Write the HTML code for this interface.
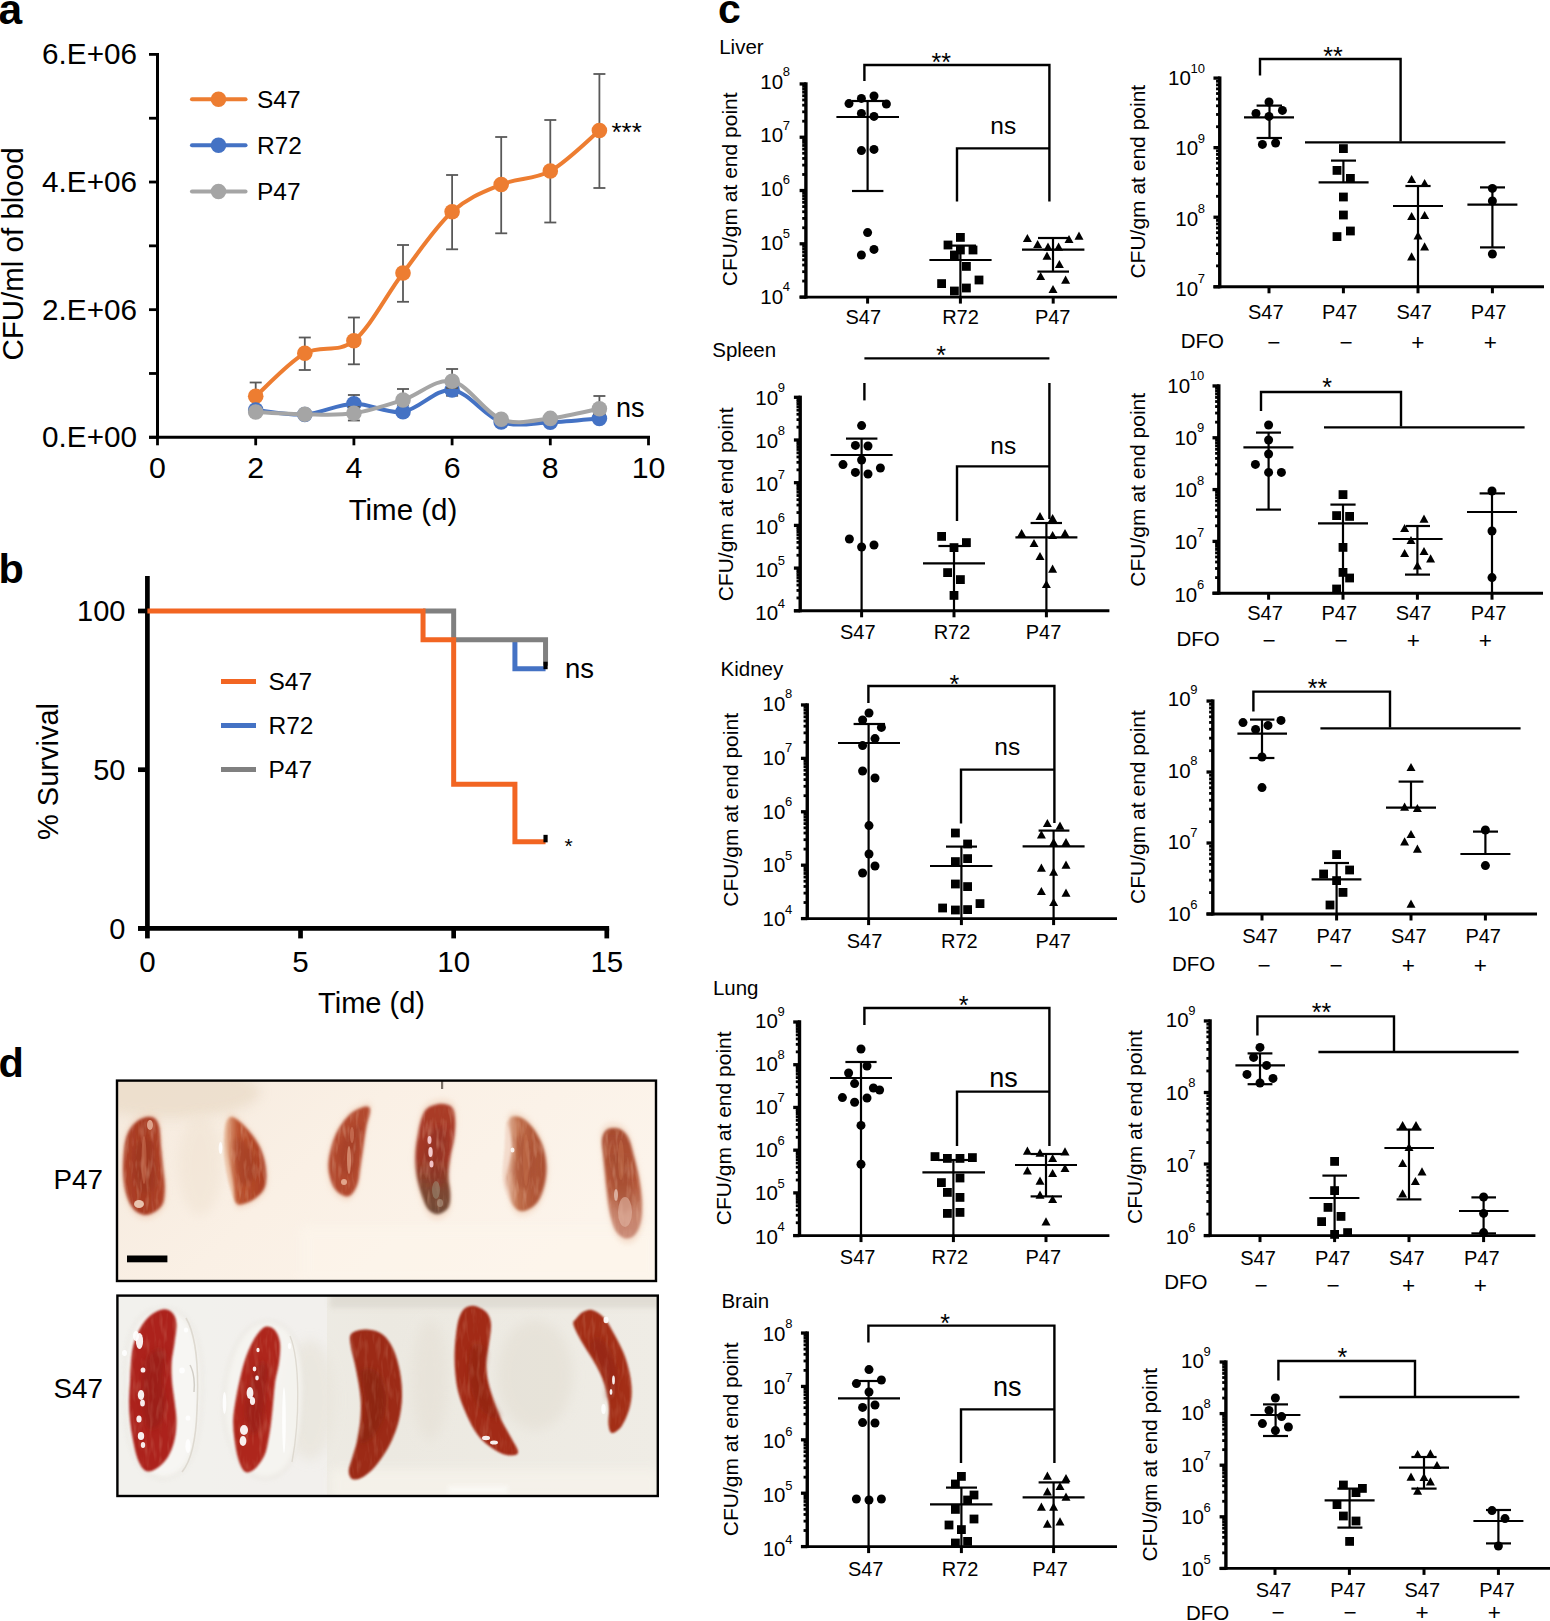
<!DOCTYPE html>
<html lang="en">
<head>
<meta charset="utf-8">
<title>Figure</title>
<style>
html,body{margin:0;padding:0;background:#fff;}
body{width:1550px;height:1621px;overflow:hidden;}
svg{display:block;}
text{font-family:'Liberation Sans', Arial, Helvetica, sans-serif;}
</style>
</head>
<body>
<svg width="1550" height="1621" viewBox="0 0 1550 1621" font-family="'Liberation Sans', Arial, Helvetica, sans-serif" fill="#000">
<rect x="0" y="0" width="1550" height="1621" fill="#fff"/>
<g id="panel-a">
<text x="-1.5" y="23.5" font-size="42.5" text-anchor="start" font-weight="bold">a</text>
<line x1="157.5" y1="52.9" x2="157.5" y2="438.8" stroke="#000" stroke-width="3" stroke-linecap="butt"/>
<line x1="149" y1="437.3" x2="650" y2="437.3" stroke="#000" stroke-width="3" stroke-linecap="butt"/>
<line x1="149" y1="437.3" x2="157.5" y2="437.3" stroke="#000" stroke-width="2.8" stroke-linecap="butt"/>
<line x1="149" y1="373.48" x2="157.5" y2="373.48" stroke="#000" stroke-width="2.8" stroke-linecap="butt"/>
<line x1="149" y1="309.67" x2="157.5" y2="309.67" stroke="#000" stroke-width="2.8" stroke-linecap="butt"/>
<line x1="149" y1="245.85" x2="157.5" y2="245.85" stroke="#000" stroke-width="2.8" stroke-linecap="butt"/>
<line x1="149" y1="182.03" x2="157.5" y2="182.03" stroke="#000" stroke-width="2.8" stroke-linecap="butt"/>
<line x1="149" y1="118.22" x2="157.5" y2="118.22" stroke="#000" stroke-width="2.8" stroke-linecap="butt"/>
<line x1="149" y1="54.4" x2="157.5" y2="54.4" stroke="#000" stroke-width="2.8" stroke-linecap="butt"/>
<text x="137" y="447.2" font-size="29.7" text-anchor="end" font-weight="normal">0.E+00</text>
<text x="137" y="319.57" font-size="29.7" text-anchor="end" font-weight="normal">2.E+06</text>
<text x="137" y="191.93" font-size="29.7" text-anchor="end" font-weight="normal">4.E+06</text>
<text x="137" y="64.3" font-size="29.7" text-anchor="end" font-weight="normal">6.E+06</text>
<line x1="157.5" y1="437.3" x2="157.5" y2="445.3" stroke="#000" stroke-width="2.8" stroke-linecap="butt"/>
<text x="157.5" y="478.2" font-size="30.3" text-anchor="middle" font-weight="normal">0</text>
<line x1="255.7" y1="437.3" x2="255.7" y2="445.3" stroke="#000" stroke-width="2.8" stroke-linecap="butt"/>
<text x="255.7" y="478.2" font-size="30.3" text-anchor="middle" font-weight="normal">2</text>
<line x1="353.9" y1="437.3" x2="353.9" y2="445.3" stroke="#000" stroke-width="2.8" stroke-linecap="butt"/>
<text x="353.9" y="478.2" font-size="30.3" text-anchor="middle" font-weight="normal">4</text>
<line x1="452.1" y1="437.3" x2="452.1" y2="445.3" stroke="#000" stroke-width="2.8" stroke-linecap="butt"/>
<text x="452.1" y="478.2" font-size="30.3" text-anchor="middle" font-weight="normal">6</text>
<line x1="550.3" y1="437.3" x2="550.3" y2="445.3" stroke="#000" stroke-width="2.8" stroke-linecap="butt"/>
<text x="550.3" y="478.2" font-size="30.3" text-anchor="middle" font-weight="normal">8</text>
<line x1="648.5" y1="437.3" x2="648.5" y2="445.3" stroke="#000" stroke-width="2.8" stroke-linecap="butt"/>
<text x="648.5" y="478.2" font-size="30.3" text-anchor="middle" font-weight="normal">10</text>
<text x="403" y="520" font-size="29.5" text-anchor="middle" font-weight="normal">Time (d)</text>
<text x="22.7" y="254" font-size="29.5" text-anchor="middle" font-weight="normal" transform="rotate(-90 22.7 254)">CFU/ml of blood</text>
<line x1="255.7" y1="382.5" x2="255.7" y2="410" stroke="#595959" stroke-width="1.8" stroke-linecap="butt"/>
<line x1="249.7" y1="382.5" x2="261.7" y2="382.5" stroke="#595959" stroke-width="1.8" stroke-linecap="butt"/>
<line x1="249.7" y1="410" x2="261.7" y2="410" stroke="#595959" stroke-width="1.8" stroke-linecap="butt"/>
<line x1="304.8" y1="337.5" x2="304.8" y2="370" stroke="#595959" stroke-width="1.8" stroke-linecap="butt"/>
<line x1="298.8" y1="337.5" x2="310.8" y2="337.5" stroke="#595959" stroke-width="1.8" stroke-linecap="butt"/>
<line x1="298.8" y1="370" x2="310.8" y2="370" stroke="#595959" stroke-width="1.8" stroke-linecap="butt"/>
<line x1="353.9" y1="317.5" x2="353.9" y2="364.3" stroke="#595959" stroke-width="1.8" stroke-linecap="butt"/>
<line x1="347.9" y1="317.5" x2="359.9" y2="317.5" stroke="#595959" stroke-width="1.8" stroke-linecap="butt"/>
<line x1="347.9" y1="364.3" x2="359.9" y2="364.3" stroke="#595959" stroke-width="1.8" stroke-linecap="butt"/>
<line x1="403" y1="245" x2="403" y2="301.8" stroke="#595959" stroke-width="1.8" stroke-linecap="butt"/>
<line x1="397" y1="245" x2="409" y2="245" stroke="#595959" stroke-width="1.8" stroke-linecap="butt"/>
<line x1="397" y1="301.8" x2="409" y2="301.8" stroke="#595959" stroke-width="1.8" stroke-linecap="butt"/>
<line x1="452.1" y1="175" x2="452.1" y2="249.3" stroke="#595959" stroke-width="1.8" stroke-linecap="butt"/>
<line x1="446.1" y1="175" x2="458.1" y2="175" stroke="#595959" stroke-width="1.8" stroke-linecap="butt"/>
<line x1="446.1" y1="249.3" x2="458.1" y2="249.3" stroke="#595959" stroke-width="1.8" stroke-linecap="butt"/>
<line x1="501.2" y1="137" x2="501.2" y2="233.3" stroke="#595959" stroke-width="1.8" stroke-linecap="butt"/>
<line x1="495.2" y1="137" x2="507.2" y2="137" stroke="#595959" stroke-width="1.8" stroke-linecap="butt"/>
<line x1="495.2" y1="233.3" x2="507.2" y2="233.3" stroke="#595959" stroke-width="1.8" stroke-linecap="butt"/>
<line x1="550.3" y1="120" x2="550.3" y2="222.5" stroke="#595959" stroke-width="1.8" stroke-linecap="butt"/>
<line x1="544.3" y1="120" x2="556.3" y2="120" stroke="#595959" stroke-width="1.8" stroke-linecap="butt"/>
<line x1="544.3" y1="222.5" x2="556.3" y2="222.5" stroke="#595959" stroke-width="1.8" stroke-linecap="butt"/>
<line x1="599.4" y1="74" x2="599.4" y2="188" stroke="#595959" stroke-width="1.8" stroke-linecap="butt"/>
<line x1="593.4" y1="74" x2="605.4" y2="74" stroke="#595959" stroke-width="1.8" stroke-linecap="butt"/>
<line x1="593.4" y1="188" x2="605.4" y2="188" stroke="#595959" stroke-width="1.8" stroke-linecap="butt"/>
<path d="M255.7,396.3 C263.88,389.13 288.43,362.55 304.8,353.3 C321.17,344.05 337.53,354.18 353.9,340.8 C370.27,327.42 386.63,294.5 403,273 C419.37,251.5 435.73,226.55 452.1,211.8 C468.47,197.05 484.83,191.3 501.2,184.5 C517.57,177.7 533.93,180 550.3,171 C566.67,162 591.22,137.25 599.4,130.5" fill="none" stroke="#ED7D31" stroke-width="4" stroke-linecap="round" stroke-linejoin="round"/>
<circle cx="255.7" cy="396.3" r="7.8" fill="#ED7D31"/>
<circle cx="304.8" cy="353.3" r="7.8" fill="#ED7D31"/>
<circle cx="353.9" cy="340.8" r="7.8" fill="#ED7D31"/>
<circle cx="403" cy="273" r="7.8" fill="#ED7D31"/>
<circle cx="452.1" cy="211.8" r="7.8" fill="#ED7D31"/>
<circle cx="501.2" cy="184.5" r="7.8" fill="#ED7D31"/>
<circle cx="550.3" cy="171" r="7.8" fill="#ED7D31"/>
<circle cx="599.4" cy="130.5" r="7.8" fill="#ED7D31"/>
<line x1="353.9" y1="395" x2="353.9" y2="408" stroke="#595959" stroke-width="1.8" stroke-linecap="butt"/>
<line x1="347.9" y1="395" x2="359.9" y2="395" stroke="#595959" stroke-width="1.8" stroke-linecap="butt"/>
<line x1="347.9" y1="408" x2="359.9" y2="408" stroke="#595959" stroke-width="1.8" stroke-linecap="butt"/>
<line x1="452.1" y1="386" x2="452.1" y2="395.8" stroke="#595959" stroke-width="1.8" stroke-linecap="butt"/>
<line x1="446.1" y1="386" x2="458.1" y2="386" stroke="#595959" stroke-width="1.8" stroke-linecap="butt"/>
<line x1="446.1" y1="395.8" x2="458.1" y2="395.8" stroke="#595959" stroke-width="1.8" stroke-linecap="butt"/>
<path d="M255.7,410 C263.88,410.75 288.43,415.53 304.8,414.5 C321.17,413.47 337.53,404.25 353.9,403.8 C370.27,403.35 386.63,414.1 403,411.8 C419.37,409.5 435.73,388.3 452.1,390 C468.47,391.7 484.83,416.62 501.2,422 C517.57,427.38 533.93,422.9 550.3,422.3 C566.67,421.7 591.22,419.05 599.4,418.4" fill="none" stroke="#4472C4" stroke-width="4" stroke-linecap="round" stroke-linejoin="round"/>
<circle cx="255.7" cy="410" r="7.8" fill="#4472C4"/>
<circle cx="304.8" cy="414.5" r="7.8" fill="#4472C4"/>
<circle cx="353.9" cy="403.8" r="7.8" fill="#4472C4"/>
<circle cx="403" cy="411.8" r="7.8" fill="#4472C4"/>
<circle cx="452.1" cy="390" r="7.8" fill="#4472C4"/>
<circle cx="501.2" cy="422" r="7.8" fill="#4472C4"/>
<circle cx="550.3" cy="422.3" r="7.8" fill="#4472C4"/>
<circle cx="599.4" cy="418.4" r="7.8" fill="#4472C4"/>
<line x1="353.9" y1="407" x2="353.9" y2="420.5" stroke="#595959" stroke-width="1.8" stroke-linecap="butt"/>
<line x1="347.9" y1="407" x2="359.9" y2="407" stroke="#595959" stroke-width="1.8" stroke-linecap="butt"/>
<line x1="347.9" y1="420.5" x2="359.9" y2="420.5" stroke="#595959" stroke-width="1.8" stroke-linecap="butt"/>
<line x1="403" y1="389" x2="403" y2="405" stroke="#595959" stroke-width="1.8" stroke-linecap="butt"/>
<line x1="397" y1="389" x2="409" y2="389" stroke="#595959" stroke-width="1.8" stroke-linecap="butt"/>
<line x1="397" y1="405" x2="409" y2="405" stroke="#595959" stroke-width="1.8" stroke-linecap="butt"/>
<line x1="452.1" y1="369" x2="452.1" y2="388" stroke="#595959" stroke-width="1.8" stroke-linecap="butt"/>
<line x1="446.1" y1="369" x2="458.1" y2="369" stroke="#595959" stroke-width="1.8" stroke-linecap="butt"/>
<line x1="446.1" y1="388" x2="458.1" y2="388" stroke="#595959" stroke-width="1.8" stroke-linecap="butt"/>
<line x1="599.4" y1="396" x2="599.4" y2="414" stroke="#595959" stroke-width="1.8" stroke-linecap="butt"/>
<line x1="593.4" y1="396" x2="605.4" y2="396" stroke="#595959" stroke-width="1.8" stroke-linecap="butt"/>
<line x1="593.4" y1="414" x2="605.4" y2="414" stroke="#595959" stroke-width="1.8" stroke-linecap="butt"/>
<path d="M255.7,412 C263.88,412.38 288.43,414.08 304.8,414.3 C321.17,414.52 337.53,415.68 353.9,413.3 C370.27,410.92 386.63,405.33 403,400 C419.37,394.67 435.73,378.08 452.1,381.3 C468.47,384.52 484.83,413.12 501.2,419.3 C517.57,425.48 533.93,420.17 550.3,418.4 C566.67,416.63 591.22,410.32 599.4,408.7" fill="none" stroke="#A5A5A5" stroke-width="4" stroke-linecap="round" stroke-linejoin="round"/>
<circle cx="255.7" cy="412" r="7.8" fill="#A5A5A5"/>
<circle cx="304.8" cy="414.3" r="7.8" fill="#A5A5A5"/>
<circle cx="353.9" cy="413.3" r="7.8" fill="#A5A5A5"/>
<circle cx="403" cy="400" r="7.8" fill="#A5A5A5"/>
<circle cx="452.1" cy="381.3" r="7.8" fill="#A5A5A5"/>
<circle cx="501.2" cy="419.3" r="7.8" fill="#A5A5A5"/>
<circle cx="550.3" cy="418.4" r="7.8" fill="#A5A5A5"/>
<circle cx="599.4" cy="408.7" r="7.8" fill="#A5A5A5"/>
<line x1="192" y1="99.2" x2="245.5" y2="99.2" stroke="#ED7D31" stroke-width="4.1" stroke-linecap="round"/>
<circle cx="218.5" cy="99.2" r="7.8" fill="#ED7D31"/>
<text x="257" y="107.9" font-size="24.5" text-anchor="start" font-weight="normal">S47</text>
<line x1="192" y1="145.2" x2="245.5" y2="145.2" stroke="#4472C4" stroke-width="4.1" stroke-linecap="round"/>
<circle cx="218.5" cy="145.2" r="7.8" fill="#4472C4"/>
<text x="257" y="153.9" font-size="24.5" text-anchor="start" font-weight="normal">R72</text>
<line x1="192" y1="191.5" x2="245.5" y2="191.5" stroke="#A5A5A5" stroke-width="4.1" stroke-linecap="round"/>
<circle cx="218.5" cy="191.5" r="7.8" fill="#A5A5A5"/>
<text x="257" y="200.2" font-size="24.5" text-anchor="start" font-weight="normal">P47</text>
<text x="611.5" y="140.5" font-size="26" text-anchor="start" font-weight="normal">***</text>
<text x="616" y="417.3" font-size="27" text-anchor="start" font-weight="normal">ns</text>
</g>
<g id="panel-b">
<text x="-1.5" y="582.9" font-size="41.5" text-anchor="start" font-weight="bold">b</text>
<line x1="147.4" y1="576" x2="147.4" y2="930.75" stroke="#000" stroke-width="4.7" stroke-linecap="butt"/>
<line x1="138" y1="928.4" x2="609.15" y2="928.4" stroke="#000" stroke-width="4.7" stroke-linecap="butt"/>
<line x1="138" y1="928.4" x2="147.4" y2="928.4" stroke="#000" stroke-width="4.7" stroke-linecap="butt"/>
<text x="125.5" y="938.6" font-size="29" text-anchor="end" font-weight="normal">0</text>
<line x1="138" y1="769.7" x2="147.4" y2="769.7" stroke="#000" stroke-width="4.7" stroke-linecap="butt"/>
<text x="125.5" y="779.9" font-size="29" text-anchor="end" font-weight="normal">50</text>
<line x1="138" y1="611" x2="147.4" y2="611" stroke="#000" stroke-width="4.7" stroke-linecap="butt"/>
<text x="125.5" y="621.2" font-size="29" text-anchor="end" font-weight="normal">100</text>
<line x1="147.4" y1="928.4" x2="147.4" y2="938.4" stroke="#000" stroke-width="4.7" stroke-linecap="butt"/>
<text x="147.4" y="971.6" font-size="29.5" text-anchor="middle" font-weight="normal">0</text>
<line x1="300.53" y1="928.4" x2="300.53" y2="938.4" stroke="#000" stroke-width="4.7" stroke-linecap="butt"/>
<text x="300.53" y="971.6" font-size="29.5" text-anchor="middle" font-weight="normal">5</text>
<line x1="453.67" y1="928.4" x2="453.67" y2="938.4" stroke="#000" stroke-width="4.7" stroke-linecap="butt"/>
<text x="453.67" y="971.6" font-size="29.5" text-anchor="middle" font-weight="normal">10</text>
<line x1="606.8" y1="928.4" x2="606.8" y2="938.4" stroke="#000" stroke-width="4.7" stroke-linecap="butt"/>
<text x="606.8" y="971.6" font-size="29.5" text-anchor="middle" font-weight="normal">15</text>
<text x="371.5" y="1013.1" font-size="29" text-anchor="middle" font-weight="normal">Time (d)</text>
<text x="58" y="771.5" font-size="29" text-anchor="middle" font-weight="normal" transform="rotate(-90 58 771.5)">% Survival</text>
<path d="M514.92,639.85 L514.92,668.71 L545.55,668.71" fill="none" stroke="#4472C4" stroke-width="5" stroke-linejoin="miter"/>
<path d="M423.04,611 L453.67,611 L453.67,639.85 L545.55,639.85 L545.55,665.71" fill="none" stroke="#808080" stroke-width="5" stroke-linejoin="miter"/>
<path d="M147.4,611 L423.04,611 L423.04,639.85 L453.67,639.85 L453.67,784.13 L514.92,784.13 L514.92,841.84 L545.55,841.84" fill="none" stroke="#F26522" stroke-width="5" stroke-linejoin="miter"/>
<line x1="545.55" y1="661.71" x2="545.55" y2="669.21" stroke="#000" stroke-width="4.2" stroke-linecap="butt"/>
<line x1="545.55" y1="834.84" x2="545.55" y2="842.34" stroke="#000" stroke-width="4.2" stroke-linecap="butt"/>
<line x1="221" y1="681.4" x2="256" y2="681.4" stroke="#F26522" stroke-width="5" stroke-linecap="butt"/>
<text x="268.5" y="690.1" font-size="24.5" text-anchor="start" font-weight="normal">S47</text>
<line x1="221" y1="725.4" x2="256" y2="725.4" stroke="#4472C4" stroke-width="5" stroke-linecap="butt"/>
<text x="268.5" y="734.1" font-size="24.5" text-anchor="start" font-weight="normal">R72</text>
<line x1="221" y1="769.6" x2="256" y2="769.6" stroke="#808080" stroke-width="5" stroke-linecap="butt"/>
<text x="268.5" y="778.3" font-size="24.5" text-anchor="start" font-weight="normal">P47</text>
<text x="565" y="678" font-size="27.5" text-anchor="start" font-weight="normal">ns</text>
<text x="564.5" y="853" font-size="21" text-anchor="start" font-weight="normal">*</text>
</g>
<g id="panel-d">
<text x="-1.5" y="1077.2" font-size="41.5" text-anchor="start" font-weight="bold">d</text>
<text x="53.5" y="1188.8" font-size="27.8" text-anchor="start" font-weight="normal">P47</text>
<text x="53.5" y="1398" font-size="27.8" text-anchor="start" font-weight="normal">S47</text>
<defs>
<filter id="bl1" x="-20%" y="-20%" width="140%" height="140%"><feGaussianBlur stdDeviation="1.0"/></filter>
<filter id="bl2" x="-30%" y="-30%" width="160%" height="160%"><feGaussianBlur stdDeviation="2.6"/></filter>
<filter id="bl3" x="-30%" y="-30%" width="160%" height="160%"><feGaussianBlur stdDeviation="6"/></filter>
<filter id="bl0" x="-20%" y="-20%" width="140%" height="140%"><feGaussianBlur stdDeviation="0.7"/></filter>
<filter id="bl15" x="-20%" y="-20%" width="140%" height="140%"><feGaussianBlur stdDeviation="1.5"/></filter>
<filter id="tex" x="-10%" y="-10%" width="120%" height="120%"><feTurbulence type="fractalNoise" baseFrequency="0.22 0.05" numOctaves="2" seed="7" result="n"/><feColorMatrix in="n" type="matrix" values="0 0 0 0 0.80  0 0 0 0 0.46  0 0 0 0 0.32  2.2 0 0 0 -1.05" result="l"/><feColorMatrix in="n" type="matrix" values="0 0 0 0 0.42  0 0 0 0 0.10  0 0 0 0 0.05  0 -2.4 0 0 1.0" result="d"/><feMerge result="m"><feMergeNode in="d"/><feMergeNode in="l"/></feMerge><feGaussianBlur in="SourceAlpha" stdDeviation="1.6" result="a"/><feComposite in="m" in2="a" operator="in"/></filter>
<linearGradient id="bgT" x1="0" y1="0" x2="1" y2="0.4"><stop offset="0" stop-color="#F5EADE"/><stop offset="0.45" stop-color="#FAF0E5"/><stop offset="1" stop-color="#FCF4EB"/></linearGradient>
<linearGradient id="bgB" x1="0" y1="0" x2="1" y2="0"><stop offset="0" stop-color="#F1EFEA"/><stop offset="0.5" stop-color="#ECE9E1"/><stop offset="1" stop-color="#EFECE5"/></linearGradient>
<linearGradient id="sp4" x1="0" y1="0" x2="0" y2="1"><stop offset="0" stop-color="#AB3A28"/><stop offset="0.5" stop-color="#A03826"/><stop offset="0.75" stop-color="#80452F"/><stop offset="1" stop-color="#6E4A38"/></linearGradient>
<linearGradient id="sp6" x1="0" y1="0" x2="0" y2="1"><stop offset="0" stop-color="#A64A2E"/><stop offset="0.5" stop-color="#B4583A"/><stop offset="0.75" stop-color="#C58068"/><stop offset="1" stop-color="#C98A76"/></linearGradient>
<linearGradient id="sp5" x1="0" y1="0" x2="1" y2="0"><stop offset="0" stop-color="#E9C4AE"/><stop offset="0.3" stop-color="#C0704C"/><stop offset="0.6" stop-color="#B25A3A"/><stop offset="1" stop-color="#A94C30"/></linearGradient>
<linearGradient id="sp2" x1="0" y1="0" x2="1" y2="0"><stop offset="0" stop-color="#E1A886"/><stop offset="0.28" stop-color="#BC5430"/><stop offset="1" stop-color="#A93C21"/></linearGradient>
<linearGradient id="sp1" x1="0" y1="0" x2="1" y2="0"><stop offset="0" stop-color="#AE4228"/><stop offset="0.5" stop-color="#A63A22"/><stop offset="1" stop-color="#AF4329"/></linearGradient>
<clipPath id="cT"><rect x="117" y="1080.6" width="539" height="200.4"/></clipPath>
<clipPath id="cB"><rect x="117.4" y="1295.6" width="540.4" height="200.4"/></clipPath>
</defs>
<rect x="117" y="1080.6" width="539" height="200.4" fill="url(#bgT)"/>
<g clip-path="url(#cT)">
<rect x="300" y="1225" width="360" height="60" fill="#FDF6EC" opacity="0.6" filter="url(#bl3)"/>
<ellipse cx="170" cy="1092" rx="90" ry="26" fill="#EBDDCA" opacity="0.85" filter="url(#bl3)"/>
<ellipse cx="200" cy="1165" rx="22" ry="50" fill="#F0E3D3" opacity="0.6" filter="url(#bl3)"/>
<path d="M141.33,1113.63 C145.23,1112.04 150.91,1111.15 154.1,1112.57 C157.29,1113.99 159.07,1116.65 160.49,1122.15 C161.91,1127.65 161.91,1138.12 162.62,1145.57 C163.33,1153.02 164.04,1159.76 164.75,1166.86 C165.46,1173.96 166.87,1181.41 166.87,1188.15 C166.87,1194.89 166.7,1202.52 164.75,1207.31 C162.79,1212.1 158.71,1214.83 155.16,1216.89 C151.62,1218.95 147.36,1220.37 143.46,1219.66 C139.55,1218.95 134.94,1216.47 131.75,1212.63 C128.55,1208.8 126.07,1202.88 124.29,1196.67 C122.52,1190.46 121.56,1182.47 121.1,1175.38 C120.64,1168.28 120.99,1160.83 121.53,1154.09 C122.06,1147.34 122.77,1140.25 124.29,1134.92 C125.82,1129.6 127.84,1125.7 130.68,1122.15 C133.52,1118.6 137.42,1115.23 141.33,1113.63Z" fill="#F1D3BE" opacity="0.55" filter="url(#bl2)"/>
<path d="M229.37,1112.87 C231.68,1111.63 234.87,1113.76 238.95,1117.13 C243.03,1120.5 249.77,1127.6 253.86,1133.1 C257.94,1138.6 261.02,1143.74 263.44,1150.13 C265.85,1156.52 267.8,1164.68 268.33,1171.42 C268.86,1178.16 268.69,1185.43 266.63,1190.58 C264.57,1195.72 260.24,1199.27 255.98,1202.29 C251.73,1205.31 244.63,1208.14 241.08,1208.68 C237.53,1209.21 236.11,1208.85 234.69,1205.48 C233.27,1202.11 233.56,1194.84 232.56,1188.45 C231.57,1182.06 229.97,1174.26 228.73,1167.16 C227.49,1160.06 225.72,1152.97 225.11,1145.87 C224.51,1138.77 224.4,1130.08 225.11,1124.58 C225.82,1119.08 227.06,1114.11 229.37,1112.87Z" fill="#F1D3BE" opacity="0.55" filter="url(#bl2)"/>
<path d="M369.76,1102.56 C371.35,1103.27 372.24,1103.98 371.89,1107.88 C371.53,1111.78 368.87,1119.41 367.63,1125.98 C366.39,1132.54 365.5,1140.17 364.43,1147.27 C363.37,1154.36 362.3,1161.82 361.24,1168.56 C360.18,1175.3 360,1182.4 358.05,1187.72 C356.1,1193.04 352.72,1198.72 349.53,1200.49 C346.34,1202.27 342.08,1200.49 338.89,1198.36 C335.69,1196.23 332.5,1192.69 330.37,1187.72 C328.24,1182.75 326.29,1175.3 326.11,1168.56 C325.93,1161.82 327.53,1154.01 329.3,1147.27 C331.08,1140.52 333.39,1134.14 336.76,1128.11 C340.13,1122.07 345.27,1115.15 349.53,1111.07 C353.79,1106.99 358.93,1105.04 362.3,1103.62 C365.68,1102.2 368.16,1101.85 369.76,1102.56Z" fill="#F1D3BE" opacity="0.55" filter="url(#bl2)"/>
<path d="M427.19,1102.85 C430.74,1100.55 437.66,1098.6 442.1,1098.6 C446.53,1098.6 451.32,1099.84 453.81,1102.85 C456.29,1105.87 456.64,1111.19 457,1116.69 C457.35,1122.19 456.82,1129.11 455.93,1135.85 C455.05,1142.6 452.74,1150.05 451.68,1157.14 C450.61,1164.24 449.55,1171.69 449.55,1178.43 C449.55,1185.18 451.68,1191.92 451.68,1197.6 C451.68,1203.27 451.85,1208.77 449.55,1212.5 C447.24,1216.22 441.56,1219.6 437.84,1219.95 C434.11,1220.31 430.21,1218.35 427.19,1214.63 C424.18,1210.9 421.87,1203.98 419.74,1197.6 C417.61,1191.21 415.48,1183.76 414.42,1176.31 C413.35,1168.85 413,1160.69 413.35,1152.89 C413.71,1145.08 415.31,1136.21 416.55,1129.47 C417.79,1122.73 419.03,1116.87 420.81,1112.44 C422.58,1108 423.64,1105.16 427.19,1102.85Z" fill="#F1D3BE" opacity="0.55" filter="url(#bl2)"/>
<path d="M511.28,1111.97 C513.94,1111.26 518.91,1111.62 522.99,1114.1 C527.07,1116.59 532.04,1121.55 535.76,1126.88 C539.49,1132.2 543.14,1139.3 545.34,1146.04 C547.54,1152.78 548.79,1160.23 548.96,1167.33 C549.14,1174.43 548.25,1181.88 546.41,1188.62 C544.56,1195.36 541.8,1203.17 537.89,1207.78 C533.99,1212.39 527.25,1215.94 522.99,1216.3 C518.73,1216.65 515.01,1213.81 512.34,1209.91 C509.68,1206.01 508.44,1197.84 507.02,1192.88 C505.6,1187.91 503.65,1185.07 503.83,1180.1 C504.01,1175.13 506.84,1168.75 508.09,1163.07 C509.33,1157.39 511.1,1151.72 511.28,1146.04 C511.46,1140.36 509.86,1133.62 509.15,1129.01 C508.44,1124.39 506.67,1121.2 507.02,1118.36 C507.38,1115.52 508.62,1112.68 511.28,1111.97Z" fill="#F1D3BE" opacity="0.55" filter="url(#bl2)"/>
<path d="M606.76,1123.72 C609.95,1122.13 615.81,1122.13 619.53,1123.72 C623.26,1125.32 626.45,1128.16 629.11,1133.3 C631.78,1138.45 633.55,1147.14 635.5,1154.59 C637.45,1162.04 639.4,1169.85 640.82,1178.01 C642.24,1186.17 643.66,1195.75 644.02,1203.56 C644.37,1211.37 644.2,1218.82 642.95,1224.85 C641.71,1230.88 639.4,1236.56 636.57,1239.75 C633.73,1242.95 629.47,1244.72 625.92,1244.01 C622.37,1243.3 618.11,1240.11 615.28,1235.5 C612.44,1230.88 610.49,1223.08 608.89,1216.33 C607.29,1209.59 606.58,1202.14 605.7,1195.04 C604.81,1187.95 604.28,1180.85 603.57,1173.75 C602.86,1166.66 601.97,1159.21 601.44,1152.46 C600.9,1145.72 599.49,1138.09 600.37,1133.3 C601.26,1128.51 603.57,1125.32 606.76,1123.72Z" fill="#F1D3BE" opacity="0.55" filter="url(#bl2)"/>
<path d="M225.81,1122.26 C227.42,1117.1 231.93,1114.52 233.55,1120.32 C235.16,1126.13 234.84,1143.87 235.48,1157.1 C236.13,1170.32 237.74,1192.9 237.42,1199.68 C237.1,1206.45 235.16,1201.29 233.55,1197.74 C231.93,1194.19 229.35,1186.13 227.74,1178.39 C226.13,1170.64 224.19,1160.64 223.87,1151.29 C223.55,1141.94 224.19,1127.42 225.81,1122.26Z" fill="#EBC2A6" opacity="0.9" filter="url(#bl1)"/>
<path d="M506.45,1122.26 C507.9,1119.03 511.93,1123.23 513.22,1128.06 C514.52,1132.9 514.52,1143.55 514.19,1151.29 C513.87,1159.03 511.45,1165.81 511.29,1174.52 C511.13,1183.23 514.03,1200.32 513.22,1203.55 C512.42,1206.77 508.22,1198.71 506.45,1193.87 C504.68,1189.03 502.9,1182.26 502.58,1174.52 C502.26,1166.77 503.87,1156.13 504.52,1147.42 C505.16,1138.71 505,1125.48 506.45,1122.26Z" fill="#F3DACB" opacity="0.95" filter="url(#bl1)"/>
<path d="M141.61,1118.39 C145.16,1116.94 150.32,1116.13 153.23,1117.42 C156.13,1118.71 157.74,1121.13 159.03,1126.13 C160.32,1131.13 160.32,1140.64 160.97,1147.42 C161.61,1154.19 162.26,1160.32 162.9,1166.77 C163.55,1173.23 164.84,1180 164.84,1186.13 C164.84,1192.26 164.68,1199.19 162.9,1203.55 C161.13,1207.9 157.42,1210.39 154.19,1212.26 C150.97,1214.13 147.1,1215.42 143.55,1214.77 C140,1214.13 135.81,1211.87 132.9,1208.39 C130,1204.9 127.74,1199.52 126.13,1193.87 C124.52,1188.23 123.65,1180.97 123.23,1174.52 C122.81,1168.06 123.13,1161.29 123.61,1155.16 C124.1,1149.03 124.74,1142.58 126.13,1137.74 C127.52,1132.9 129.35,1129.35 131.94,1126.13 C134.52,1122.9 138.06,1119.84 141.61,1118.39Z" fill="url(#sp1)" filter="url(#bl15)"/>
<path d="M142.9,1139.77 C144.85,1138.97 147.69,1138.53 149.29,1139.24 C150.89,1139.95 151.77,1141.28 152.48,1144.03 C153.19,1146.78 153.19,1152.01 153.55,1155.74 C153.9,1159.47 154.26,1162.84 154.61,1166.38 C154.97,1169.93 155.68,1173.66 155.68,1177.03 C155.68,1180.4 155.59,1184.22 154.61,1186.61 C153.64,1189.01 151.6,1190.37 149.82,1191.4 C148.05,1192.43 145.92,1193.14 143.97,1192.78 C142.01,1192.43 139.71,1191.19 138.11,1189.27 C136.51,1187.36 135.27,1184.39 134.39,1181.29 C133.5,1178.18 133.02,1174.19 132.79,1170.64 C132.56,1167.09 132.74,1163.37 133,1160 C133.27,1156.63 133.62,1153.08 134.39,1150.42 C135.15,1147.76 136.16,1145.8 137.58,1144.03 C139,1142.26 140.95,1140.57 142.9,1139.77Z" fill="#94321E" opacity="0.45" filter="url(#bl2)"/>
<path d="M141.7,1119.81 C145.14,1118.4 150.15,1117.62 152.96,1118.87 C155.78,1120.13 157.34,1122.47 158.6,1127.32 C159.85,1132.17 159.85,1141.4 160.47,1147.97 C161.1,1154.54 161.72,1160.49 162.35,1166.75 C162.98,1173.01 164.23,1179.58 164.23,1185.52 C164.23,1191.47 164.07,1198.19 162.35,1202.42 C160.63,1206.64 157.03,1209.05 153.9,1210.87 C150.77,1212.68 147.02,1213.93 143.58,1213.31 C140.13,1212.68 136.07,1210.49 133.25,1207.11 C130.43,1203.73 128.24,1198.51 126.68,1193.03 C125.11,1187.56 124.27,1180.52 123.86,1174.26 C123.46,1168 123.77,1161.43 124.24,1155.48 C124.71,1149.54 125.33,1143.28 126.68,1138.59 C128.02,1133.89 129.81,1130.45 132.31,1127.32 C134.81,1124.19 138.26,1121.22 141.7,1119.81Z" fill="#000" opacity="0.42" filter="url(#tex)"/>
<path d="M230.64,1117.42 C232.74,1116.29 235.64,1118.23 239.35,1121.29 C243.06,1124.35 249.19,1130.81 252.9,1135.81 C256.61,1140.81 259.42,1145.48 261.61,1151.29 C263.81,1157.1 265.58,1164.52 266.06,1170.64 C266.55,1176.77 266.39,1183.39 264.52,1188.06 C262.64,1192.74 258.71,1195.97 254.84,1198.71 C250.97,1201.45 244.52,1204.03 241.29,1204.52 C238.06,1205 236.77,1204.68 235.48,1201.61 C234.19,1198.55 234.45,1191.93 233.55,1186.13 C232.64,1180.32 231.19,1173.23 230.06,1166.77 C228.93,1160.32 227.32,1153.87 226.77,1147.42 C226.22,1140.97 226.13,1133.06 226.77,1128.06 C227.42,1123.06 228.55,1118.55 230.64,1117.42Z" fill="url(#sp2)" filter="url(#bl15)"/>
<path d="M236.37,1137.89 C237.53,1137.27 239.12,1138.33 241.16,1140.02 C243.2,1141.7 246.57,1145.25 248.61,1148 C250.65,1150.75 252.2,1153.32 253.4,1156.52 C254.61,1159.71 255.59,1163.79 255.85,1167.16 C256.12,1170.53 256.03,1174.17 255,1176.74 C253.97,1179.31 251.81,1181.09 249.68,1182.6 C247.55,1184.1 244,1185.52 242.23,1185.79 C240.45,1186.06 239.74,1185.88 239.03,1184.19 C238.32,1182.51 238.47,1178.87 237.97,1175.68 C237.47,1172.48 236.67,1168.58 236.05,1165.03 C235.43,1161.48 234.55,1157.93 234.24,1154.39 C233.94,1150.84 233.89,1146.49 234.24,1143.74 C234.6,1140.99 235.22,1138.51 236.37,1137.89Z" fill="#9A3820" opacity="0.45" filter="url(#bl2)"/>
<path d="M231.03,1118.78 C233.06,1117.69 235.88,1119.57 239.47,1122.54 C243.07,1125.51 249.02,1131.77 252.62,1136.62 C256.21,1141.47 258.94,1146.01 261.06,1151.64 C263.19,1157.27 264.91,1164.47 265.38,1170.41 C265.85,1176.36 265.7,1182.77 263.88,1187.31 C262.07,1191.85 258.25,1194.98 254.49,1197.63 C250.74,1200.29 244.48,1202.8 241.35,1203.27 C238.22,1203.74 236.97,1203.42 235.72,1200.45 C234.47,1197.48 234.72,1191.06 233.84,1185.43 C232.97,1179.8 231.56,1172.92 230.46,1166.66 C229.37,1160.4 227.8,1154.14 227.27,1147.88 C226.74,1141.63 226.65,1133.96 227.27,1129.11 C227.9,1124.26 228.99,1119.88 231.03,1118.78Z" fill="#000" opacity="0.42" filter="url(#tex)"/>
<path d="M368.06,1106.77 C369.51,1107.42 370.32,1108.06 370,1111.61 C369.68,1115.16 367.26,1122.1 366.13,1128.06 C365,1134.03 364.19,1140.97 363.22,1147.42 C362.26,1153.87 361.29,1160.64 360.32,1166.77 C359.35,1172.9 359.19,1179.35 357.42,1184.19 C355.64,1189.03 352.58,1194.19 349.68,1195.81 C346.77,1197.42 342.9,1195.81 340,1193.87 C337.1,1191.93 334.19,1188.71 332.26,1184.19 C330.32,1179.68 328.55,1172.9 328.39,1166.77 C328.22,1160.64 329.68,1153.55 331.29,1147.42 C332.9,1141.29 335,1135.48 338.06,1130 C341.13,1124.52 345.8,1118.23 349.68,1114.52 C353.55,1110.81 358.22,1109.03 361.29,1107.74 C364.35,1106.45 366.61,1106.13 368.06,1106.77Z" fill="#B2482D" filter="url(#bl15)"/>
<path d="M360.44,1125.75 C361.24,1126.1 361.68,1126.46 361.51,1128.41 C361.33,1130.36 360,1134.18 359.38,1137.46 C358.76,1140.74 358.31,1144.55 357.78,1148.1 C357.25,1151.65 356.72,1155.38 356.18,1158.75 C355.65,1162.12 355.56,1165.67 354.59,1168.33 C353.61,1170.99 351.93,1173.83 350.33,1174.72 C348.73,1175.6 346.6,1174.72 345.01,1173.65 C343.41,1172.59 341.81,1170.81 340.75,1168.33 C339.68,1165.85 338.71,1162.12 338.62,1158.75 C338.53,1155.38 339.33,1151.47 340.22,1148.1 C341.1,1144.73 342.26,1141.54 343.94,1138.52 C345.63,1135.51 348.2,1132.05 350.33,1130.01 C352.46,1127.97 355.03,1126.99 356.72,1126.28 C358.4,1125.57 359.64,1125.39 360.44,1125.75Z" fill="#9C3824" opacity="0.45" filter="url(#bl2)"/>
<path d="M367.55,1108.04 C368.96,1108.66 369.75,1109.29 369.43,1112.73 C369.12,1116.17 366.77,1122.9 365.68,1128.69 C364.58,1134.48 363.8,1141.21 362.86,1147.46 C361.92,1153.72 360.98,1160.29 360.05,1166.24 C359.11,1172.18 358.95,1178.44 357.23,1183.14 C355.51,1187.83 352.54,1192.84 349.72,1194.4 C346.9,1195.96 343.15,1194.4 340.33,1192.52 C337.52,1190.64 334.7,1187.52 332.82,1183.14 C330.95,1178.75 329.22,1172.18 329.07,1166.24 C328.91,1160.29 330.32,1153.41 331.88,1147.46 C333.45,1141.52 335.48,1135.89 338.45,1130.57 C341.43,1125.25 345.96,1119.15 349.72,1115.55 C353.47,1111.95 358.01,1110.23 360.98,1108.98 C363.96,1107.73 366.15,1107.41 367.55,1108.04Z" fill="#000" opacity="0.42" filter="url(#tex)"/>
<path d="M428.06,1107.74 C431.29,1105.64 437.58,1103.87 441.61,1103.87 C445.64,1103.87 450,1105 452.26,1107.74 C454.52,1110.48 454.84,1115.32 455.16,1120.32 C455.48,1125.32 455,1131.61 454.19,1137.74 C453.39,1143.87 451.29,1150.64 450.32,1157.1 C449.35,1163.55 448.39,1170.32 448.39,1176.45 C448.39,1182.58 450.32,1188.71 450.32,1193.87 C450.32,1199.03 450.48,1204.03 448.39,1207.42 C446.29,1210.81 441.13,1213.87 437.74,1214.19 C434.35,1214.52 430.81,1212.74 428.06,1209.35 C425.32,1205.97 423.23,1199.68 421.29,1193.87 C419.35,1188.06 417.42,1181.29 416.45,1174.52 C415.48,1167.74 415.16,1160.32 415.48,1153.23 C415.81,1146.13 417.26,1138.06 418.39,1131.94 C419.52,1125.81 420.64,1120.48 422.26,1116.45 C423.87,1112.42 424.84,1109.84 428.06,1107.74Z" fill="url(#sp4)" filter="url(#bl15)"/>
<path d="M431.98,1129.73 C433.76,1128.58 437.22,1127.6 439.44,1127.6 C441.65,1127.6 444.05,1128.23 445.29,1129.73 C446.53,1131.24 446.71,1133.9 446.89,1136.65 C447.06,1139.4 446.8,1142.86 446.35,1146.23 C445.91,1149.6 444.76,1153.33 444.23,1156.88 C443.69,1160.43 443.16,1164.15 443.16,1167.52 C443.16,1170.89 444.23,1174.27 444.23,1177.1 C444.23,1179.94 444.31,1182.69 443.16,1184.56 C442.01,1186.42 439.17,1188.1 437.31,1188.28 C435.44,1188.46 433.49,1187.48 431.98,1185.62 C430.48,1183.76 429.32,1180.3 428.26,1177.1 C427.19,1173.91 426.13,1170.18 425.6,1166.46 C425.06,1162.73 424.89,1158.65 425.06,1154.75 C425.24,1150.85 426.04,1146.41 426.66,1143.04 C427.28,1139.67 427.9,1136.74 428.79,1134.52 C429.68,1132.31 430.21,1130.89 431.98,1129.73Z" fill="#8A2E20" opacity="0.45" filter="url(#bl2)"/>
<path d="M428.33,1109.21 C431.45,1107.17 437.56,1105.45 441.47,1105.45 C445.38,1105.45 449.6,1106.55 451.79,1109.21 C453.98,1111.87 454.3,1116.56 454.61,1121.41 C454.92,1126.26 454.45,1132.36 453.67,1138.31 C452.89,1144.25 450.85,1150.82 449.92,1157.08 C448.98,1163.34 448.04,1169.91 448.04,1175.86 C448.04,1181.8 449.92,1187.75 449.92,1192.75 C449.92,1197.76 450.07,1202.61 448.04,1205.89 C446,1209.18 441,1212.15 437.71,1212.47 C434.43,1212.78 430.99,1211.06 428.33,1207.77 C425.67,1204.49 423.63,1198.38 421.75,1192.75 C419.88,1187.12 418,1180.55 417.06,1173.98 C416.12,1167.41 415.81,1160.21 416.12,1153.33 C416.44,1146.44 417.84,1138.62 418.94,1132.68 C420.03,1126.73 421.13,1121.57 422.69,1117.66 C424.26,1113.74 425.2,1111.24 428.33,1109.21Z" fill="#000" opacity="0.42" filter="url(#tex)"/>
<path d="M512.26,1116.45 C514.68,1115.81 519.19,1116.13 522.9,1118.39 C526.61,1120.64 531.13,1125.16 534.52,1130 C537.9,1134.84 541.22,1141.29 543.22,1147.42 C545.22,1153.55 546.35,1160.32 546.51,1166.77 C546.68,1173.23 545.87,1180 544.19,1186.13 C542.52,1192.26 540,1199.35 536.45,1203.55 C532.9,1207.74 526.77,1210.97 522.9,1211.29 C519.03,1211.61 515.64,1209.03 513.22,1205.48 C510.81,1201.93 509.68,1194.52 508.39,1190 C507.1,1185.48 505.32,1182.9 505.48,1178.39 C505.64,1173.87 508.22,1168.06 509.35,1162.9 C510.48,1157.74 512.1,1152.58 512.26,1147.42 C512.42,1142.26 510.97,1136.13 510.32,1131.94 C509.68,1127.74 508.06,1124.84 508.39,1122.26 C508.71,1119.68 509.84,1117.1 512.26,1116.45Z" fill="url(#sp5)" filter="url(#bl15)"/>
<path d="M516.65,1136.6 C517.98,1136.24 520.47,1136.42 522.51,1137.66 C524.55,1138.91 527.03,1141.39 528.89,1144.05 C530.76,1146.71 532.58,1150.26 533.68,1153.63 C534.78,1157 535.41,1160.73 535.49,1164.28 C535.58,1167.83 535.14,1171.55 534.22,1174.92 C533.29,1178.29 531.91,1182.2 529.96,1184.5 C528.01,1186.81 524.64,1188.58 522.51,1188.76 C520.38,1188.94 518.52,1187.52 517.18,1185.57 C515.85,1183.62 515.23,1179.53 514.52,1177.05 C513.81,1174.57 512.84,1173.15 512.93,1170.66 C513.02,1168.18 514.43,1164.99 515.06,1162.15 C515.68,1159.31 516.56,1156.47 516.65,1153.63 C516.74,1150.79 515.94,1147.42 515.59,1145.12 C515.23,1142.81 514.35,1141.21 514.52,1139.79 C514.7,1138.37 515.32,1136.95 516.65,1136.6Z" fill="#A4482E" opacity="0.45" filter="url(#bl2)"/>
<path d="M512.55,1117.79 C514.9,1117.17 519.28,1117.48 522.88,1119.67 C526.47,1121.86 530.85,1126.24 534.14,1130.94 C537.43,1135.63 540.65,1141.89 542.59,1147.83 C544.53,1153.78 545.62,1160.35 545.78,1166.61 C545.94,1172.87 545.15,1179.44 543.53,1185.38 C541.9,1191.33 539.46,1198.21 536.02,1202.28 C532.58,1206.35 526.63,1209.47 522.88,1209.79 C519.12,1210.1 515.84,1207.6 513.49,1204.16 C511.14,1200.71 510.05,1193.52 508.8,1189.14 C507.54,1184.76 505.82,1182.25 505.98,1177.87 C506.14,1173.49 508.64,1167.86 509.73,1162.85 C510.83,1157.85 512.39,1152.84 512.55,1147.83 C512.71,1142.83 511.3,1136.88 510.67,1132.81 C510.05,1128.75 508.48,1125.93 508.8,1123.43 C509.11,1120.92 510.2,1118.42 512.55,1117.79Z" fill="#000" opacity="0.42" filter="url(#tex)"/>
<path d="M608.06,1129.03 C610.97,1127.58 616.29,1127.58 619.68,1129.03 C623.06,1130.48 625.97,1133.06 628.39,1137.74 C630.8,1142.42 632.42,1150.32 634.19,1157.1 C635.97,1163.87 637.74,1170.97 639.03,1178.39 C640.32,1185.81 641.61,1194.52 641.93,1201.61 C642.26,1208.71 642.1,1215.48 640.97,1220.97 C639.84,1226.45 637.74,1231.61 635.16,1234.52 C632.58,1237.42 628.71,1239.03 625.48,1238.39 C622.26,1237.74 618.39,1234.84 615.8,1230.64 C613.22,1226.45 611.45,1219.35 610,1213.22 C608.55,1207.1 607.9,1200.32 607.1,1193.87 C606.29,1187.42 605.8,1180.97 605.16,1174.52 C604.51,1168.06 603.71,1161.29 603.22,1155.16 C602.74,1149.03 601.45,1142.1 602.26,1137.74 C603.06,1133.39 605.16,1130.48 608.06,1129.03Z" fill="url(#sp6)" filter="url(#bl15)"/>
<path d="M613.93,1152.93 C615.52,1152.13 618.45,1152.13 620.31,1152.93 C622.18,1153.72 623.77,1155.14 625.1,1157.72 C626.44,1160.29 627.32,1164.63 628.3,1168.36 C629.27,1172.09 630.25,1175.99 630.96,1180.07 C631.67,1184.15 632.38,1188.94 632.56,1192.84 C632.73,1196.75 632.65,1200.47 632.02,1203.49 C631.4,1206.51 630.25,1209.34 628.83,1210.94 C627.41,1212.54 625.28,1213.42 623.51,1213.07 C621.73,1212.72 619.6,1211.12 618.19,1208.81 C616.77,1206.51 615.79,1202.6 614.99,1199.23 C614.19,1195.86 613.84,1192.13 613.4,1188.59 C612.95,1185.04 612.69,1181.49 612.33,1177.94 C611.98,1174.39 611.53,1170.67 611.27,1167.3 C611,1163.93 610.29,1160.11 610.73,1157.72 C611.18,1155.32 612.33,1153.72 613.93,1152.93Z" fill="#9C452C" opacity="0.45" filter="url(#bl2)"/>
<path d="M608.45,1130.62 C611.27,1129.22 616.43,1129.22 619.72,1130.62 C623,1132.03 625.82,1134.54 628.17,1139.07 C630.51,1143.61 632.08,1151.28 633.8,1157.85 C635.52,1164.42 637.24,1171.3 638.49,1178.5 C639.74,1185.7 641,1194.14 641.31,1201.03 C641.62,1207.91 641.47,1214.48 640.37,1219.8 C639.27,1225.12 637.24,1230.13 634.74,1232.94 C632.23,1235.76 628.48,1237.32 625.35,1236.7 C622.22,1236.07 618.47,1233.26 615.96,1229.19 C613.46,1225.12 611.74,1218.24 610.33,1212.29 C608.92,1206.35 608.3,1199.78 607.52,1193.52 C606.73,1187.26 606.26,1181 605.64,1174.74 C605.01,1168.49 604.23,1161.91 603.76,1155.97 C603.29,1150.02 602.04,1143.3 602.82,1139.07 C603.6,1134.85 605.64,1132.03 608.45,1130.62Z" fill="#000" opacity="0.42" filter="url(#tex)"/>
<ellipse cx="139" cy="1204" rx="5" ry="4" fill="#F0D2BE" opacity="0.9" filter="url(#bl0)"/>
<ellipse cx="150" cy="1125" rx="3" ry="5" fill="#E6B39C" opacity="0.85" filter="url(#bl0)"/>
<ellipse cx="220.5" cy="1148" rx="1.8" ry="6" fill="#FFFFFF" opacity="0.9" filter="url(#bl0)"/>
<ellipse cx="144" cy="1160" rx="2.5" ry="24" fill="#CC7456" opacity="0.5" filter="url(#bl0)"/>
<ellipse cx="349" cy="1160" rx="2" ry="14" fill="#E3A184" opacity="0.7" filter="url(#bl0)"/>
<ellipse cx="344" cy="1182" rx="3" ry="3" fill="#EDBBA2" opacity="0.8" filter="url(#bl0)"/>
<ellipse cx="352" cy="1135" rx="2" ry="8" fill="#D98C70" opacity="0.5" filter="url(#bl0)"/>
<ellipse cx="429.5" cy="1140" rx="2" ry="4" fill="#F7C9CF" opacity="0.95" filter="url(#bl0)"/>
<ellipse cx="430.5" cy="1152" rx="2.2" ry="5" fill="#F9D3D6" opacity="0.95" filter="url(#bl0)"/>
<ellipse cx="431.5" cy="1164" rx="2" ry="3.5" fill="#F7C9CF" opacity="0.95" filter="url(#bl0)"/>
<ellipse cx="436" cy="1190" rx="4" ry="9" fill="#9C8E78" opacity="0.55" filter="url(#bl0)"/>
<ellipse cx="440" cy="1203" rx="3" ry="4" fill="#B9A692" opacity="0.5" filter="url(#bl0)"/>
<ellipse cx="512.5" cy="1150" rx="2" ry="2.5" fill="#FFFFFF" opacity="0.85" filter="url(#bl0)"/>
<ellipse cx="526" cy="1160" rx="3" ry="26" fill="#C9744F" opacity="0.4" filter="url(#bl0)"/>
<ellipse cx="625" cy="1212" rx="7" ry="15" fill="#E2B6A4" opacity="0.6" filter="url(#bl0)"/>
<ellipse cx="621" cy="1160" rx="3" ry="20" fill="#C4714E" opacity="0.45" filter="url(#bl0)"/>
<ellipse cx="616" cy="1195" rx="2" ry="6" fill="#EDD0C4" opacity="0.7" filter="url(#bl0)"/>
<rect x="441" y="1081" width="2.2" height="8" fill="#5A5146" opacity="0.8" filter="url(#bl0)"/>
</g>
<rect x="127" y="1255.5" width="40.4" height="6.8" fill="#000"/>
<rect x="117" y="1080.6" width="539" height="200.4" fill="none" stroke="#000" stroke-width="2.4"/>
<rect x="117.4" y="1295.6" width="540.4" height="200.4" fill="url(#bgB)"/>
<g clip-path="url(#cB)">
<rect x="117" y="1296" width="210" height="200" fill="#F2F1ED" opacity="0.9"/>
<rect x="330" y="1290" width="330" height="18" fill="#DDD9D0" opacity="0.8" filter="url(#bl2)"/>
<ellipse cx="535" cy="1375" rx="38" ry="55" fill="#E3DED3" opacity="0.6" filter="url(#bl3)"/>
<ellipse cx="430" cy="1380" rx="18" ry="60" fill="#E6E1D7" opacity="0.7" filter="url(#bl3)"/>
<ellipse cx="310" cy="1400" rx="25" ry="60" fill="#E9E5DC" opacity="0.8" filter="url(#bl3)"/>
<rect x="330" y="1468" width="330" height="34" fill="#F5F2EA" opacity="0.9" filter="url(#bl3)"/>
<rect x="448" y="1486" width="60" height="8" fill="#FBFAF6" opacity="0.9" filter="url(#bl2)"/>
<path d="M150,1312 C185,1300 203,1330 201,1390 C200,1440 192,1478 162,1478 C140,1476 126,1450 126,1400 C124,1350 130,1320 150,1312Z" fill="#F8F7F4" stroke="#E3DFD7" stroke-width="2" opacity="0.85" filter="url(#bl2)"/>
<path d="M262,1322 C290,1318 306,1345 303,1400 C301,1450 290,1480 262,1478 C240,1474 222,1440 224,1400 C226,1360 240,1326 262,1322Z" fill="#F6F5F1" stroke="#E4E0D8" stroke-width="2" opacity="0.85" filter="url(#bl2)"/>
<path d="M186,1318 C196,1335 199,1370 197,1410 C196,1440 192,1460 182,1472" fill="none" stroke="#D9D4CA" stroke-width="1.6" opacity="0.8" filter="url(#bl0)"/>
<path d="M290,1336 C300,1360 300,1420 292,1462" fill="none" stroke="#DAD5CB" stroke-width="1.4" opacity="0.8" filter="url(#bl0)"/>
<path d="M190,1365 C194,1372 195,1384 194,1392" fill="none" stroke="#B9B4AA" stroke-width="1.5" opacity="0.6" filter="url(#bl0)"/>
<path d="M163.87,1309.19 C167.26,1309.03 170.48,1310.64 172.58,1313.06 C174.68,1315.48 176.13,1318.71 176.45,1323.71 C176.77,1328.71 175.32,1336.61 174.52,1343.06 C173.71,1349.52 172.03,1355.97 171.61,1362.42 C171.19,1368.87 171.52,1375.32 172,1381.77 C172.48,1388.23 173.77,1394.68 174.52,1401.13 C175.26,1407.58 176.45,1414.03 176.45,1420.48 C176.45,1426.93 175.97,1433.71 174.52,1439.84 C173.06,1445.97 170.81,1452.42 167.74,1457.26 C164.68,1462.1 159.84,1466.61 156.13,1468.87 C152.42,1471.13 148.55,1472.42 145.48,1470.81 C142.42,1469.19 139.84,1464.35 137.74,1459.19 C135.64,1454.03 134.19,1446.29 132.9,1439.84 C131.61,1433.39 130.64,1426.93 130,1420.48 C129.35,1414.03 129.03,1407.58 129.03,1401.13 C129.03,1394.68 129.68,1388.23 130,1381.77 C130.32,1375.32 130.32,1368.87 130.97,1362.42 C131.61,1355.97 132.1,1349.19 133.87,1343.06 C135.64,1336.94 138.55,1330.48 141.61,1325.64 C144.68,1320.81 148.55,1316.77 152.26,1314.03 C155.97,1311.29 160.48,1309.35 163.87,1309.19Z" fill="#AC231A" filter="url(#bl1)"/>
<path d="M159.18,1348.39 C160.87,1348.31 162.49,1349.11 163.53,1350.32 C164.58,1351.53 165.31,1353.14 165.47,1355.64 C165.63,1358.14 164.91,1362.1 164.5,1365.32 C164.1,1368.55 163.26,1371.77 163.05,1375 C162.84,1378.23 163,1381.45 163.24,1384.68 C163.49,1387.9 164.13,1391.13 164.5,1394.35 C164.87,1397.58 165.47,1400.81 165.47,1404.03 C165.47,1407.26 165.23,1410.64 164.5,1413.71 C163.78,1416.77 162.65,1420 161.11,1422.42 C159.58,1424.84 157.16,1427.1 155.31,1428.22 C153.45,1429.35 151.52,1430 149.99,1429.19 C148.45,1428.39 147.16,1425.97 146.11,1423.39 C145.07,1420.81 144.34,1416.93 143.7,1413.71 C143.05,1410.48 142.57,1407.26 142.24,1404.03 C141.92,1400.81 141.76,1397.58 141.76,1394.35 C141.76,1391.13 142.08,1387.9 142.24,1384.68 C142.41,1381.45 142.41,1378.23 142.73,1375 C143.05,1371.77 143.29,1368.39 144.18,1365.32 C145.07,1362.26 146.52,1359.03 148.05,1356.61 C149.58,1354.19 151.52,1352.18 153.37,1350.81 C155.23,1349.44 157.49,1348.47 159.18,1348.39Z" fill="#8E1A14" opacity="0.5" filter="url(#bl2)"/>
<path d="M163.59,1311.54 C166.87,1311.39 170,1312.95 172.04,1315.3 C174.07,1317.65 175.48,1320.78 175.79,1325.63 C176.11,1330.48 174.7,1338.14 173.91,1344.4 C173.13,1350.66 171.51,1356.92 171.1,1363.17 C170.69,1369.43 171,1375.69 171.47,1381.95 C171.94,1388.21 173.2,1394.46 173.91,1400.72 C174.63,1406.98 175.79,1413.24 175.79,1419.5 C175.79,1425.75 175.32,1432.32 173.91,1438.27 C172.51,1444.22 170.32,1450.47 167.34,1455.17 C164.37,1459.86 159.68,1464.24 156.08,1466.43 C152.48,1468.62 148.73,1469.87 145.75,1468.31 C142.78,1466.74 140.28,1462.05 138.24,1457.04 C136.21,1452.04 134.8,1444.53 133.55,1438.27 C132.3,1432.01 131.36,1425.75 130.73,1419.5 C130.11,1413.24 129.8,1406.98 129.8,1400.72 C129.8,1394.46 130.42,1388.21 130.73,1381.95 C131.05,1375.69 131.05,1369.43 131.67,1363.17 C132.3,1356.92 132.77,1350.34 134.49,1344.4 C136.21,1338.45 139.03,1332.2 142,1327.5 C144.97,1322.81 148.73,1318.9 152.32,1316.24 C155.92,1313.58 160.3,1311.7 163.59,1311.54Z" fill="#000" opacity="0.22" filter="url(#tex)"/>
<path d="M266.45,1326.61 C269.19,1326.29 272.9,1327.74 275.16,1330.48 C277.42,1333.23 279.35,1337.74 280,1343.06 C280.64,1348.39 279.84,1355.97 279.03,1362.42 C278.22,1368.87 276.13,1375.32 275.16,1381.77 C274.19,1388.23 273.87,1394.68 273.22,1401.13 C272.58,1407.58 272.1,1414.03 271.29,1420.48 C270.48,1426.93 269.52,1434.03 268.39,1439.84 C267.26,1445.64 266.77,1450.48 264.52,1455.32 C262.26,1460.16 258.06,1466.13 254.84,1468.87 C251.61,1471.61 247.9,1473.39 245.16,1471.77 C242.42,1470.16 240.16,1464.51 238.39,1459.19 C236.61,1453.87 235.39,1446.29 234.52,1439.84 C233.64,1433.39 233,1426.93 233.16,1420.48 C233.32,1414.03 234.45,1407.58 235.48,1401.13 C236.52,1394.68 237.9,1388.23 239.35,1381.77 C240.81,1375.32 242.26,1368.55 244.19,1362.42 C246.13,1356.29 248.55,1350 250.97,1345 C253.39,1340 256.13,1335.48 258.71,1332.42 C261.29,1329.35 263.71,1326.94 266.45,1326.61Z" fill="#AE251B" filter="url(#bl1)"/>
<path d="M261.86,1361.83 C263.23,1361.67 265.08,1362.4 266.21,1363.77 C267.34,1365.14 268.31,1367.4 268.63,1370.06 C268.95,1372.72 268.55,1376.51 268.15,1379.74 C267.74,1382.96 266.7,1386.19 266.21,1389.41 C265.73,1392.64 265.57,1395.87 265.24,1399.09 C264.92,1402.32 264.68,1405.54 264.28,1408.77 C263.87,1411.99 263.39,1415.54 262.82,1418.45 C262.26,1421.35 262.02,1423.77 260.89,1426.19 C259.76,1428.61 257.66,1431.59 256.05,1432.96 C254.44,1434.33 252.58,1435.22 251.21,1434.41 C249.84,1433.61 248.71,1430.78 247.82,1428.12 C246.94,1425.46 246.32,1421.67 245.89,1418.45 C245.45,1415.22 245.13,1411.99 245.21,1408.77 C245.29,1405.54 245.86,1402.32 246.37,1399.09 C246.89,1395.87 247.58,1392.64 248.31,1389.41 C249.03,1386.19 249.76,1382.8 250.73,1379.74 C251.7,1376.67 252.9,1373.53 254.11,1371.03 C255.32,1368.53 256.7,1366.27 257.99,1364.74 C259.28,1363.2 260.49,1361.99 261.86,1361.83Z" fill="#8E1C14" opacity="0.5" filter="url(#bl2)"/>
<path d="M266.17,1328.73 C268.83,1328.41 272.43,1329.82 274.62,1332.48 C276.81,1335.14 278.69,1339.52 279.32,1344.68 C279.94,1349.85 279.16,1357.2 278.38,1363.46 C277.6,1369.72 275.56,1375.97 274.62,1382.23 C273.68,1388.49 273.37,1394.75 272.75,1401.01 C272.12,1407.26 271.65,1413.52 270.87,1419.78 C270.09,1426.04 269.15,1432.92 268.05,1438.55 C266.96,1444.19 266.49,1448.88 264.3,1453.57 C262.11,1458.27 258.04,1464.06 254.91,1466.72 C251.78,1469.37 248.18,1471.1 245.52,1469.53 C242.86,1467.97 240.67,1462.49 238.95,1457.33 C237.23,1452.17 236.04,1444.81 235.2,1438.55 C234.35,1432.3 233.73,1426.04 233.88,1419.78 C234.04,1413.52 235.14,1407.26 236.14,1401.01 C237.14,1394.75 238.48,1388.49 239.89,1382.23 C241.3,1375.97 242.71,1369.4 244.58,1363.46 C246.46,1357.51 248.81,1351.41 251.16,1346.56 C253.5,1341.71 256.16,1337.33 258.67,1334.36 C261.17,1331.39 263.52,1329.04 266.17,1328.73Z" fill="#000" opacity="0.22" filter="url(#tex)"/>
<path d="M351.6,1333.4 C354.33,1330.82 361.83,1329.32 367,1329.5 C372.17,1329.68 378.23,1331.25 382.6,1334.5 C386.97,1337.75 390.3,1342.75 393.2,1349 C396.1,1355.25 398.53,1364 400,1372 C401.47,1380 402.17,1389 402,1397 C401.83,1405 400.67,1412.83 399,1420 C397.33,1427.17 394.67,1434 392,1440 C389.33,1446 386.33,1451 383,1456 C379.67,1461 375.67,1466.33 372,1470 C368.33,1473.67 364.33,1476.5 361,1478 C357.67,1479.5 354.05,1480.2 352,1479 C349.95,1477.8 348.62,1474.47 348.7,1470.8 C348.78,1467.13 351.05,1462.17 352.5,1457 C353.95,1451.83 356.1,1445.88 357.4,1439.8 C358.7,1433.72 359.73,1426.97 360.3,1420.5 C360.87,1414.03 361.12,1407.45 360.8,1401 C360.48,1394.55 359.45,1388.23 358.4,1381.8 C357.35,1375.37 355.8,1368.53 354.5,1362.4 C353.2,1356.27 351.08,1349.83 350.6,1345 C350.12,1340.17 348.87,1335.98 351.6,1333.4Z" fill="#9C2914" filter="url(#bl1)"/>
<path d="M360.76,1370.12 C362.13,1368.83 365.88,1368.08 368.46,1368.17 C371.05,1368.26 374.08,1369.04 376.26,1370.67 C378.45,1372.29 380.11,1374.79 381.56,1377.92 C383.01,1381.04 384.23,1385.42 384.96,1389.42 C385.7,1393.42 386.05,1397.92 385.96,1401.92 C385.88,1405.92 385.3,1409.83 384.46,1413.42 C383.63,1417 382.3,1420.42 380.96,1423.42 C379.63,1426.42 378.13,1428.92 376.46,1431.42 C374.8,1433.92 372.8,1436.58 370.96,1438.42 C369.13,1440.25 367.13,1441.67 365.46,1442.42 C363.8,1443.17 361.99,1443.52 360.96,1442.92 C359.94,1442.32 359.27,1440.65 359.31,1438.82 C359.36,1436.98 360.49,1434.5 361.21,1431.92 C361.94,1429.33 363.01,1426.36 363.66,1423.32 C364.31,1420.28 364.83,1416.9 365.12,1413.67 C365.4,1410.43 365.52,1407.14 365.37,1403.92 C365.21,1400.69 364.69,1397.53 364.16,1394.32 C363.64,1391.1 362.86,1387.68 362.21,1384.62 C361.56,1381.55 360.51,1378.33 360.26,1375.92 C360.02,1373.5 359.4,1371.41 360.76,1370.12Z" fill="#80200F" opacity="0.5" filter="url(#bl2)"/>
<path d="M352.15,1335.6 C354.8,1333.1 362.08,1331.64 367.09,1331.82 C372.1,1332 377.98,1333.52 382.22,1336.67 C386.46,1339.82 389.69,1344.67 392.5,1350.74 C395.31,1356.8 397.68,1365.29 399.1,1373.05 C400.52,1380.81 401.2,1389.54 401.04,1397.3 C400.88,1405.06 399.74,1412.65 398.13,1419.61 C396.51,1426.56 393.92,1433.19 391.34,1439.01 C388.75,1444.83 385.84,1449.68 382.61,1454.53 C379.37,1459.38 375.49,1464.55 371.94,1468.11 C368.38,1471.66 364.5,1474.41 361.27,1475.87 C358.03,1477.32 354.53,1478 352.54,1476.84 C350.55,1475.67 349.26,1472.44 349.34,1468.88 C349.42,1465.32 351.62,1460.51 353.02,1455.5 C354.43,1450.48 356.51,1444.71 357.78,1438.81 C359.04,1432.91 360.04,1426.36 360.59,1420.09 C361.14,1413.82 361.38,1407.43 361.07,1401.18 C360.77,1394.92 359.76,1388.79 358.75,1382.55 C357.73,1376.31 356.22,1369.68 354.96,1363.73 C353.7,1357.78 351.65,1351.54 351.18,1346.86 C350.71,1342.17 349.5,1338.11 352.15,1335.6Z" fill="#000" opacity="0.22" filter="url(#tex)"/>
<path d="M464.84,1308.23 C467.42,1306.23 470.97,1305.26 474.52,1305.9 C478.06,1306.55 483.39,1309.13 486.13,1312.1 C488.87,1315.06 490.48,1318.55 490.97,1323.71 C491.45,1328.87 489.84,1336.61 489.03,1343.06 C488.23,1349.52 486.29,1355.97 486.13,1362.42 C485.97,1368.87 486.77,1375.32 488.06,1381.77 C489.35,1388.23 491.61,1394.68 493.87,1401.13 C496.13,1407.58 498.71,1414.35 501.61,1420.48 C504.52,1426.61 508.55,1432.74 511.29,1437.9 C514.03,1443.06 517.74,1448.55 518.06,1451.45 C518.39,1454.35 515.97,1455 513.22,1455.32 C510.48,1455.64 506.13,1455.32 501.61,1453.39 C497.1,1451.45 490.64,1447.58 486.13,1443.71 C481.61,1439.84 478.06,1435.64 474.52,1430.16 C470.97,1424.68 467.58,1417.26 464.84,1410.81 C462.1,1404.35 459.68,1397.9 458.06,1391.45 C456.45,1385 455.74,1378.55 455.16,1372.1 C454.58,1365.64 454.42,1359.19 454.58,1352.74 C454.74,1346.29 455.39,1339.19 456.13,1333.39 C456.87,1327.58 457.58,1322.1 459.03,1317.9 C460.48,1313.71 462.26,1310.23 464.84,1308.23Z" fill="#A22A17" filter="url(#bl1)"/>
<path d="M473.56,1344.81 C474.85,1343.81 476.62,1343.32 478.4,1343.64 C480.17,1343.97 482.83,1345.26 484.2,1346.74 C485.57,1348.23 486.38,1349.97 486.62,1352.55 C486.86,1355.13 486.06,1359 485.65,1362.23 C485.25,1365.45 484.28,1368.68 484.2,1371.9 C484.12,1375.13 484.52,1378.35 485.17,1381.58 C485.81,1384.81 486.94,1388.03 488.07,1391.26 C489.2,1394.48 490.49,1397.87 491.94,1400.93 C493.4,1404 495.41,1407.06 496.78,1409.64 C498.15,1412.22 500.01,1414.97 500.17,1416.42 C500.33,1417.87 499.12,1418.19 497.75,1418.35 C496.38,1418.52 494.2,1418.35 491.94,1417.39 C489.69,1416.42 486.46,1414.48 484.2,1412.55 C481.94,1410.61 480.17,1408.52 478.4,1405.77 C476.62,1403.03 474.93,1399.32 473.56,1396.1 C472.19,1392.87 470.98,1389.64 470.17,1386.42 C469.36,1383.19 469.01,1379.97 468.72,1376.74 C468.43,1373.52 468.35,1370.29 468.43,1367.06 C468.51,1363.84 468.83,1360.29 469.2,1357.39 C469.57,1354.48 469.93,1351.74 470.65,1349.64 C471.38,1347.55 472.27,1345.81 473.56,1344.81Z" fill="#8A2110" opacity="0.5" filter="url(#bl2)"/>
<path d="M465.36,1310.42 C467.86,1308.48 471.31,1307.54 474.75,1308.17 C478.19,1308.79 483.35,1311.3 486.01,1314.18 C488.67,1317.05 490.24,1320.43 490.71,1325.44 C491.18,1330.45 489.61,1337.96 488.83,1344.21 C488.05,1350.47 486.17,1356.73 486.01,1362.99 C485.86,1369.25 486.64,1375.5 487.89,1381.76 C489.14,1388.02 491.33,1394.28 493.52,1400.54 C495.71,1406.79 498.22,1413.36 501.03,1419.31 C503.85,1425.26 507.76,1431.2 510.42,1436.21 C513.08,1441.21 516.68,1446.53 516.99,1449.35 C517.3,1452.16 514.96,1452.79 512.3,1453.1 C509.64,1453.42 505.41,1453.1 501.03,1451.23 C496.65,1449.35 490.39,1445.59 486.01,1441.84 C481.63,1438.08 478.19,1434.02 474.75,1428.7 C471.31,1423.38 468.02,1416.18 465.36,1409.92 C462.7,1403.67 460.35,1397.41 458.79,1391.15 C457.23,1384.89 456.54,1378.63 455.97,1372.37 C455.41,1366.12 455.25,1359.86 455.41,1353.6 C455.57,1347.34 456.19,1340.46 456.91,1334.83 C457.63,1329.19 458.32,1323.88 459.73,1319.81 C461.14,1315.74 462.86,1312.36 465.36,1310.42Z" fill="#000" opacity="0.22" filter="url(#tex)"/>
<path d="M575.16,1319.84 C576.77,1317.9 580,1313.71 582.9,1312.1 C585.81,1310.48 589.03,1309.19 592.58,1310.16 C596.13,1311.13 600.64,1314.03 604.19,1317.9 C607.74,1321.77 610.64,1327.58 613.87,1333.39 C617.1,1339.19 620.97,1346.29 623.55,1352.74 C626.13,1359.19 628,1365.64 629.35,1372.1 C630.71,1378.55 631.68,1385.32 631.68,1391.45 C631.68,1397.58 631.03,1403.06 629.35,1408.87 C627.68,1414.68 624.51,1422.26 621.61,1426.29 C618.71,1430.32 614.13,1433.39 611.93,1433.06 C609.74,1432.74 608.93,1428.39 608.45,1424.35 C607.97,1420.32 609.26,1414.03 609.03,1408.87 C608.8,1403.71 608.22,1398.55 607.1,1393.39 C605.97,1388.23 604.35,1383.06 602.26,1377.9 C600.16,1372.74 597.42,1367.58 594.51,1362.42 C591.61,1357.26 587.74,1351.77 584.84,1346.94 C581.93,1342.1 579.03,1337.26 577.1,1333.39 C575.16,1329.52 573.55,1325.97 573.22,1323.71 C572.9,1321.45 573.55,1321.77 575.16,1319.84Z" fill="#A32E18" filter="url(#bl1)"/>
<path d="M589.49,1342.78 C590.3,1341.82 591.91,1339.72 593.36,1338.91 C594.82,1338.11 596.43,1337.46 598.2,1337.95 C599.98,1338.43 602.23,1339.88 604.01,1341.82 C605.78,1343.75 607.23,1346.65 608.85,1349.56 C610.46,1352.46 612.4,1356.01 613.69,1359.24 C614.98,1362.46 615.91,1365.69 616.59,1368.91 C617.27,1372.14 617.75,1375.53 617.75,1378.59 C617.75,1381.65 617.43,1384.4 616.59,1387.3 C615.75,1390.2 614.17,1393.99 612.72,1396.01 C611.27,1398.03 608.98,1399.56 607.88,1399.4 C606.78,1399.24 606.38,1397.06 606.14,1395.04 C605.9,1393.03 606.54,1389.88 606.43,1387.3 C606.32,1384.72 606.02,1382.14 605.46,1379.56 C604.9,1376.98 604.09,1374.4 603.04,1371.82 C601.99,1369.24 600.62,1366.65 599.17,1364.07 C597.72,1361.49 595.78,1358.75 594.33,1356.33 C592.88,1353.91 591.43,1351.49 590.46,1349.56 C589.49,1347.62 588.69,1345.85 588.52,1344.72 C588.36,1343.59 588.69,1343.75 589.49,1342.78Z" fill="#8E2412" opacity="0.5" filter="url(#bl2)"/>
<path d="M576.02,1321.22 C577.58,1319.34 580.71,1315.27 583.53,1313.71 C586.35,1312.14 589.47,1310.89 592.92,1311.83 C596.36,1312.77 600.74,1315.58 604.18,1319.34 C607.62,1323.09 610.44,1328.72 613.57,1334.36 C616.7,1339.99 620.45,1346.87 622.96,1353.13 C625.46,1359.39 627.27,1365.65 628.59,1371.91 C629.9,1378.16 630.84,1384.73 630.84,1390.68 C630.84,1396.62 630.21,1401.94 628.59,1407.58 C626.96,1413.21 623.89,1420.56 621.08,1424.47 C618.26,1428.38 613.82,1431.36 611.69,1431.04 C609.56,1430.73 608.78,1426.51 608.31,1422.6 C607.84,1418.68 609.09,1412.58 608.87,1407.58 C608.66,1402.57 608.09,1397.56 607,1392.56 C605.9,1387.55 604.34,1382.54 602.3,1377.54 C600.27,1372.53 597.61,1367.52 594.79,1362.52 C591.98,1357.51 588.22,1352.19 585.41,1347.5 C582.59,1342.81 579.77,1338.11 577.9,1334.36 C576.02,1330.6 574.46,1327.16 574.14,1324.97 C573.83,1322.78 574.46,1323.09 576.02,1321.22Z" fill="#000" opacity="0.22" filter="url(#tex)"/>
<ellipse cx="139.5" cy="1341" rx="3.6" ry="8" fill="#FFFFFF" opacity="0.92" filter="url(#bl0)"/>
<ellipse cx="136" cy="1336" rx="3" ry="5" fill="#FFFFFF" opacity="0.92" filter="url(#bl0)"/>
<ellipse cx="143" cy="1370" rx="2.4" ry="2.6" fill="#FFFFFF" opacity="0.92" filter="url(#bl0)"/>
<ellipse cx="141" cy="1395" rx="3.2" ry="5" fill="#FFFFFF" opacity="0.92" filter="url(#bl0)"/>
<ellipse cx="142.5" cy="1403" rx="2.4" ry="3.5" fill="#FFFFFF" opacity="0.92" filter="url(#bl0)"/>
<ellipse cx="139" cy="1419" rx="2.6" ry="3.5" fill="#FFFFFF" opacity="0.92" filter="url(#bl0)"/>
<ellipse cx="141" cy="1436" rx="3.2" ry="4" fill="#FFFFFF" opacity="0.92" filter="url(#bl0)"/>
<ellipse cx="143" cy="1445" rx="2.2" ry="3" fill="#FFFFFF" opacity="0.92" filter="url(#bl0)"/>
<ellipse cx="186" cy="1330" rx="2.2" ry="2.6" fill="#FFFFFF" opacity="0.92" filter="url(#bl0)"/>
<ellipse cx="182" cy="1370.5" rx="2.8" ry="3" fill="#FFFFFF" opacity="0.92" filter="url(#bl0)"/>
<ellipse cx="188" cy="1418" rx="2.4" ry="2.6" fill="#FFFFFF" opacity="0.92" filter="url(#bl0)"/>
<ellipse cx="188" cy="1446" rx="2.6" ry="7" fill="#FFFFFF" opacity="0.92" filter="url(#bl0)"/>
<ellipse cx="124.5" cy="1353" rx="2.5" ry="3" fill="#FFFFFF" opacity="0.92" filter="url(#bl0)"/>
<ellipse cx="250" cy="1393" rx="3.4" ry="6" fill="#FFFFFF" opacity="0.92" filter="url(#bl0)"/>
<ellipse cx="252.5" cy="1401" rx="2.6" ry="4" fill="#FFFFFF" opacity="0.92" filter="url(#bl0)"/>
<ellipse cx="244" cy="1430" rx="4" ry="5" fill="#FFFFFF" opacity="0.92" filter="url(#bl0)"/>
<ellipse cx="243" cy="1441" rx="3.4" ry="5" fill="#FFFFFF" opacity="0.92" filter="url(#bl0)"/>
<ellipse cx="254.5" cy="1369" rx="1.8" ry="2.4" fill="#FFFFFF" opacity="0.92" filter="url(#bl0)"/>
<ellipse cx="257" cy="1378" rx="1.8" ry="2.4" fill="#FFFFFF" opacity="0.92" filter="url(#bl0)"/>
<ellipse cx="258" cy="1350" rx="1.6" ry="2.2" fill="#FFFFFF" opacity="0.92" filter="url(#bl0)"/>
<ellipse cx="284" cy="1420" rx="1.8" ry="33" fill="#FFFFFF" opacity="0.92" filter="url(#bl0)"/>
<ellipse cx="224.5" cy="1403" rx="1.8" ry="11" fill="#FFFFFF" opacity="0.92" filter="url(#bl0)"/>
<ellipse cx="289.5" cy="1346" rx="1.6" ry="3" fill="#FFFFFF" opacity="0.92" filter="url(#bl0)"/>
<ellipse cx="486" cy="1438" rx="4" ry="2.2" fill="#FFFFFF" opacity="0.92" filter="url(#bl0)"/>
<ellipse cx="494" cy="1442.5" rx="4" ry="2" fill="#FFFFFF" opacity="0.92" filter="url(#bl0)"/>
<ellipse cx="606" cy="1320" rx="2.5" ry="3.2" fill="#FFFFFF" opacity="0.92" filter="url(#bl0)"/>
<ellipse cx="613.5" cy="1380" rx="1.4" ry="4.5" fill="#FFFFFF" opacity="0.92" filter="url(#bl0)"/>
<ellipse cx="611" cy="1392" rx="1.4" ry="3" fill="#FFFFFF" opacity="0.92" filter="url(#bl0)"/>
<ellipse cx="603.5" cy="1409" rx="2.2" ry="5" fill="#FFFFFF" opacity="0.92" filter="url(#bl0)"/>
</g>
<rect x="117.4" y="1295.6" width="540.4" height="200.4" fill="none" stroke="#000" stroke-width="2.4"/>
</g>
<g id="panel-c">
<text x="718" y="22.5" font-size="41" text-anchor="start" font-weight="bold">c</text>
<g>
<line x1="805.9" y1="82.3" x2="805.9" y2="298.55" stroke="#000" stroke-width="3.4" stroke-linecap="butt"/>
<line x1="799.6" y1="297.1" x2="1117" y2="297.1" stroke="#000" stroke-width="2.9" stroke-linecap="butt"/>
<line x1="799.6" y1="83.95" x2="805.9" y2="83.95" stroke="#000" stroke-width="3.3" stroke-linecap="butt"/>
<text x="790.05" y="76.25" font-size="13" text-anchor="end" font-weight="normal">8</text>
<text x="783.15" y="88.65" font-size="20.5" text-anchor="end" font-weight="normal">10</text>
<line x1="802.2" y1="121.2" x2="805.9" y2="121.2" stroke="#000" stroke-width="2.8" stroke-linecap="butt"/>
<line x1="802.2" y1="111.81" x2="805.9" y2="111.81" stroke="#000" stroke-width="2.8" stroke-linecap="butt"/>
<line x1="802.2" y1="105.16" x2="805.9" y2="105.16" stroke="#000" stroke-width="2.8" stroke-linecap="butt"/>
<line x1="802.2" y1="99.99" x2="805.9" y2="99.99" stroke="#000" stroke-width="2.8" stroke-linecap="butt"/>
<line x1="802.2" y1="95.77" x2="805.9" y2="95.77" stroke="#000" stroke-width="2.8" stroke-linecap="butt"/>
<line x1="802.2" y1="92.2" x2="805.9" y2="92.2" stroke="#000" stroke-width="2.8" stroke-linecap="butt"/>
<line x1="802.2" y1="89.11" x2="805.9" y2="89.11" stroke="#000" stroke-width="2.8" stroke-linecap="butt"/>
<line x1="802.2" y1="86.39" x2="805.9" y2="86.39" stroke="#000" stroke-width="2.8" stroke-linecap="butt"/>
<line x1="799.6" y1="137.24" x2="805.9" y2="137.24" stroke="#000" stroke-width="3.3" stroke-linecap="butt"/>
<text x="790.05" y="130.02" font-size="13" text-anchor="end" font-weight="normal">7</text>
<text x="783.15" y="142.42" font-size="20.5" text-anchor="end" font-weight="normal">10</text>
<line x1="802.2" y1="174.48" x2="805.9" y2="174.48" stroke="#000" stroke-width="2.8" stroke-linecap="butt"/>
<line x1="802.2" y1="165.1" x2="805.9" y2="165.1" stroke="#000" stroke-width="2.8" stroke-linecap="butt"/>
<line x1="802.2" y1="158.44" x2="805.9" y2="158.44" stroke="#000" stroke-width="2.8" stroke-linecap="butt"/>
<line x1="802.2" y1="153.28" x2="805.9" y2="153.28" stroke="#000" stroke-width="2.8" stroke-linecap="butt"/>
<line x1="802.2" y1="149.06" x2="805.9" y2="149.06" stroke="#000" stroke-width="2.8" stroke-linecap="butt"/>
<line x1="802.2" y1="145.49" x2="805.9" y2="145.49" stroke="#000" stroke-width="2.8" stroke-linecap="butt"/>
<line x1="802.2" y1="142.4" x2="805.9" y2="142.4" stroke="#000" stroke-width="2.8" stroke-linecap="butt"/>
<line x1="802.2" y1="139.68" x2="805.9" y2="139.68" stroke="#000" stroke-width="2.8" stroke-linecap="butt"/>
<line x1="799.6" y1="190.53" x2="805.9" y2="190.53" stroke="#000" stroke-width="3.3" stroke-linecap="butt"/>
<text x="790.05" y="183.78" font-size="13" text-anchor="end" font-weight="normal">6</text>
<text x="783.15" y="196.18" font-size="20.5" text-anchor="end" font-weight="normal">10</text>
<line x1="802.2" y1="227.77" x2="805.9" y2="227.77" stroke="#000" stroke-width="2.8" stroke-linecap="butt"/>
<line x1="802.2" y1="218.39" x2="805.9" y2="218.39" stroke="#000" stroke-width="2.8" stroke-linecap="butt"/>
<line x1="802.2" y1="211.73" x2="805.9" y2="211.73" stroke="#000" stroke-width="2.8" stroke-linecap="butt"/>
<line x1="802.2" y1="206.57" x2="805.9" y2="206.57" stroke="#000" stroke-width="2.8" stroke-linecap="butt"/>
<line x1="802.2" y1="202.35" x2="805.9" y2="202.35" stroke="#000" stroke-width="2.8" stroke-linecap="butt"/>
<line x1="802.2" y1="198.78" x2="805.9" y2="198.78" stroke="#000" stroke-width="2.8" stroke-linecap="butt"/>
<line x1="802.2" y1="195.69" x2="805.9" y2="195.69" stroke="#000" stroke-width="2.8" stroke-linecap="butt"/>
<line x1="802.2" y1="192.96" x2="805.9" y2="192.96" stroke="#000" stroke-width="2.8" stroke-linecap="butt"/>
<line x1="799.6" y1="243.81" x2="805.9" y2="243.81" stroke="#000" stroke-width="3.3" stroke-linecap="butt"/>
<text x="790.05" y="237.55" font-size="13" text-anchor="end" font-weight="normal">5</text>
<text x="783.15" y="249.95" font-size="20.5" text-anchor="end" font-weight="normal">10</text>
<line x1="802.2" y1="281.06" x2="805.9" y2="281.06" stroke="#000" stroke-width="2.8" stroke-linecap="butt"/>
<line x1="802.2" y1="271.68" x2="805.9" y2="271.68" stroke="#000" stroke-width="2.8" stroke-linecap="butt"/>
<line x1="802.2" y1="265.02" x2="805.9" y2="265.02" stroke="#000" stroke-width="2.8" stroke-linecap="butt"/>
<line x1="802.2" y1="259.85" x2="805.9" y2="259.85" stroke="#000" stroke-width="2.8" stroke-linecap="butt"/>
<line x1="802.2" y1="255.63" x2="805.9" y2="255.63" stroke="#000" stroke-width="2.8" stroke-linecap="butt"/>
<line x1="802.2" y1="252.07" x2="805.9" y2="252.07" stroke="#000" stroke-width="2.8" stroke-linecap="butt"/>
<line x1="802.2" y1="248.98" x2="805.9" y2="248.98" stroke="#000" stroke-width="2.8" stroke-linecap="butt"/>
<line x1="802.2" y1="246.25" x2="805.9" y2="246.25" stroke="#000" stroke-width="2.8" stroke-linecap="butt"/>
<line x1="799.6" y1="297.1" x2="805.9" y2="297.1" stroke="#000" stroke-width="3.3" stroke-linecap="butt"/>
<text x="790.05" y="291.32" font-size="13" text-anchor="end" font-weight="normal">4</text>
<text x="783.15" y="303.72" font-size="20.5" text-anchor="end" font-weight="normal">10</text>
<line x1="867.6" y1="297.1" x2="867.6" y2="303.6" stroke="#000" stroke-width="3" stroke-linecap="butt"/>
<line x1="960.4" y1="297.1" x2="960.4" y2="303.6" stroke="#000" stroke-width="3" stroke-linecap="butt"/>
<line x1="1053.2" y1="297.1" x2="1053.2" y2="303.6" stroke="#000" stroke-width="3" stroke-linecap="butt"/>
<text x="863.3" y="324.4" font-size="20" text-anchor="middle" font-weight="normal">S47</text>
<text x="960.5" y="324.4" font-size="20" text-anchor="middle" font-weight="normal">R72</text>
<text x="1052.7" y="324.4" font-size="20" text-anchor="middle" font-weight="normal">P47</text>
<text x="736.9" y="189.3" font-size="21" text-anchor="middle" font-weight="normal" transform="rotate(-90 736.9 189.3)">CFU/gm at end point</text>
<text x="719.2" y="53.5" font-size="20.5" text-anchor="start" font-weight="normal">Liver</text>
<g>
<line x1="867.6" y1="101" x2="867.6" y2="191" stroke="#000" stroke-width="2.2" stroke-linecap="butt"/>
<line x1="836.4" y1="117" x2="899" y2="117" stroke="#000" stroke-width="2.2" stroke-linecap="butt"/>
<line x1="852" y1="101" x2="884" y2="101" stroke="#000" stroke-width="2.2" stroke-linecap="butt"/>
<line x1="852" y1="191" x2="883.4" y2="191" stroke="#000" stroke-width="2.2" stroke-linecap="butt"/>
<circle cx="849" cy="103.6" r="4.5" fill="#000"/>
<circle cx="861.4" cy="98.4" r="4.5" fill="#000"/>
<circle cx="874" cy="96" r="4.5" fill="#000"/>
<circle cx="886.4" cy="104" r="4.5" fill="#000"/>
<circle cx="861.4" cy="113.4" r="4.5" fill="#000"/>
<circle cx="874" cy="116.4" r="4.5" fill="#000"/>
<circle cx="861.4" cy="150.6" r="4.5" fill="#000"/>
<circle cx="874" cy="149.4" r="4.5" fill="#000"/>
<circle cx="867.6" cy="232.6" r="4.5" fill="#000"/>
<circle cx="874" cy="249.4" r="4.5" fill="#000"/>
<circle cx="861.4" cy="255" r="4.5" fill="#000"/>
</g>
<g>
<line x1="960.4" y1="245.6" x2="960.4" y2="296.8" stroke="#000" stroke-width="2.2" stroke-linecap="butt"/>
<line x1="929.4" y1="260" x2="991.6" y2="260" stroke="#000" stroke-width="2.2" stroke-linecap="butt"/>
<line x1="945" y1="245.6" x2="976" y2="245.6" stroke="#000" stroke-width="2.2" stroke-linecap="butt"/>
<rect x="956" y="233" width="8.8" height="8.8" fill="#000"/>
<rect x="943.6" y="240.6" width="8.8" height="8.8" fill="#000"/>
<rect x="968.6" y="245.6" width="8.8" height="8.8" fill="#000"/>
<rect x="956" y="245.6" width="8.8" height="8.8" fill="#000"/>
<rect x="950" y="250.6" width="8.8" height="8.8" fill="#000"/>
<rect x="962" y="262" width="8.8" height="8.8" fill="#000"/>
<rect x="937.2" y="279.2" width="8.8" height="8.8" fill="#000"/>
<rect x="974.6" y="275.6" width="8.8" height="8.8" fill="#000"/>
<rect x="962" y="283.6" width="8.8" height="8.8" fill="#000"/>
<rect x="950" y="286.6" width="8.8" height="8.8" fill="#000"/>
</g>
<g>
<line x1="1053" y1="238" x2="1053" y2="271.6" stroke="#000" stroke-width="2.2" stroke-linecap="butt"/>
<line x1="1022" y1="249.6" x2="1084.4" y2="249.6" stroke="#000" stroke-width="2.2" stroke-linecap="butt"/>
<line x1="1038" y1="238" x2="1070" y2="238" stroke="#000" stroke-width="2.2" stroke-linecap="butt"/>
<line x1="1037.4" y1="271.6" x2="1069" y2="271.6" stroke="#000" stroke-width="2.2" stroke-linecap="butt"/>
<polygon points="1027.4,233.9 1022.9,242.1 1031.9,242.1" fill="#000"/>
<polygon points="1079,231.5 1074.5,239.7 1083.5,239.7" fill="#000"/>
<polygon points="1069,234.9 1064.5,243.1 1073.5,243.1" fill="#000"/>
<polygon points="1037.6,239.9 1033.1,248.1 1042.1,248.1" fill="#000"/>
<polygon points="1048,242.5 1043.5,250.7 1052.5,250.7" fill="#000"/>
<polygon points="1058.6,242.5 1054.1,250.7 1063.1,250.7" fill="#000"/>
<polygon points="1047,251.5 1042.5,259.7 1051.5,259.7" fill="#000"/>
<polygon points="1059.4,259.9 1054.9,268.1 1063.9,268.1" fill="#000"/>
<polygon points="1040.6,271.9 1036.1,280.1 1045.1,280.1" fill="#000"/>
<polygon points="1065.6,275.5 1061.1,283.7 1070.1,283.7" fill="#000"/>
<polygon points="1053,284.9 1048.5,293.1 1057.5,293.1" fill="#000"/>
</g>
<path d="M864.4,81 L864.4,65 L1049.4,65 L1049.4,201.6" fill="none" stroke="#000" stroke-width="2.4" stroke-linejoin="miter"/>
<path d="M957,201.6 L957,148.4 L1049.4,148.4" fill="none" stroke="#000" stroke-width="2.4" stroke-linejoin="miter"/>
<text x="941.3" y="70.5" font-size="25" text-anchor="middle" font-weight="normal">**</text>
<text x="1003.3" y="134" font-size="24.5" text-anchor="middle" font-weight="normal">ns</text>
</g>
<g>
<line x1="1219.75" y1="76.45" x2="1219.75" y2="288.25" stroke="#000" stroke-width="3.4" stroke-linecap="butt"/>
<line x1="1213.45" y1="286.8" x2="1544" y2="286.8" stroke="#000" stroke-width="2.9" stroke-linecap="butt"/>
<line x1="1213.45" y1="78.1" x2="1219.75" y2="78.1" stroke="#000" stroke-width="3.3" stroke-linecap="butt"/>
<text x="1204.95" y="72.9" font-size="13" text-anchor="end" font-weight="normal">10</text>
<text x="1190.85" y="85.3" font-size="20.5" text-anchor="end" font-weight="normal">10</text>
<line x1="1216.05" y1="126.73" x2="1219.75" y2="126.73" stroke="#000" stroke-width="2.8" stroke-linecap="butt"/>
<line x1="1216.05" y1="114.47" x2="1219.75" y2="114.47" stroke="#000" stroke-width="2.8" stroke-linecap="butt"/>
<line x1="1216.05" y1="105.78" x2="1219.75" y2="105.78" stroke="#000" stroke-width="2.8" stroke-linecap="butt"/>
<line x1="1216.05" y1="99.04" x2="1219.75" y2="99.04" stroke="#000" stroke-width="2.8" stroke-linecap="butt"/>
<line x1="1216.05" y1="93.53" x2="1219.75" y2="93.53" stroke="#000" stroke-width="2.8" stroke-linecap="butt"/>
<line x1="1216.05" y1="88.88" x2="1219.75" y2="88.88" stroke="#000" stroke-width="2.8" stroke-linecap="butt"/>
<line x1="1216.05" y1="84.84" x2="1219.75" y2="84.84" stroke="#000" stroke-width="2.8" stroke-linecap="butt"/>
<line x1="1216.05" y1="81.28" x2="1219.75" y2="81.28" stroke="#000" stroke-width="2.8" stroke-linecap="butt"/>
<line x1="1213.45" y1="147.67" x2="1219.75" y2="147.67" stroke="#000" stroke-width="3.3" stroke-linecap="butt"/>
<text x="1204.95" y="143.09" font-size="13" text-anchor="end" font-weight="normal">9</text>
<text x="1198.05" y="155.49" font-size="20.5" text-anchor="end" font-weight="normal">10</text>
<line x1="1216.05" y1="196.29" x2="1219.75" y2="196.29" stroke="#000" stroke-width="2.8" stroke-linecap="butt"/>
<line x1="1216.05" y1="184.04" x2="1219.75" y2="184.04" stroke="#000" stroke-width="2.8" stroke-linecap="butt"/>
<line x1="1216.05" y1="175.35" x2="1219.75" y2="175.35" stroke="#000" stroke-width="2.8" stroke-linecap="butt"/>
<line x1="1216.05" y1="168.61" x2="1219.75" y2="168.61" stroke="#000" stroke-width="2.8" stroke-linecap="butt"/>
<line x1="1216.05" y1="163.1" x2="1219.75" y2="163.1" stroke="#000" stroke-width="2.8" stroke-linecap="butt"/>
<line x1="1216.05" y1="158.44" x2="1219.75" y2="158.44" stroke="#000" stroke-width="2.8" stroke-linecap="butt"/>
<line x1="1216.05" y1="154.41" x2="1219.75" y2="154.41" stroke="#000" stroke-width="2.8" stroke-linecap="butt"/>
<line x1="1216.05" y1="150.85" x2="1219.75" y2="150.85" stroke="#000" stroke-width="2.8" stroke-linecap="butt"/>
<line x1="1213.45" y1="217.23" x2="1219.75" y2="217.23" stroke="#000" stroke-width="3.3" stroke-linecap="butt"/>
<text x="1204.95" y="213.29" font-size="13" text-anchor="end" font-weight="normal">8</text>
<text x="1198.05" y="225.69" font-size="20.5" text-anchor="end" font-weight="normal">10</text>
<line x1="1216.05" y1="265.86" x2="1219.75" y2="265.86" stroke="#000" stroke-width="2.8" stroke-linecap="butt"/>
<line x1="1216.05" y1="253.61" x2="1219.75" y2="253.61" stroke="#000" stroke-width="2.8" stroke-linecap="butt"/>
<line x1="1216.05" y1="244.92" x2="1219.75" y2="244.92" stroke="#000" stroke-width="2.8" stroke-linecap="butt"/>
<line x1="1216.05" y1="238.17" x2="1219.75" y2="238.17" stroke="#000" stroke-width="2.8" stroke-linecap="butt"/>
<line x1="1216.05" y1="232.67" x2="1219.75" y2="232.67" stroke="#000" stroke-width="2.8" stroke-linecap="butt"/>
<line x1="1216.05" y1="228.01" x2="1219.75" y2="228.01" stroke="#000" stroke-width="2.8" stroke-linecap="butt"/>
<line x1="1216.05" y1="223.98" x2="1219.75" y2="223.98" stroke="#000" stroke-width="2.8" stroke-linecap="butt"/>
<line x1="1216.05" y1="220.42" x2="1219.75" y2="220.42" stroke="#000" stroke-width="2.8" stroke-linecap="butt"/>
<line x1="1213.45" y1="286.8" x2="1219.75" y2="286.8" stroke="#000" stroke-width="3.3" stroke-linecap="butt"/>
<text x="1204.95" y="283.48" font-size="13" text-anchor="end" font-weight="normal">7</text>
<text x="1198.05" y="295.88" font-size="20.5" text-anchor="end" font-weight="normal">10</text>
<line x1="1269" y1="286.8" x2="1269" y2="293.3" stroke="#000" stroke-width="3" stroke-linecap="butt"/>
<line x1="1343.4" y1="286.8" x2="1343.4" y2="293.3" stroke="#000" stroke-width="3" stroke-linecap="butt"/>
<line x1="1418" y1="286.8" x2="1418" y2="293.3" stroke="#000" stroke-width="3" stroke-linecap="butt"/>
<line x1="1492.4" y1="286.8" x2="1492.4" y2="293.3" stroke="#000" stroke-width="3" stroke-linecap="butt"/>
<text x="1265.8" y="318.6" font-size="20" text-anchor="middle" font-weight="normal">S47</text>
<text x="1339.7" y="318.6" font-size="20" text-anchor="middle" font-weight="normal">P47</text>
<text x="1414.2" y="318.6" font-size="20" text-anchor="middle" font-weight="normal">S47</text>
<text x="1488.6" y="318.6" font-size="20" text-anchor="middle" font-weight="normal">P47</text>
<text x="1145.5" y="181.7" font-size="21" text-anchor="middle" font-weight="normal" transform="rotate(-90 1145.5 181.7)">CFU/gm at end point</text>
<text x="1180.7" y="348.2" font-size="20.5" text-anchor="start" font-weight="normal">DFO</text>
<text x="1273.7" y="349.5" font-size="22.5" text-anchor="middle" font-weight="normal">−</text>
<text x="1346" y="349.5" font-size="22.5" text-anchor="middle" font-weight="normal">−</text>
<text x="1417.7" y="349.5" font-size="22.5" text-anchor="middle" font-weight="normal">+</text>
<text x="1490.3" y="349.5" font-size="22.5" text-anchor="middle" font-weight="normal">+</text>
<g>
<line x1="1269.5" y1="105.6" x2="1269.5" y2="138" stroke="#000" stroke-width="2.2" stroke-linecap="butt"/>
<line x1="1244" y1="117.4" x2="1294" y2="117.4" stroke="#000" stroke-width="2.2" stroke-linecap="butt"/>
<line x1="1256.6" y1="105.6" x2="1282" y2="105.6" stroke="#000" stroke-width="2.2" stroke-linecap="butt"/>
<line x1="1256.6" y1="138" x2="1282" y2="138" stroke="#000" stroke-width="2.2" stroke-linecap="butt"/>
<circle cx="1269" cy="102" r="4.5" fill="#000"/>
<circle cx="1282.4" cy="110.4" r="4.5" fill="#000"/>
<circle cx="1256" cy="113.4" r="4.5" fill="#000"/>
<circle cx="1269" cy="116.4" r="4.5" fill="#000"/>
<circle cx="1262.4" cy="144.4" r="4.5" fill="#000"/>
<circle cx="1275.6" cy="143" r="4.5" fill="#000"/>
</g>
<g>
<line x1="1343.4" y1="160.6" x2="1343.4" y2="182.4" stroke="#000" stroke-width="2.2" stroke-linecap="butt"/>
<line x1="1318.6" y1="182.4" x2="1368.6" y2="182.4" stroke="#000" stroke-width="2.2" stroke-linecap="butt"/>
<line x1="1331" y1="160.6" x2="1356" y2="160.6" stroke="#000" stroke-width="2.2" stroke-linecap="butt"/>
<rect x="1339" y="144.2" width="8.8" height="8.8" fill="#000"/>
<rect x="1332.6" y="166" width="8.8" height="8.8" fill="#000"/>
<rect x="1346" y="174" width="8.8" height="8.8" fill="#000"/>
<rect x="1339" y="192.6" width="8.8" height="8.8" fill="#000"/>
<rect x="1339" y="210.6" width="8.8" height="8.8" fill="#000"/>
<rect x="1346" y="226.6" width="8.8" height="8.8" fill="#000"/>
<rect x="1332.6" y="232.2" width="8.8" height="8.8" fill="#000"/>
</g>
<g>
<line x1="1418" y1="186" x2="1418" y2="286.8" stroke="#000" stroke-width="2.2" stroke-linecap="butt"/>
<line x1="1393" y1="206" x2="1443" y2="206" stroke="#000" stroke-width="2.2" stroke-linecap="butt"/>
<line x1="1405.4" y1="186" x2="1430.6" y2="186" stroke="#000" stroke-width="2.2" stroke-linecap="butt"/>
<polygon points="1411.6,174.9 1407.1,183.1 1416.1,183.1" fill="#000"/>
<polygon points="1424.6,178.9 1420.1,187.1 1429.1,187.1" fill="#000"/>
<polygon points="1411.6,211.9 1407.1,220.1 1416.1,220.1" fill="#000"/>
<polygon points="1424.6,210.9 1420.1,219.1 1429.1,219.1" fill="#000"/>
<polygon points="1418,231.3 1413.5,239.5 1422.5,239.5" fill="#000"/>
<polygon points="1424.6,242.3 1420.1,250.5 1429.1,250.5" fill="#000"/>
<polygon points="1411.6,252.3 1407.1,260.5 1416.1,260.5" fill="#000"/>
</g>
<g>
<line x1="1492.4" y1="187.4" x2="1492.4" y2="247.4" stroke="#000" stroke-width="2.2" stroke-linecap="butt"/>
<line x1="1467.4" y1="204.6" x2="1517.4" y2="204.6" stroke="#000" stroke-width="2.2" stroke-linecap="butt"/>
<line x1="1480" y1="187.4" x2="1505" y2="187.4" stroke="#000" stroke-width="2.2" stroke-linecap="butt"/>
<line x1="1480" y1="247.4" x2="1505" y2="247.4" stroke="#000" stroke-width="2.2" stroke-linecap="butt"/>
<circle cx="1492.4" cy="188.4" r="4.5" fill="#000"/>
<circle cx="1492.4" cy="201" r="4.5" fill="#000"/>
<circle cx="1492.4" cy="254" r="4.5" fill="#000"/>
</g>
<path d="M1260,75.6 L1260,59 L1400.6,59 L1400.6,141.4" fill="none" stroke="#000" stroke-width="2.4" stroke-linejoin="miter"/>
<path d="M1305,142.4 L1505.4,142.4" fill="none" stroke="#000" stroke-width="2.4" stroke-linejoin="miter"/>
<text x="1333" y="64.5" font-size="25" text-anchor="middle" font-weight="normal">**</text>
</g>
<g>
<line x1="800.2" y1="395.65" x2="800.2" y2="612.25" stroke="#000" stroke-width="3.4" stroke-linecap="butt"/>
<line x1="793.9" y1="610.8" x2="1109.4" y2="610.8" stroke="#000" stroke-width="2.9" stroke-linecap="butt"/>
<line x1="793.9" y1="397.3" x2="800.2" y2="397.3" stroke="#000" stroke-width="3.3" stroke-linecap="butt"/>
<text x="785.05" y="392.4" font-size="13" text-anchor="end" font-weight="normal">9</text>
<text x="778.15" y="404.8" font-size="20.5" text-anchor="end" font-weight="normal">10</text>
<line x1="796.5" y1="427.15" x2="800.2" y2="427.15" stroke="#000" stroke-width="2.8" stroke-linecap="butt"/>
<line x1="796.5" y1="419.63" x2="800.2" y2="419.63" stroke="#000" stroke-width="2.8" stroke-linecap="butt"/>
<line x1="796.5" y1="414.29" x2="800.2" y2="414.29" stroke="#000" stroke-width="2.8" stroke-linecap="butt"/>
<line x1="796.5" y1="410.15" x2="800.2" y2="410.15" stroke="#000" stroke-width="2.8" stroke-linecap="butt"/>
<line x1="796.5" y1="406.77" x2="800.2" y2="406.77" stroke="#000" stroke-width="2.8" stroke-linecap="butt"/>
<line x1="796.5" y1="403.91" x2="800.2" y2="403.91" stroke="#000" stroke-width="2.8" stroke-linecap="butt"/>
<line x1="796.5" y1="401.44" x2="800.2" y2="401.44" stroke="#000" stroke-width="2.8" stroke-linecap="butt"/>
<line x1="796.5" y1="399.25" x2="800.2" y2="399.25" stroke="#000" stroke-width="2.8" stroke-linecap="butt"/>
<line x1="793.9" y1="440" x2="800.2" y2="440" stroke="#000" stroke-width="3.3" stroke-linecap="butt"/>
<text x="785.05" y="435.48" font-size="13" text-anchor="end" font-weight="normal">8</text>
<text x="778.15" y="447.88" font-size="20.5" text-anchor="end" font-weight="normal">10</text>
<line x1="796.5" y1="469.85" x2="800.2" y2="469.85" stroke="#000" stroke-width="2.8" stroke-linecap="butt"/>
<line x1="796.5" y1="462.33" x2="800.2" y2="462.33" stroke="#000" stroke-width="2.8" stroke-linecap="butt"/>
<line x1="796.5" y1="456.99" x2="800.2" y2="456.99" stroke="#000" stroke-width="2.8" stroke-linecap="butt"/>
<line x1="796.5" y1="452.85" x2="800.2" y2="452.85" stroke="#000" stroke-width="2.8" stroke-linecap="butt"/>
<line x1="796.5" y1="449.47" x2="800.2" y2="449.47" stroke="#000" stroke-width="2.8" stroke-linecap="butt"/>
<line x1="796.5" y1="446.61" x2="800.2" y2="446.61" stroke="#000" stroke-width="2.8" stroke-linecap="butt"/>
<line x1="796.5" y1="444.14" x2="800.2" y2="444.14" stroke="#000" stroke-width="2.8" stroke-linecap="butt"/>
<line x1="796.5" y1="441.95" x2="800.2" y2="441.95" stroke="#000" stroke-width="2.8" stroke-linecap="butt"/>
<line x1="793.9" y1="482.7" x2="800.2" y2="482.7" stroke="#000" stroke-width="3.3" stroke-linecap="butt"/>
<text x="785.05" y="478.57" font-size="13" text-anchor="end" font-weight="normal">7</text>
<text x="778.15" y="490.97" font-size="20.5" text-anchor="end" font-weight="normal">10</text>
<line x1="796.5" y1="512.55" x2="800.2" y2="512.55" stroke="#000" stroke-width="2.8" stroke-linecap="butt"/>
<line x1="796.5" y1="505.03" x2="800.2" y2="505.03" stroke="#000" stroke-width="2.8" stroke-linecap="butt"/>
<line x1="796.5" y1="499.69" x2="800.2" y2="499.69" stroke="#000" stroke-width="2.8" stroke-linecap="butt"/>
<line x1="796.5" y1="495.55" x2="800.2" y2="495.55" stroke="#000" stroke-width="2.8" stroke-linecap="butt"/>
<line x1="796.5" y1="492.17" x2="800.2" y2="492.17" stroke="#000" stroke-width="2.8" stroke-linecap="butt"/>
<line x1="796.5" y1="489.31" x2="800.2" y2="489.31" stroke="#000" stroke-width="2.8" stroke-linecap="butt"/>
<line x1="796.5" y1="486.84" x2="800.2" y2="486.84" stroke="#000" stroke-width="2.8" stroke-linecap="butt"/>
<line x1="796.5" y1="484.65" x2="800.2" y2="484.65" stroke="#000" stroke-width="2.8" stroke-linecap="butt"/>
<line x1="793.9" y1="525.4" x2="800.2" y2="525.4" stroke="#000" stroke-width="3.3" stroke-linecap="butt"/>
<text x="785.05" y="521.65" font-size="13" text-anchor="end" font-weight="normal">6</text>
<text x="778.15" y="534.05" font-size="20.5" text-anchor="end" font-weight="normal">10</text>
<line x1="796.5" y1="555.25" x2="800.2" y2="555.25" stroke="#000" stroke-width="2.8" stroke-linecap="butt"/>
<line x1="796.5" y1="547.73" x2="800.2" y2="547.73" stroke="#000" stroke-width="2.8" stroke-linecap="butt"/>
<line x1="796.5" y1="542.39" x2="800.2" y2="542.39" stroke="#000" stroke-width="2.8" stroke-linecap="butt"/>
<line x1="796.5" y1="538.25" x2="800.2" y2="538.25" stroke="#000" stroke-width="2.8" stroke-linecap="butt"/>
<line x1="796.5" y1="534.87" x2="800.2" y2="534.87" stroke="#000" stroke-width="2.8" stroke-linecap="butt"/>
<line x1="796.5" y1="532.01" x2="800.2" y2="532.01" stroke="#000" stroke-width="2.8" stroke-linecap="butt"/>
<line x1="796.5" y1="529.54" x2="800.2" y2="529.54" stroke="#000" stroke-width="2.8" stroke-linecap="butt"/>
<line x1="796.5" y1="527.35" x2="800.2" y2="527.35" stroke="#000" stroke-width="2.8" stroke-linecap="butt"/>
<line x1="793.9" y1="568.1" x2="800.2" y2="568.1" stroke="#000" stroke-width="3.3" stroke-linecap="butt"/>
<text x="785.05" y="564.74" font-size="13" text-anchor="end" font-weight="normal">5</text>
<text x="778.15" y="577.14" font-size="20.5" text-anchor="end" font-weight="normal">10</text>
<line x1="796.5" y1="597.95" x2="800.2" y2="597.95" stroke="#000" stroke-width="2.8" stroke-linecap="butt"/>
<line x1="796.5" y1="590.43" x2="800.2" y2="590.43" stroke="#000" stroke-width="2.8" stroke-linecap="butt"/>
<line x1="796.5" y1="585.09" x2="800.2" y2="585.09" stroke="#000" stroke-width="2.8" stroke-linecap="butt"/>
<line x1="796.5" y1="580.95" x2="800.2" y2="580.95" stroke="#000" stroke-width="2.8" stroke-linecap="butt"/>
<line x1="796.5" y1="577.57" x2="800.2" y2="577.57" stroke="#000" stroke-width="2.8" stroke-linecap="butt"/>
<line x1="796.5" y1="574.71" x2="800.2" y2="574.71" stroke="#000" stroke-width="2.8" stroke-linecap="butt"/>
<line x1="796.5" y1="572.24" x2="800.2" y2="572.24" stroke="#000" stroke-width="2.8" stroke-linecap="butt"/>
<line x1="796.5" y1="570.05" x2="800.2" y2="570.05" stroke="#000" stroke-width="2.8" stroke-linecap="butt"/>
<line x1="793.9" y1="610.8" x2="800.2" y2="610.8" stroke="#000" stroke-width="3.3" stroke-linecap="butt"/>
<text x="785.05" y="607.82" font-size="13" text-anchor="end" font-weight="normal">4</text>
<text x="778.15" y="620.22" font-size="20.5" text-anchor="end" font-weight="normal">10</text>
<line x1="861.6" y1="610.8" x2="861.6" y2="617.3" stroke="#000" stroke-width="3" stroke-linecap="butt"/>
<line x1="954" y1="610.8" x2="954" y2="617.3" stroke="#000" stroke-width="3" stroke-linecap="butt"/>
<line x1="1046.4" y1="610.8" x2="1046.4" y2="617.3" stroke="#000" stroke-width="3" stroke-linecap="butt"/>
<text x="857.8" y="639.4" font-size="20" text-anchor="middle" font-weight="normal">S47</text>
<text x="952" y="639.4" font-size="20" text-anchor="middle" font-weight="normal">R72</text>
<text x="1043.5" y="639.4" font-size="20" text-anchor="middle" font-weight="normal">P47</text>
<text x="732.8" y="504.4" font-size="21" text-anchor="middle" font-weight="normal" transform="rotate(-90 732.8 504.4)">CFU/gm at end point</text>
<text x="712.3" y="357.4" font-size="20.5" text-anchor="start" font-weight="normal">Spleen</text>
<g>
<line x1="861.6" y1="438.6" x2="861.6" y2="611" stroke="#000" stroke-width="2.2" stroke-linecap="butt"/>
<line x1="830.6" y1="455" x2="892.6" y2="455" stroke="#000" stroke-width="2.2" stroke-linecap="butt"/>
<line x1="846" y1="438.6" x2="877.4" y2="438.6" stroke="#000" stroke-width="2.2" stroke-linecap="butt"/>
<circle cx="861.6" cy="425.6" r="4.5" fill="#000"/>
<circle cx="855.4" cy="445.4" r="4.5" fill="#000"/>
<circle cx="868" cy="446" r="4.5" fill="#000"/>
<circle cx="861.6" cy="460" r="4.5" fill="#000"/>
<circle cx="843" cy="464.6" r="4.5" fill="#000"/>
<circle cx="880.4" cy="468" r="4.5" fill="#000"/>
<circle cx="855.4" cy="472.4" r="4.5" fill="#000"/>
<circle cx="868" cy="474" r="4.5" fill="#000"/>
<circle cx="849.4" cy="539" r="4.5" fill="#000"/>
<circle cx="861.6" cy="547" r="4.5" fill="#000"/>
<circle cx="874" cy="545" r="4.5" fill="#000"/>
</g>
<g>
<line x1="954" y1="546" x2="954" y2="611" stroke="#000" stroke-width="2.2" stroke-linecap="butt"/>
<line x1="923" y1="563.4" x2="985" y2="563.4" stroke="#000" stroke-width="2.2" stroke-linecap="butt"/>
<line x1="938.4" y1="546" x2="970" y2="546" stroke="#000" stroke-width="2.2" stroke-linecap="butt"/>
<rect x="937.2" y="532" width="8.8" height="8.8" fill="#000"/>
<rect x="962" y="538.2" width="8.8" height="8.8" fill="#000"/>
<rect x="949.6" y="543.2" width="8.8" height="8.8" fill="#000"/>
<rect x="943.2" y="568.2" width="8.8" height="8.8" fill="#000"/>
<rect x="956" y="575.2" width="8.8" height="8.8" fill="#000"/>
<rect x="949.6" y="591" width="8.8" height="8.8" fill="#000"/>
</g>
<g>
<line x1="1046.4" y1="523" x2="1046.4" y2="611" stroke="#000" stroke-width="2.2" stroke-linecap="butt"/>
<line x1="1015.4" y1="537.4" x2="1077.4" y2="537.4" stroke="#000" stroke-width="2.2" stroke-linecap="butt"/>
<line x1="1030.6" y1="523" x2="1062" y2="523" stroke="#000" stroke-width="2.2" stroke-linecap="butt"/>
<polygon points="1040,511.9 1035.5,520.1 1044.5,520.1" fill="#000"/>
<polygon points="1052.6,513.9 1048.1,522.1 1057.1,522.1" fill="#000"/>
<polygon points="1021.6,528.9 1017.1,537.1 1026.1,537.1" fill="#000"/>
<polygon points="1065,528.9 1060.5,537.1 1069.5,537.1" fill="#000"/>
<polygon points="1052.6,530.9 1048.1,539.1 1057.1,539.1" fill="#000"/>
<polygon points="1034,538.9 1029.5,547.1 1038.5,547.1" fill="#000"/>
<polygon points="1040,551.9 1035.5,560.1 1044.5,560.1" fill="#000"/>
<polygon points="1052.6,564.5 1048.1,572.7 1057.1,572.7" fill="#000"/>
<polygon points="1046.4,579.9 1041.9,588.1 1050.9,588.1" fill="#000"/>
</g>
<path d="M864.4,358.4 L1049.4,358.4" fill="none" stroke="#000" stroke-width="2.4" stroke-linejoin="miter"/>
<path d="M864.4,383 L864.4,400.4" fill="none" stroke="#000" stroke-width="2.4" stroke-linejoin="miter"/>
<path d="M1049.4,383 L1049.4,519" fill="none" stroke="#000" stroke-width="2.4" stroke-linejoin="miter"/>
<path d="M957,521 L957,466.4 L1049.4,466.4" fill="none" stroke="#000" stroke-width="2.4" stroke-linejoin="miter"/>
<text x="941" y="364" font-size="25" text-anchor="middle" font-weight="normal">*</text>
<text x="1003.3" y="453.6" font-size="24.5" text-anchor="middle" font-weight="normal">ns</text>
</g>
<g>
<line x1="1218.8" y1="384.3" x2="1218.8" y2="594.65" stroke="#000" stroke-width="3.4" stroke-linecap="butt"/>
<line x1="1212.5" y1="593.2" x2="1543" y2="593.2" stroke="#000" stroke-width="2.9" stroke-linecap="butt"/>
<line x1="1212.5" y1="385.95" x2="1218.8" y2="385.95" stroke="#000" stroke-width="3.3" stroke-linecap="butt"/>
<text x="1204.15" y="380.15" font-size="13" text-anchor="end" font-weight="normal">10</text>
<text x="1190.05" y="392.55" font-size="20.5" text-anchor="end" font-weight="normal">10</text>
<line x1="1215.1" y1="422.17" x2="1218.8" y2="422.17" stroke="#000" stroke-width="2.8" stroke-linecap="butt"/>
<line x1="1215.1" y1="413.04" x2="1218.8" y2="413.04" stroke="#000" stroke-width="2.8" stroke-linecap="butt"/>
<line x1="1215.1" y1="406.57" x2="1218.8" y2="406.57" stroke="#000" stroke-width="2.8" stroke-linecap="butt"/>
<line x1="1215.1" y1="401.55" x2="1218.8" y2="401.55" stroke="#000" stroke-width="2.8" stroke-linecap="butt"/>
<line x1="1215.1" y1="397.44" x2="1218.8" y2="397.44" stroke="#000" stroke-width="2.8" stroke-linecap="butt"/>
<line x1="1215.1" y1="393.98" x2="1218.8" y2="393.98" stroke="#000" stroke-width="2.8" stroke-linecap="butt"/>
<line x1="1215.1" y1="390.97" x2="1218.8" y2="390.97" stroke="#000" stroke-width="2.8" stroke-linecap="butt"/>
<line x1="1215.1" y1="388.32" x2="1218.8" y2="388.32" stroke="#000" stroke-width="2.8" stroke-linecap="butt"/>
<line x1="1212.5" y1="437.76" x2="1218.8" y2="437.76" stroke="#000" stroke-width="3.3" stroke-linecap="butt"/>
<text x="1204.15" y="432.43" font-size="13" text-anchor="end" font-weight="normal">9</text>
<text x="1197.25" y="444.83" font-size="20.5" text-anchor="end" font-weight="normal">10</text>
<line x1="1215.1" y1="473.98" x2="1218.8" y2="473.98" stroke="#000" stroke-width="2.8" stroke-linecap="butt"/>
<line x1="1215.1" y1="464.85" x2="1218.8" y2="464.85" stroke="#000" stroke-width="2.8" stroke-linecap="butt"/>
<line x1="1215.1" y1="458.38" x2="1218.8" y2="458.38" stroke="#000" stroke-width="2.8" stroke-linecap="butt"/>
<line x1="1215.1" y1="453.36" x2="1218.8" y2="453.36" stroke="#000" stroke-width="2.8" stroke-linecap="butt"/>
<line x1="1215.1" y1="449.26" x2="1218.8" y2="449.26" stroke="#000" stroke-width="2.8" stroke-linecap="butt"/>
<line x1="1215.1" y1="445.79" x2="1218.8" y2="445.79" stroke="#000" stroke-width="2.8" stroke-linecap="butt"/>
<line x1="1215.1" y1="442.78" x2="1218.8" y2="442.78" stroke="#000" stroke-width="2.8" stroke-linecap="butt"/>
<line x1="1215.1" y1="440.13" x2="1218.8" y2="440.13" stroke="#000" stroke-width="2.8" stroke-linecap="butt"/>
<line x1="1212.5" y1="489.58" x2="1218.8" y2="489.58" stroke="#000" stroke-width="3.3" stroke-linecap="butt"/>
<text x="1204.15" y="484.71" font-size="13" text-anchor="end" font-weight="normal">8</text>
<text x="1197.25" y="497.11" font-size="20.5" text-anchor="end" font-weight="normal">10</text>
<line x1="1215.1" y1="525.79" x2="1218.8" y2="525.79" stroke="#000" stroke-width="2.8" stroke-linecap="butt"/>
<line x1="1215.1" y1="516.67" x2="1218.8" y2="516.67" stroke="#000" stroke-width="2.8" stroke-linecap="butt"/>
<line x1="1215.1" y1="510.19" x2="1218.8" y2="510.19" stroke="#000" stroke-width="2.8" stroke-linecap="butt"/>
<line x1="1215.1" y1="505.17" x2="1218.8" y2="505.17" stroke="#000" stroke-width="2.8" stroke-linecap="butt"/>
<line x1="1215.1" y1="501.07" x2="1218.8" y2="501.07" stroke="#000" stroke-width="2.8" stroke-linecap="butt"/>
<line x1="1215.1" y1="497.6" x2="1218.8" y2="497.6" stroke="#000" stroke-width="2.8" stroke-linecap="butt"/>
<line x1="1215.1" y1="494.6" x2="1218.8" y2="494.6" stroke="#000" stroke-width="2.8" stroke-linecap="butt"/>
<line x1="1215.1" y1="491.95" x2="1218.8" y2="491.95" stroke="#000" stroke-width="2.8" stroke-linecap="butt"/>
<line x1="1212.5" y1="541.39" x2="1218.8" y2="541.39" stroke="#000" stroke-width="3.3" stroke-linecap="butt"/>
<text x="1204.15" y="536.99" font-size="13" text-anchor="end" font-weight="normal">7</text>
<text x="1197.25" y="549.39" font-size="20.5" text-anchor="end" font-weight="normal">10</text>
<line x1="1215.1" y1="577.6" x2="1218.8" y2="577.6" stroke="#000" stroke-width="2.8" stroke-linecap="butt"/>
<line x1="1215.1" y1="568.48" x2="1218.8" y2="568.48" stroke="#000" stroke-width="2.8" stroke-linecap="butt"/>
<line x1="1215.1" y1="562.01" x2="1218.8" y2="562.01" stroke="#000" stroke-width="2.8" stroke-linecap="butt"/>
<line x1="1215.1" y1="556.98" x2="1218.8" y2="556.98" stroke="#000" stroke-width="2.8" stroke-linecap="butt"/>
<line x1="1215.1" y1="552.88" x2="1218.8" y2="552.88" stroke="#000" stroke-width="2.8" stroke-linecap="butt"/>
<line x1="1215.1" y1="549.41" x2="1218.8" y2="549.41" stroke="#000" stroke-width="2.8" stroke-linecap="butt"/>
<line x1="1215.1" y1="546.41" x2="1218.8" y2="546.41" stroke="#000" stroke-width="2.8" stroke-linecap="butt"/>
<line x1="1215.1" y1="543.76" x2="1218.8" y2="543.76" stroke="#000" stroke-width="2.8" stroke-linecap="butt"/>
<line x1="1212.5" y1="593.2" x2="1218.8" y2="593.2" stroke="#000" stroke-width="3.3" stroke-linecap="butt"/>
<text x="1204.15" y="589.27" font-size="13" text-anchor="end" font-weight="normal">6</text>
<text x="1197.25" y="601.67" font-size="20.5" text-anchor="end" font-weight="normal">10</text>
<line x1="1268.6" y1="593.2" x2="1268.6" y2="599.7" stroke="#000" stroke-width="3" stroke-linecap="butt"/>
<line x1="1343" y1="593.2" x2="1343" y2="599.7" stroke="#000" stroke-width="3" stroke-linecap="butt"/>
<line x1="1417.4" y1="593.2" x2="1417.4" y2="599.7" stroke="#000" stroke-width="3" stroke-linecap="butt"/>
<line x1="1492" y1="593.2" x2="1492" y2="599.7" stroke="#000" stroke-width="3" stroke-linecap="butt"/>
<text x="1265" y="620" font-size="20" text-anchor="middle" font-weight="normal">S47</text>
<text x="1339.3" y="620" font-size="20" text-anchor="middle" font-weight="normal">P47</text>
<text x="1413.5" y="620" font-size="20" text-anchor="middle" font-weight="normal">S47</text>
<text x="1488.5" y="620" font-size="20" text-anchor="middle" font-weight="normal">P47</text>
<text x="1145.3" y="489.8" font-size="21" text-anchor="middle" font-weight="normal" transform="rotate(-90 1145.3 489.8)">CFU/gm at end point</text>
<text x="1176.5" y="645.7" font-size="20.5" text-anchor="start" font-weight="normal">DFO</text>
<text x="1269" y="648" font-size="22.5" text-anchor="middle" font-weight="normal">−</text>
<text x="1341" y="648" font-size="22.5" text-anchor="middle" font-weight="normal">−</text>
<text x="1413.4" y="648" font-size="22.5" text-anchor="middle" font-weight="normal">+</text>
<text x="1485.4" y="648" font-size="22.5" text-anchor="middle" font-weight="normal">+</text>
<g>
<line x1="1268.6" y1="432.6" x2="1268.6" y2="509.6" stroke="#000" stroke-width="2.2" stroke-linecap="butt"/>
<line x1="1243.4" y1="447.4" x2="1293.4" y2="447.4" stroke="#000" stroke-width="2.2" stroke-linecap="butt"/>
<line x1="1256" y1="432.6" x2="1281" y2="432.6" stroke="#000" stroke-width="2.2" stroke-linecap="butt"/>
<line x1="1256" y1="509.6" x2="1281" y2="509.6" stroke="#000" stroke-width="2.2" stroke-linecap="butt"/>
<circle cx="1268.6" cy="425" r="4.5" fill="#000"/>
<circle cx="1268.6" cy="440" r="4.5" fill="#000"/>
<circle cx="1268.6" cy="454" r="4.5" fill="#000"/>
<circle cx="1255.4" cy="464.4" r="4.5" fill="#000"/>
<circle cx="1268.6" cy="472.4" r="4.5" fill="#000"/>
<circle cx="1281.4" cy="472.4" r="4.5" fill="#000"/>
</g>
<g>
<line x1="1343" y1="504.6" x2="1343" y2="593" stroke="#000" stroke-width="2.2" stroke-linecap="butt"/>
<line x1="1318" y1="523.4" x2="1368" y2="523.4" stroke="#000" stroke-width="2.2" stroke-linecap="butt"/>
<line x1="1330.4" y1="504.6" x2="1355.6" y2="504.6" stroke="#000" stroke-width="2.2" stroke-linecap="butt"/>
<rect x="1338.6" y="490.2" width="8.8" height="8.8" fill="#000"/>
<rect x="1332.2" y="511.2" width="8.8" height="8.8" fill="#000"/>
<rect x="1345.2" y="512" width="8.8" height="8.8" fill="#000"/>
<rect x="1338.6" y="543" width="8.8" height="8.8" fill="#000"/>
<rect x="1338.6" y="568" width="8.8" height="8.8" fill="#000"/>
<rect x="1345.2" y="573.6" width="8.8" height="8.8" fill="#000"/>
<rect x="1332.2" y="584.6" width="8.8" height="8.8" fill="#000"/>
</g>
<g>
<line x1="1417.4" y1="526" x2="1417.4" y2="574.6" stroke="#000" stroke-width="2.2" stroke-linecap="butt"/>
<line x1="1392.6" y1="539" x2="1442.6" y2="539" stroke="#000" stroke-width="2.2" stroke-linecap="butt"/>
<line x1="1406" y1="526" x2="1430" y2="526" stroke="#000" stroke-width="2.2" stroke-linecap="butt"/>
<line x1="1405" y1="574.6" x2="1430" y2="574.6" stroke="#000" stroke-width="2.2" stroke-linecap="butt"/>
<polygon points="1424,514.5 1419.5,522.7 1428.5,522.7" fill="#000"/>
<polygon points="1404.6,523.9 1400.1,532.1 1409.1,532.1" fill="#000"/>
<polygon points="1411,535.9 1406.5,544.1 1415.5,544.1" fill="#000"/>
<polygon points="1424,546.9 1419.5,555.1 1428.5,555.1" fill="#000"/>
<polygon points="1404.6,548.9 1400.1,557.1 1409.1,557.1" fill="#000"/>
<polygon points="1430.6,554.3 1426.1,562.5 1435.1,562.5" fill="#000"/>
<polygon points="1417.4,561.3 1412.9,569.5 1421.9,569.5" fill="#000"/>
</g>
<g>
<line x1="1492" y1="493.4" x2="1492" y2="593" stroke="#000" stroke-width="2.2" stroke-linecap="butt"/>
<line x1="1467" y1="512" x2="1517" y2="512" stroke="#000" stroke-width="2.2" stroke-linecap="butt"/>
<line x1="1479.6" y1="493.4" x2="1505" y2="493.4" stroke="#000" stroke-width="2.2" stroke-linecap="butt"/>
<circle cx="1492" cy="491" r="4.5" fill="#000"/>
<circle cx="1492" cy="531" r="4.5" fill="#000"/>
<circle cx="1492" cy="577.6" r="4.5" fill="#000"/>
</g>
<path d="M1261,411 L1261,392 L1401,392 L1401,426.4" fill="none" stroke="#000" stroke-width="2.4" stroke-linejoin="miter"/>
<path d="M1324,427.4 L1524.6,427.4" fill="none" stroke="#000" stroke-width="2.4" stroke-linejoin="miter"/>
<text x="1327" y="396" font-size="25" text-anchor="middle" font-weight="normal">*</text>
</g>
<g>
<line x1="807.25" y1="703.3" x2="807.25" y2="920.05" stroke="#000" stroke-width="3.4" stroke-linecap="butt"/>
<line x1="800.95" y1="918.6" x2="1117" y2="918.6" stroke="#000" stroke-width="2.9" stroke-linecap="butt"/>
<line x1="800.95" y1="704.95" x2="807.25" y2="704.95" stroke="#000" stroke-width="3.3" stroke-linecap="butt"/>
<text x="792.25" y="698.35" font-size="13" text-anchor="end" font-weight="normal">8</text>
<text x="785.35" y="710.75" font-size="20.5" text-anchor="end" font-weight="normal">10</text>
<line x1="803.55" y1="742.28" x2="807.25" y2="742.28" stroke="#000" stroke-width="2.8" stroke-linecap="butt"/>
<line x1="803.55" y1="732.88" x2="807.25" y2="732.88" stroke="#000" stroke-width="2.8" stroke-linecap="butt"/>
<line x1="803.55" y1="726.2" x2="807.25" y2="726.2" stroke="#000" stroke-width="2.8" stroke-linecap="butt"/>
<line x1="803.55" y1="721.03" x2="807.25" y2="721.03" stroke="#000" stroke-width="2.8" stroke-linecap="butt"/>
<line x1="803.55" y1="716.8" x2="807.25" y2="716.8" stroke="#000" stroke-width="2.8" stroke-linecap="butt"/>
<line x1="803.55" y1="713.22" x2="807.25" y2="713.22" stroke="#000" stroke-width="2.8" stroke-linecap="butt"/>
<line x1="803.55" y1="710.13" x2="807.25" y2="710.13" stroke="#000" stroke-width="2.8" stroke-linecap="butt"/>
<line x1="803.55" y1="707.39" x2="807.25" y2="707.39" stroke="#000" stroke-width="2.8" stroke-linecap="butt"/>
<line x1="800.95" y1="758.36" x2="807.25" y2="758.36" stroke="#000" stroke-width="3.3" stroke-linecap="butt"/>
<text x="792.25" y="752.24" font-size="13" text-anchor="end" font-weight="normal">7</text>
<text x="785.35" y="764.64" font-size="20.5" text-anchor="end" font-weight="normal">10</text>
<line x1="803.55" y1="795.7" x2="807.25" y2="795.7" stroke="#000" stroke-width="2.8" stroke-linecap="butt"/>
<line x1="803.55" y1="786.29" x2="807.25" y2="786.29" stroke="#000" stroke-width="2.8" stroke-linecap="butt"/>
<line x1="803.55" y1="779.62" x2="807.25" y2="779.62" stroke="#000" stroke-width="2.8" stroke-linecap="butt"/>
<line x1="803.55" y1="774.44" x2="807.25" y2="774.44" stroke="#000" stroke-width="2.8" stroke-linecap="butt"/>
<line x1="803.55" y1="770.21" x2="807.25" y2="770.21" stroke="#000" stroke-width="2.8" stroke-linecap="butt"/>
<line x1="803.55" y1="766.64" x2="807.25" y2="766.64" stroke="#000" stroke-width="2.8" stroke-linecap="butt"/>
<line x1="803.55" y1="763.54" x2="807.25" y2="763.54" stroke="#000" stroke-width="2.8" stroke-linecap="butt"/>
<line x1="803.55" y1="760.81" x2="807.25" y2="760.81" stroke="#000" stroke-width="2.8" stroke-linecap="butt"/>
<line x1="800.95" y1="811.78" x2="807.25" y2="811.78" stroke="#000" stroke-width="3.3" stroke-linecap="butt"/>
<text x="792.25" y="806.14" font-size="13" text-anchor="end" font-weight="normal">6</text>
<text x="785.35" y="818.54" font-size="20.5" text-anchor="end" font-weight="normal">10</text>
<line x1="803.55" y1="849.11" x2="807.25" y2="849.11" stroke="#000" stroke-width="2.8" stroke-linecap="butt"/>
<line x1="803.55" y1="839.7" x2="807.25" y2="839.7" stroke="#000" stroke-width="2.8" stroke-linecap="butt"/>
<line x1="803.55" y1="833.03" x2="807.25" y2="833.03" stroke="#000" stroke-width="2.8" stroke-linecap="butt"/>
<line x1="803.55" y1="827.85" x2="807.25" y2="827.85" stroke="#000" stroke-width="2.8" stroke-linecap="butt"/>
<line x1="803.55" y1="823.62" x2="807.25" y2="823.62" stroke="#000" stroke-width="2.8" stroke-linecap="butt"/>
<line x1="803.55" y1="820.05" x2="807.25" y2="820.05" stroke="#000" stroke-width="2.8" stroke-linecap="butt"/>
<line x1="803.55" y1="816.95" x2="807.25" y2="816.95" stroke="#000" stroke-width="2.8" stroke-linecap="butt"/>
<line x1="803.55" y1="814.22" x2="807.25" y2="814.22" stroke="#000" stroke-width="2.8" stroke-linecap="butt"/>
<line x1="800.95" y1="865.19" x2="807.25" y2="865.19" stroke="#000" stroke-width="3.3" stroke-linecap="butt"/>
<text x="792.25" y="860.03" font-size="13" text-anchor="end" font-weight="normal">5</text>
<text x="785.35" y="872.43" font-size="20.5" text-anchor="end" font-weight="normal">10</text>
<line x1="803.55" y1="902.52" x2="807.25" y2="902.52" stroke="#000" stroke-width="2.8" stroke-linecap="butt"/>
<line x1="803.55" y1="893.12" x2="807.25" y2="893.12" stroke="#000" stroke-width="2.8" stroke-linecap="butt"/>
<line x1="803.55" y1="886.44" x2="807.25" y2="886.44" stroke="#000" stroke-width="2.8" stroke-linecap="butt"/>
<line x1="803.55" y1="881.27" x2="807.25" y2="881.27" stroke="#000" stroke-width="2.8" stroke-linecap="butt"/>
<line x1="803.55" y1="877.04" x2="807.25" y2="877.04" stroke="#000" stroke-width="2.8" stroke-linecap="butt"/>
<line x1="803.55" y1="873.46" x2="807.25" y2="873.46" stroke="#000" stroke-width="2.8" stroke-linecap="butt"/>
<line x1="803.55" y1="870.36" x2="807.25" y2="870.36" stroke="#000" stroke-width="2.8" stroke-linecap="butt"/>
<line x1="803.55" y1="867.63" x2="807.25" y2="867.63" stroke="#000" stroke-width="2.8" stroke-linecap="butt"/>
<line x1="800.95" y1="918.6" x2="807.25" y2="918.6" stroke="#000" stroke-width="3.3" stroke-linecap="butt"/>
<text x="792.25" y="913.92" font-size="13" text-anchor="end" font-weight="normal">4</text>
<text x="785.35" y="926.32" font-size="20.5" text-anchor="end" font-weight="normal">10</text>
<line x1="868.6" y1="918.6" x2="868.6" y2="925.1" stroke="#000" stroke-width="3" stroke-linecap="butt"/>
<line x1="961.4" y1="918.6" x2="961.4" y2="925.1" stroke="#000" stroke-width="3" stroke-linecap="butt"/>
<line x1="1053.6" y1="918.6" x2="1053.6" y2="925.1" stroke="#000" stroke-width="3" stroke-linecap="butt"/>
<text x="864.5" y="948" font-size="20" text-anchor="middle" font-weight="normal">S47</text>
<text x="959.3" y="948" font-size="20" text-anchor="middle" font-weight="normal">R72</text>
<text x="1053.2" y="948" font-size="20" text-anchor="middle" font-weight="normal">P47</text>
<text x="738.4" y="809.9" font-size="21" text-anchor="middle" font-weight="normal" transform="rotate(-90 738.4 809.9)">CFU/gm at end point</text>
<text x="720.6" y="675.5" font-size="20.5" text-anchor="start" font-weight="normal">Kidney</text>
<g>
<line x1="868.6" y1="724" x2="868.6" y2="918.6" stroke="#000" stroke-width="2.2" stroke-linecap="butt"/>
<line x1="838" y1="743" x2="900" y2="743" stroke="#000" stroke-width="2.2" stroke-linecap="butt"/>
<line x1="853.6" y1="724" x2="885" y2="724" stroke="#000" stroke-width="2.2" stroke-linecap="butt"/>
<circle cx="869" cy="713" r="4.5" fill="#000"/>
<circle cx="862.6" cy="720" r="4.5" fill="#000"/>
<circle cx="881.4" cy="727.4" r="4.5" fill="#000"/>
<circle cx="875" cy="738.6" r="4.5" fill="#000"/>
<circle cx="862.6" cy="745.6" r="4.5" fill="#000"/>
<circle cx="862.6" cy="771" r="4.5" fill="#000"/>
<circle cx="875" cy="778" r="4.5" fill="#000"/>
<circle cx="869" cy="825.6" r="4.5" fill="#000"/>
<circle cx="869" cy="854" r="4.5" fill="#000"/>
<circle cx="875" cy="866" r="4.5" fill="#000"/>
<circle cx="862.6" cy="873" r="4.5" fill="#000"/>
</g>
<g>
<line x1="961.4" y1="846.6" x2="961.4" y2="918.6" stroke="#000" stroke-width="2.2" stroke-linecap="butt"/>
<line x1="930" y1="866" x2="992.4" y2="866" stroke="#000" stroke-width="2.2" stroke-linecap="butt"/>
<line x1="946" y1="846.6" x2="977" y2="846.6" stroke="#000" stroke-width="2.2" stroke-linecap="butt"/>
<rect x="951" y="828.6" width="8.8" height="8.8" fill="#000"/>
<rect x="963.2" y="839.6" width="8.8" height="8.8" fill="#000"/>
<rect x="963.2" y="854.2" width="8.8" height="8.8" fill="#000"/>
<rect x="951" y="857.2" width="8.8" height="8.8" fill="#000"/>
<rect x="951" y="879.6" width="8.8" height="8.8" fill="#000"/>
<rect x="963.2" y="882.2" width="8.8" height="8.8" fill="#000"/>
<rect x="975.6" y="899.2" width="8.8" height="8.8" fill="#000"/>
<rect x="938.2" y="903.6" width="8.8" height="8.8" fill="#000"/>
<rect x="951" y="905.6" width="8.8" height="8.8" fill="#000"/>
<rect x="963.2" y="905.2" width="8.8" height="8.8" fill="#000"/>
</g>
<g>
<line x1="1053.6" y1="830.6" x2="1053.6" y2="918.6" stroke="#000" stroke-width="2.2" stroke-linecap="butt"/>
<line x1="1022.6" y1="846.4" x2="1084.6" y2="846.4" stroke="#000" stroke-width="2.2" stroke-linecap="butt"/>
<line x1="1038.6" y1="830.6" x2="1069.4" y2="830.6" stroke="#000" stroke-width="2.2" stroke-linecap="butt"/>
<polygon points="1047.4,818.9 1042.9,827.1 1051.9,827.1" fill="#000"/>
<polygon points="1060,821.5 1055.5,829.7 1064.5,829.7" fill="#000"/>
<polygon points="1041.4,830.3 1036.9,838.5 1045.9,838.5" fill="#000"/>
<polygon points="1053.6,837.9 1049.1,846.1 1058.1,846.1" fill="#000"/>
<polygon points="1066,837.9 1061.5,846.1 1070.5,846.1" fill="#000"/>
<polygon points="1041.4,863.5 1036.9,871.7 1045.9,871.7" fill="#000"/>
<polygon points="1066,860.5 1061.5,868.7 1070.5,868.7" fill="#000"/>
<polygon points="1053.6,867.5 1049.1,875.7 1058.1,875.7" fill="#000"/>
<polygon points="1041.4,886.9 1036.9,895.1 1045.9,895.1" fill="#000"/>
<polygon points="1066,888.5 1061.5,896.7 1070.5,896.7" fill="#000"/>
<polygon points="1053.6,897.9 1049.1,906.1 1058.1,906.1" fill="#000"/>
</g>
<path d="M868.4,703 L868.4,686 L1054.4,686 L1054.4,823" fill="none" stroke="#000" stroke-width="2.4" stroke-linejoin="miter"/>
<path d="M961,823.6 L961,769.6 L1054.4,769.6" fill="none" stroke="#000" stroke-width="2.4" stroke-linejoin="miter"/>
<text x="954.4" y="692.5" font-size="25" text-anchor="middle" font-weight="normal">*</text>
<text x="1007.3" y="755.4" font-size="24.5" text-anchor="middle" font-weight="normal">ns</text>
</g>
<g>
<line x1="1212.8" y1="699.4" x2="1212.8" y2="915.45" stroke="#000" stroke-width="3.4" stroke-linecap="butt"/>
<line x1="1206.5" y1="914" x2="1537" y2="914" stroke="#000" stroke-width="2.9" stroke-linecap="butt"/>
<line x1="1206.5" y1="701.05" x2="1212.8" y2="701.05" stroke="#000" stroke-width="3.3" stroke-linecap="butt"/>
<text x="1197.45" y="693.85" font-size="13" text-anchor="end" font-weight="normal">9</text>
<text x="1190.55" y="706.25" font-size="20.5" text-anchor="end" font-weight="normal">10</text>
<line x1="1209.1" y1="750.67" x2="1212.8" y2="750.67" stroke="#000" stroke-width="2.8" stroke-linecap="butt"/>
<line x1="1209.1" y1="738.17" x2="1212.8" y2="738.17" stroke="#000" stroke-width="2.8" stroke-linecap="butt"/>
<line x1="1209.1" y1="729.3" x2="1212.8" y2="729.3" stroke="#000" stroke-width="2.8" stroke-linecap="butt"/>
<line x1="1209.1" y1="722.42" x2="1212.8" y2="722.42" stroke="#000" stroke-width="2.8" stroke-linecap="butt"/>
<line x1="1209.1" y1="716.8" x2="1212.8" y2="716.8" stroke="#000" stroke-width="2.8" stroke-linecap="butt"/>
<line x1="1209.1" y1="712.05" x2="1212.8" y2="712.05" stroke="#000" stroke-width="2.8" stroke-linecap="butt"/>
<line x1="1209.1" y1="707.93" x2="1212.8" y2="707.93" stroke="#000" stroke-width="2.8" stroke-linecap="butt"/>
<line x1="1209.1" y1="704.3" x2="1212.8" y2="704.3" stroke="#000" stroke-width="2.8" stroke-linecap="butt"/>
<line x1="1206.5" y1="772.03" x2="1212.8" y2="772.03" stroke="#000" stroke-width="3.3" stroke-linecap="butt"/>
<text x="1197.45" y="765.47" font-size="13" text-anchor="end" font-weight="normal">8</text>
<text x="1190.55" y="777.87" font-size="20.5" text-anchor="end" font-weight="normal">10</text>
<line x1="1209.1" y1="821.65" x2="1212.8" y2="821.65" stroke="#000" stroke-width="2.8" stroke-linecap="butt"/>
<line x1="1209.1" y1="809.15" x2="1212.8" y2="809.15" stroke="#000" stroke-width="2.8" stroke-linecap="butt"/>
<line x1="1209.1" y1="800.28" x2="1212.8" y2="800.28" stroke="#000" stroke-width="2.8" stroke-linecap="butt"/>
<line x1="1209.1" y1="793.4" x2="1212.8" y2="793.4" stroke="#000" stroke-width="2.8" stroke-linecap="butt"/>
<line x1="1209.1" y1="787.78" x2="1212.8" y2="787.78" stroke="#000" stroke-width="2.8" stroke-linecap="butt"/>
<line x1="1209.1" y1="783.03" x2="1212.8" y2="783.03" stroke="#000" stroke-width="2.8" stroke-linecap="butt"/>
<line x1="1209.1" y1="778.91" x2="1212.8" y2="778.91" stroke="#000" stroke-width="2.8" stroke-linecap="butt"/>
<line x1="1209.1" y1="775.28" x2="1212.8" y2="775.28" stroke="#000" stroke-width="2.8" stroke-linecap="butt"/>
<line x1="1206.5" y1="843.02" x2="1212.8" y2="843.02" stroke="#000" stroke-width="3.3" stroke-linecap="butt"/>
<text x="1197.45" y="837.09" font-size="13" text-anchor="end" font-weight="normal">7</text>
<text x="1190.55" y="849.49" font-size="20.5" text-anchor="end" font-weight="normal">10</text>
<line x1="1209.1" y1="892.63" x2="1212.8" y2="892.63" stroke="#000" stroke-width="2.8" stroke-linecap="butt"/>
<line x1="1209.1" y1="880.13" x2="1212.8" y2="880.13" stroke="#000" stroke-width="2.8" stroke-linecap="butt"/>
<line x1="1209.1" y1="871.26" x2="1212.8" y2="871.26" stroke="#000" stroke-width="2.8" stroke-linecap="butt"/>
<line x1="1209.1" y1="864.38" x2="1212.8" y2="864.38" stroke="#000" stroke-width="2.8" stroke-linecap="butt"/>
<line x1="1209.1" y1="858.76" x2="1212.8" y2="858.76" stroke="#000" stroke-width="2.8" stroke-linecap="butt"/>
<line x1="1209.1" y1="854.01" x2="1212.8" y2="854.01" stroke="#000" stroke-width="2.8" stroke-linecap="butt"/>
<line x1="1209.1" y1="849.9" x2="1212.8" y2="849.9" stroke="#000" stroke-width="2.8" stroke-linecap="butt"/>
<line x1="1209.1" y1="846.26" x2="1212.8" y2="846.26" stroke="#000" stroke-width="2.8" stroke-linecap="butt"/>
<line x1="1206.5" y1="914" x2="1212.8" y2="914" stroke="#000" stroke-width="3.3" stroke-linecap="butt"/>
<text x="1197.45" y="908.72" font-size="13" text-anchor="end" font-weight="normal">6</text>
<text x="1190.55" y="921.12" font-size="20.5" text-anchor="end" font-weight="normal">10</text>
<line x1="1262" y1="914" x2="1262" y2="920.5" stroke="#000" stroke-width="3" stroke-linecap="butt"/>
<line x1="1336.6" y1="914" x2="1336.6" y2="920.5" stroke="#000" stroke-width="3" stroke-linecap="butt"/>
<line x1="1411" y1="914" x2="1411" y2="920.5" stroke="#000" stroke-width="3" stroke-linecap="butt"/>
<line x1="1485.4" y1="914" x2="1485.4" y2="920.5" stroke="#000" stroke-width="3" stroke-linecap="butt"/>
<text x="1260" y="943" font-size="20" text-anchor="middle" font-weight="normal">S47</text>
<text x="1334.2" y="943" font-size="20" text-anchor="middle" font-weight="normal">P47</text>
<text x="1408.8" y="943" font-size="20" text-anchor="middle" font-weight="normal">S47</text>
<text x="1483.2" y="943" font-size="20" text-anchor="middle" font-weight="normal">P47</text>
<text x="1144.5" y="807" font-size="21" text-anchor="middle" font-weight="normal" transform="rotate(-90 1144.5 807)">CFU/gm at end point</text>
<text x="1172" y="971.4" font-size="20.5" text-anchor="start" font-weight="normal">DFO</text>
<text x="1264" y="972.5" font-size="22.5" text-anchor="middle" font-weight="normal">−</text>
<text x="1336" y="972.5" font-size="22.5" text-anchor="middle" font-weight="normal">−</text>
<text x="1408.4" y="972.5" font-size="22.5" text-anchor="middle" font-weight="normal">+</text>
<text x="1480.4" y="972.5" font-size="22.5" text-anchor="middle" font-weight="normal">+</text>
<g>
<line x1="1262" y1="719.6" x2="1262" y2="758" stroke="#000" stroke-width="2.2" stroke-linecap="butt"/>
<line x1="1237.4" y1="733.6" x2="1287" y2="733.6" stroke="#000" stroke-width="2.2" stroke-linecap="butt"/>
<line x1="1250" y1="719.6" x2="1274.4" y2="719.6" stroke="#000" stroke-width="2.2" stroke-linecap="butt"/>
<line x1="1249.6" y1="758" x2="1274.4" y2="758" stroke="#000" stroke-width="2.2" stroke-linecap="butt"/>
<circle cx="1243" cy="722.6" r="4.5" fill="#000"/>
<circle cx="1281" cy="720.4" r="4.5" fill="#000"/>
<circle cx="1268" cy="725.4" r="4.5" fill="#000"/>
<circle cx="1255.6" cy="729.4" r="4.5" fill="#000"/>
<circle cx="1262" cy="757" r="4.5" fill="#000"/>
<circle cx="1262" cy="787.6" r="4.5" fill="#000"/>
</g>
<g>
<line x1="1336.6" y1="863" x2="1336.6" y2="914" stroke="#000" stroke-width="2.2" stroke-linecap="butt"/>
<line x1="1311.6" y1="879.4" x2="1361.4" y2="879.4" stroke="#000" stroke-width="2.2" stroke-linecap="butt"/>
<line x1="1324" y1="863" x2="1349" y2="863" stroke="#000" stroke-width="2.2" stroke-linecap="butt"/>
<rect x="1332.2" y="850.2" width="8.8" height="8.8" fill="#000"/>
<rect x="1345.2" y="865.6" width="8.8" height="8.8" fill="#000"/>
<rect x="1319.2" y="869.6" width="8.8" height="8.8" fill="#000"/>
<rect x="1332.2" y="876.2" width="8.8" height="8.8" fill="#000"/>
<rect x="1338.6" y="888" width="8.8" height="8.8" fill="#000"/>
<rect x="1325.6" y="900.6" width="8.8" height="8.8" fill="#000"/>
</g>
<g>
<line x1="1411" y1="781.6" x2="1411" y2="807.6" stroke="#000" stroke-width="2.2" stroke-linecap="butt"/>
<line x1="1386" y1="807.6" x2="1436" y2="807.6" stroke="#000" stroke-width="2.2" stroke-linecap="butt"/>
<line x1="1398.6" y1="781.6" x2="1423.4" y2="781.6" stroke="#000" stroke-width="2.2" stroke-linecap="butt"/>
<polygon points="1411,762.9 1406.5,771.1 1415.5,771.1" fill="#000"/>
<polygon points="1404.6,802.5 1400.1,810.7 1409.1,810.7" fill="#000"/>
<polygon points="1417.4,803.9 1412.9,812.1 1421.9,812.1" fill="#000"/>
<polygon points="1411,829.9 1406.5,838.1 1415.5,838.1" fill="#000"/>
<polygon points="1404.6,837.3 1400.1,845.5 1409.1,845.5" fill="#000"/>
<polygon points="1417.4,844.5 1412.9,852.7 1421.9,852.7" fill="#000"/>
<polygon points="1411,899.5 1406.5,907.7 1415.5,907.7" fill="#000"/>
</g>
<g>
<line x1="1485.4" y1="831.6" x2="1485.4" y2="854" stroke="#000" stroke-width="2.2" stroke-linecap="butt"/>
<line x1="1460.4" y1="854" x2="1510.4" y2="854" stroke="#000" stroke-width="2.2" stroke-linecap="butt"/>
<line x1="1473" y1="831.6" x2="1498" y2="831.6" stroke="#000" stroke-width="2.2" stroke-linecap="butt"/>
<circle cx="1485.4" cy="830" r="4.5" fill="#000"/>
<circle cx="1485.4" cy="865.6" r="4.5" fill="#000"/>
</g>
<path d="M1253.4,711.6 L1253.4,691.6 L1390,691.6 L1390,727.4" fill="none" stroke="#000" stroke-width="2.4" stroke-linejoin="miter"/>
<path d="M1320.4,728.4 L1520.6,728.4" fill="none" stroke="#000" stroke-width="2.4" stroke-linejoin="miter"/>
<text x="1317.4" y="697" font-size="25" text-anchor="middle" font-weight="normal">**</text>
</g>
<g>
<line x1="799.5" y1="1020.35" x2="799.5" y2="1237.05" stroke="#000" stroke-width="3.4" stroke-linecap="butt"/>
<line x1="793.2" y1="1235.6" x2="1109.4" y2="1235.6" stroke="#000" stroke-width="2.9" stroke-linecap="butt"/>
<line x1="793.2" y1="1022" x2="799.5" y2="1022" stroke="#000" stroke-width="3.3" stroke-linecap="butt"/>
<text x="784.75" y="1015.6" font-size="13" text-anchor="end" font-weight="normal">9</text>
<text x="777.85" y="1028" font-size="20.5" text-anchor="end" font-weight="normal">10</text>
<line x1="795.8" y1="1051.86" x2="799.5" y2="1051.86" stroke="#000" stroke-width="2.8" stroke-linecap="butt"/>
<line x1="795.8" y1="1044.34" x2="799.5" y2="1044.34" stroke="#000" stroke-width="2.8" stroke-linecap="butt"/>
<line x1="795.8" y1="1039" x2="799.5" y2="1039" stroke="#000" stroke-width="2.8" stroke-linecap="butt"/>
<line x1="795.8" y1="1034.86" x2="799.5" y2="1034.86" stroke="#000" stroke-width="2.8" stroke-linecap="butt"/>
<line x1="795.8" y1="1031.48" x2="799.5" y2="1031.48" stroke="#000" stroke-width="2.8" stroke-linecap="butt"/>
<line x1="795.8" y1="1028.62" x2="799.5" y2="1028.62" stroke="#000" stroke-width="2.8" stroke-linecap="butt"/>
<line x1="795.8" y1="1026.14" x2="799.5" y2="1026.14" stroke="#000" stroke-width="2.8" stroke-linecap="butt"/>
<line x1="795.8" y1="1023.95" x2="799.5" y2="1023.95" stroke="#000" stroke-width="2.8" stroke-linecap="butt"/>
<line x1="793.2" y1="1064.72" x2="799.5" y2="1064.72" stroke="#000" stroke-width="3.3" stroke-linecap="butt"/>
<text x="784.75" y="1058.7" font-size="13" text-anchor="end" font-weight="normal">8</text>
<text x="777.85" y="1071.1" font-size="20.5" text-anchor="end" font-weight="normal">10</text>
<line x1="795.8" y1="1094.58" x2="799.5" y2="1094.58" stroke="#000" stroke-width="2.8" stroke-linecap="butt"/>
<line x1="795.8" y1="1087.06" x2="799.5" y2="1087.06" stroke="#000" stroke-width="2.8" stroke-linecap="butt"/>
<line x1="795.8" y1="1081.72" x2="799.5" y2="1081.72" stroke="#000" stroke-width="2.8" stroke-linecap="butt"/>
<line x1="795.8" y1="1077.58" x2="799.5" y2="1077.58" stroke="#000" stroke-width="2.8" stroke-linecap="butt"/>
<line x1="795.8" y1="1074.2" x2="799.5" y2="1074.2" stroke="#000" stroke-width="2.8" stroke-linecap="butt"/>
<line x1="795.8" y1="1071.34" x2="799.5" y2="1071.34" stroke="#000" stroke-width="2.8" stroke-linecap="butt"/>
<line x1="795.8" y1="1068.86" x2="799.5" y2="1068.86" stroke="#000" stroke-width="2.8" stroke-linecap="butt"/>
<line x1="795.8" y1="1066.67" x2="799.5" y2="1066.67" stroke="#000" stroke-width="2.8" stroke-linecap="butt"/>
<line x1="793.2" y1="1107.44" x2="799.5" y2="1107.44" stroke="#000" stroke-width="3.3" stroke-linecap="butt"/>
<text x="784.75" y="1101.81" font-size="13" text-anchor="end" font-weight="normal">7</text>
<text x="777.85" y="1114.21" font-size="20.5" text-anchor="end" font-weight="normal">10</text>
<line x1="795.8" y1="1137.3" x2="799.5" y2="1137.3" stroke="#000" stroke-width="2.8" stroke-linecap="butt"/>
<line x1="795.8" y1="1129.78" x2="799.5" y2="1129.78" stroke="#000" stroke-width="2.8" stroke-linecap="butt"/>
<line x1="795.8" y1="1124.44" x2="799.5" y2="1124.44" stroke="#000" stroke-width="2.8" stroke-linecap="butt"/>
<line x1="795.8" y1="1120.3" x2="799.5" y2="1120.3" stroke="#000" stroke-width="2.8" stroke-linecap="butt"/>
<line x1="795.8" y1="1116.92" x2="799.5" y2="1116.92" stroke="#000" stroke-width="2.8" stroke-linecap="butt"/>
<line x1="795.8" y1="1114.06" x2="799.5" y2="1114.06" stroke="#000" stroke-width="2.8" stroke-linecap="butt"/>
<line x1="795.8" y1="1111.58" x2="799.5" y2="1111.58" stroke="#000" stroke-width="2.8" stroke-linecap="butt"/>
<line x1="795.8" y1="1109.39" x2="799.5" y2="1109.39" stroke="#000" stroke-width="2.8" stroke-linecap="butt"/>
<line x1="793.2" y1="1150.16" x2="799.5" y2="1150.16" stroke="#000" stroke-width="3.3" stroke-linecap="butt"/>
<text x="784.75" y="1144.91" font-size="13" text-anchor="end" font-weight="normal">6</text>
<text x="777.85" y="1157.31" font-size="20.5" text-anchor="end" font-weight="normal">10</text>
<line x1="795.8" y1="1180.02" x2="799.5" y2="1180.02" stroke="#000" stroke-width="2.8" stroke-linecap="butt"/>
<line x1="795.8" y1="1172.5" x2="799.5" y2="1172.5" stroke="#000" stroke-width="2.8" stroke-linecap="butt"/>
<line x1="795.8" y1="1167.16" x2="799.5" y2="1167.16" stroke="#000" stroke-width="2.8" stroke-linecap="butt"/>
<line x1="795.8" y1="1163.02" x2="799.5" y2="1163.02" stroke="#000" stroke-width="2.8" stroke-linecap="butt"/>
<line x1="795.8" y1="1159.64" x2="799.5" y2="1159.64" stroke="#000" stroke-width="2.8" stroke-linecap="butt"/>
<line x1="795.8" y1="1156.78" x2="799.5" y2="1156.78" stroke="#000" stroke-width="2.8" stroke-linecap="butt"/>
<line x1="795.8" y1="1154.3" x2="799.5" y2="1154.3" stroke="#000" stroke-width="2.8" stroke-linecap="butt"/>
<line x1="795.8" y1="1152.11" x2="799.5" y2="1152.11" stroke="#000" stroke-width="2.8" stroke-linecap="butt"/>
<line x1="793.2" y1="1192.88" x2="799.5" y2="1192.88" stroke="#000" stroke-width="3.3" stroke-linecap="butt"/>
<text x="784.75" y="1188.02" font-size="13" text-anchor="end" font-weight="normal">5</text>
<text x="777.85" y="1200.42" font-size="20.5" text-anchor="end" font-weight="normal">10</text>
<line x1="795.8" y1="1222.74" x2="799.5" y2="1222.74" stroke="#000" stroke-width="2.8" stroke-linecap="butt"/>
<line x1="795.8" y1="1215.22" x2="799.5" y2="1215.22" stroke="#000" stroke-width="2.8" stroke-linecap="butt"/>
<line x1="795.8" y1="1209.88" x2="799.5" y2="1209.88" stroke="#000" stroke-width="2.8" stroke-linecap="butt"/>
<line x1="795.8" y1="1205.74" x2="799.5" y2="1205.74" stroke="#000" stroke-width="2.8" stroke-linecap="butt"/>
<line x1="795.8" y1="1202.36" x2="799.5" y2="1202.36" stroke="#000" stroke-width="2.8" stroke-linecap="butt"/>
<line x1="795.8" y1="1199.5" x2="799.5" y2="1199.5" stroke="#000" stroke-width="2.8" stroke-linecap="butt"/>
<line x1="795.8" y1="1197.02" x2="799.5" y2="1197.02" stroke="#000" stroke-width="2.8" stroke-linecap="butt"/>
<line x1="795.8" y1="1194.83" x2="799.5" y2="1194.83" stroke="#000" stroke-width="2.8" stroke-linecap="butt"/>
<line x1="793.2" y1="1235.6" x2="799.5" y2="1235.6" stroke="#000" stroke-width="3.3" stroke-linecap="butt"/>
<text x="784.75" y="1231.12" font-size="13" text-anchor="end" font-weight="normal">4</text>
<text x="777.85" y="1243.52" font-size="20.5" text-anchor="end" font-weight="normal">10</text>
<line x1="861" y1="1235.6" x2="861" y2="1242.1" stroke="#000" stroke-width="3" stroke-linecap="butt"/>
<line x1="953.4" y1="1235.6" x2="953.4" y2="1242.1" stroke="#000" stroke-width="3" stroke-linecap="butt"/>
<line x1="1046" y1="1235.6" x2="1046" y2="1242.1" stroke="#000" stroke-width="3" stroke-linecap="butt"/>
<text x="857.6" y="1264.4" font-size="20" text-anchor="middle" font-weight="normal">S47</text>
<text x="949.8" y="1264.4" font-size="20" text-anchor="middle" font-weight="normal">R72</text>
<text x="1043.3" y="1264.4" font-size="20" text-anchor="middle" font-weight="normal">P47</text>
<text x="731.5" y="1128.3" font-size="21" text-anchor="middle" font-weight="normal" transform="rotate(-90 731.5 1128.3)">CFU/gm at end point</text>
<text x="712.9" y="995.2" font-size="20.5" text-anchor="start" font-weight="normal">Lung</text>
<g>
<line x1="861" y1="1062" x2="861" y2="1235.6" stroke="#000" stroke-width="2.2" stroke-linecap="butt"/>
<line x1="830" y1="1078" x2="892" y2="1078" stroke="#000" stroke-width="2.2" stroke-linecap="butt"/>
<line x1="845.4" y1="1062" x2="876.6" y2="1062" stroke="#000" stroke-width="2.2" stroke-linecap="butt"/>
<circle cx="861" cy="1049" r="4.5" fill="#000"/>
<circle cx="867" cy="1066" r="4.5" fill="#000"/>
<circle cx="848.6" cy="1073" r="4.5" fill="#000"/>
<circle cx="854.6" cy="1083.6" r="4.5" fill="#000"/>
<circle cx="873.4" cy="1088" r="4.5" fill="#000"/>
<circle cx="879.6" cy="1090" r="4.5" fill="#000"/>
<circle cx="842.4" cy="1097.6" r="4.5" fill="#000"/>
<circle cx="867" cy="1098" r="4.5" fill="#000"/>
<circle cx="854.6" cy="1102.2" r="4.5" fill="#000"/>
<circle cx="861" cy="1125.4" r="4.5" fill="#000"/>
<circle cx="861" cy="1164.2" r="4.5" fill="#000"/>
</g>
<g>
<line x1="953.4" y1="1160" x2="953.4" y2="1235.6" stroke="#000" stroke-width="2.2" stroke-linecap="butt"/>
<line x1="922.4" y1="1172.4" x2="985" y2="1172.4" stroke="#000" stroke-width="2.2" stroke-linecap="butt"/>
<line x1="938" y1="1160" x2="970" y2="1160" stroke="#000" stroke-width="2.2" stroke-linecap="butt"/>
<rect x="930.6" y="1152.2" width="8.8" height="8.8" fill="#000"/>
<rect x="943" y="1154" width="8.8" height="8.8" fill="#000"/>
<rect x="955.6" y="1154" width="8.8" height="8.8" fill="#000"/>
<rect x="968" y="1153.2" width="8.8" height="8.8" fill="#000"/>
<rect x="955.6" y="1173.6" width="8.8" height="8.8" fill="#000"/>
<rect x="937" y="1178.2" width="8.8" height="8.8" fill="#000"/>
<rect x="943" y="1188" width="8.8" height="8.8" fill="#000"/>
<rect x="955.6" y="1193" width="8.8" height="8.8" fill="#000"/>
<rect x="943" y="1209" width="8.8" height="8.8" fill="#000"/>
<rect x="955.6" y="1208" width="8.8" height="8.8" fill="#000"/>
</g>
<g>
<line x1="1046" y1="1154" x2="1046" y2="1196.4" stroke="#000" stroke-width="2.2" stroke-linecap="butt"/>
<line x1="1015" y1="1165" x2="1077" y2="1165" stroke="#000" stroke-width="2.2" stroke-linecap="butt"/>
<line x1="1030.6" y1="1154" x2="1062" y2="1154" stroke="#000" stroke-width="2.2" stroke-linecap="butt"/>
<line x1="1030.6" y1="1196.4" x2="1062" y2="1196.4" stroke="#000" stroke-width="2.2" stroke-linecap="butt"/>
<polygon points="1027.4,1146.5 1022.9,1154.7 1031.9,1154.7" fill="#000"/>
<polygon points="1040,1148.5 1035.5,1156.7 1044.5,1156.7" fill="#000"/>
<polygon points="1065,1147.3 1060.5,1155.5 1069.5,1155.5" fill="#000"/>
<polygon points="1052.6,1153.9 1048.1,1162.1 1057.1,1162.1" fill="#000"/>
<polygon points="1027.4,1166.3 1022.9,1174.5 1031.9,1174.5" fill="#000"/>
<polygon points="1065,1163.9 1060.5,1172.1 1069.5,1172.1" fill="#000"/>
<polygon points="1052.6,1168.9 1048.1,1177.1 1057.1,1177.1" fill="#000"/>
<polygon points="1040,1176.5 1035.5,1184.7 1044.5,1184.7" fill="#000"/>
<polygon points="1040,1190.5 1035.5,1198.7 1044.5,1198.7" fill="#000"/>
<polygon points="1052.6,1194.9 1048.1,1203.1 1057.1,1203.1" fill="#000"/>
<polygon points="1046,1217.3 1041.5,1225.5 1050.5,1225.5" fill="#000"/>
</g>
<path d="M864.4,1025 L864.4,1008 L1049.4,1008 L1049.4,1146" fill="none" stroke="#000" stroke-width="2.4" stroke-linejoin="miter"/>
<path d="M957,1146 L957,1091.6 L1049.4,1091.6" fill="none" stroke="#000" stroke-width="2.4" stroke-linejoin="miter"/>
<text x="963.6" y="1014" font-size="25" text-anchor="middle" font-weight="normal">*</text>
<text x="1003.5" y="1087" font-size="27" text-anchor="middle" font-weight="normal">ns</text>
</g>
<g>
<line x1="1210.1" y1="1019.3" x2="1210.1" y2="1237.05" stroke="#000" stroke-width="3.4" stroke-linecap="butt"/>
<line x1="1203.8" y1="1235.6" x2="1535.4" y2="1235.6" stroke="#000" stroke-width="2.9" stroke-linecap="butt"/>
<line x1="1203.8" y1="1020.95" x2="1210.1" y2="1020.95" stroke="#000" stroke-width="3.3" stroke-linecap="butt"/>
<text x="1195.55" y="1015.05" font-size="13" text-anchor="end" font-weight="normal">9</text>
<text x="1188.65" y="1027.45" font-size="20.5" text-anchor="end" font-weight="normal">10</text>
<line x1="1206.4" y1="1070.96" x2="1210.1" y2="1070.96" stroke="#000" stroke-width="2.8" stroke-linecap="butt"/>
<line x1="1206.4" y1="1058.36" x2="1210.1" y2="1058.36" stroke="#000" stroke-width="2.8" stroke-linecap="butt"/>
<line x1="1206.4" y1="1049.42" x2="1210.1" y2="1049.42" stroke="#000" stroke-width="2.8" stroke-linecap="butt"/>
<line x1="1206.4" y1="1042.49" x2="1210.1" y2="1042.49" stroke="#000" stroke-width="2.8" stroke-linecap="butt"/>
<line x1="1206.4" y1="1036.82" x2="1210.1" y2="1036.82" stroke="#000" stroke-width="2.8" stroke-linecap="butt"/>
<line x1="1206.4" y1="1032.03" x2="1210.1" y2="1032.03" stroke="#000" stroke-width="2.8" stroke-linecap="butt"/>
<line x1="1206.4" y1="1027.88" x2="1210.1" y2="1027.88" stroke="#000" stroke-width="2.8" stroke-linecap="butt"/>
<line x1="1206.4" y1="1024.22" x2="1210.1" y2="1024.22" stroke="#000" stroke-width="2.8" stroke-linecap="butt"/>
<line x1="1203.8" y1="1092.5" x2="1210.1" y2="1092.5" stroke="#000" stroke-width="3.3" stroke-linecap="butt"/>
<text x="1195.55" y="1087.24" font-size="13" text-anchor="end" font-weight="normal">8</text>
<text x="1188.65" y="1099.64" font-size="20.5" text-anchor="end" font-weight="normal">10</text>
<line x1="1206.4" y1="1142.51" x2="1210.1" y2="1142.51" stroke="#000" stroke-width="2.8" stroke-linecap="butt"/>
<line x1="1206.4" y1="1129.91" x2="1210.1" y2="1129.91" stroke="#000" stroke-width="2.8" stroke-linecap="butt"/>
<line x1="1206.4" y1="1120.97" x2="1210.1" y2="1120.97" stroke="#000" stroke-width="2.8" stroke-linecap="butt"/>
<line x1="1206.4" y1="1114.04" x2="1210.1" y2="1114.04" stroke="#000" stroke-width="2.8" stroke-linecap="butt"/>
<line x1="1206.4" y1="1108.37" x2="1210.1" y2="1108.37" stroke="#000" stroke-width="2.8" stroke-linecap="butt"/>
<line x1="1206.4" y1="1103.58" x2="1210.1" y2="1103.58" stroke="#000" stroke-width="2.8" stroke-linecap="butt"/>
<line x1="1206.4" y1="1099.43" x2="1210.1" y2="1099.43" stroke="#000" stroke-width="2.8" stroke-linecap="butt"/>
<line x1="1206.4" y1="1095.77" x2="1210.1" y2="1095.77" stroke="#000" stroke-width="2.8" stroke-linecap="butt"/>
<line x1="1203.8" y1="1164.05" x2="1210.1" y2="1164.05" stroke="#000" stroke-width="3.3" stroke-linecap="butt"/>
<text x="1195.55" y="1159.44" font-size="13" text-anchor="end" font-weight="normal">7</text>
<text x="1188.65" y="1171.84" font-size="20.5" text-anchor="end" font-weight="normal">10</text>
<line x1="1206.4" y1="1214.06" x2="1210.1" y2="1214.06" stroke="#000" stroke-width="2.8" stroke-linecap="butt"/>
<line x1="1206.4" y1="1201.46" x2="1210.1" y2="1201.46" stroke="#000" stroke-width="2.8" stroke-linecap="butt"/>
<line x1="1206.4" y1="1192.52" x2="1210.1" y2="1192.52" stroke="#000" stroke-width="2.8" stroke-linecap="butt"/>
<line x1="1206.4" y1="1185.59" x2="1210.1" y2="1185.59" stroke="#000" stroke-width="2.8" stroke-linecap="butt"/>
<line x1="1206.4" y1="1179.92" x2="1210.1" y2="1179.92" stroke="#000" stroke-width="2.8" stroke-linecap="butt"/>
<line x1="1206.4" y1="1175.13" x2="1210.1" y2="1175.13" stroke="#000" stroke-width="2.8" stroke-linecap="butt"/>
<line x1="1206.4" y1="1170.98" x2="1210.1" y2="1170.98" stroke="#000" stroke-width="2.8" stroke-linecap="butt"/>
<line x1="1206.4" y1="1167.32" x2="1210.1" y2="1167.32" stroke="#000" stroke-width="2.8" stroke-linecap="butt"/>
<line x1="1203.8" y1="1235.6" x2="1210.1" y2="1235.6" stroke="#000" stroke-width="3.3" stroke-linecap="butt"/>
<text x="1195.55" y="1231.63" font-size="13" text-anchor="end" font-weight="normal">6</text>
<text x="1188.65" y="1244.03" font-size="20.5" text-anchor="end" font-weight="normal">10</text>
<line x1="1260" y1="1235.6" x2="1260" y2="1242.1" stroke="#000" stroke-width="3" stroke-linecap="butt"/>
<line x1="1334.6" y1="1235.6" x2="1334.6" y2="1242.1" stroke="#000" stroke-width="3" stroke-linecap="butt"/>
<line x1="1409" y1="1235.6" x2="1409" y2="1242.1" stroke="#000" stroke-width="3" stroke-linecap="butt"/>
<line x1="1483.6" y1="1235.6" x2="1483.6" y2="1242.1" stroke="#000" stroke-width="3" stroke-linecap="butt"/>
<text x="1258" y="1265" font-size="20" text-anchor="middle" font-weight="normal">S47</text>
<text x="1332.7" y="1265" font-size="20" text-anchor="middle" font-weight="normal">P47</text>
<text x="1406.8" y="1265" font-size="20" text-anchor="middle" font-weight="normal">S47</text>
<text x="1481.8" y="1265" font-size="20" text-anchor="middle" font-weight="normal">P47</text>
<text x="1141.5" y="1127" font-size="21" text-anchor="middle" font-weight="normal" transform="rotate(-90 1141.5 1127)">CFU/gm at end point</text>
<text x="1164.2" y="1289.4" font-size="20.5" text-anchor="start" font-weight="normal">DFO</text>
<text x="1261" y="1292.5" font-size="22.5" text-anchor="middle" font-weight="normal">−</text>
<text x="1333" y="1292.5" font-size="22.5" text-anchor="middle" font-weight="normal">−</text>
<text x="1408.6" y="1292.5" font-size="22.5" text-anchor="middle" font-weight="normal">+</text>
<text x="1480.4" y="1292.5" font-size="22.5" text-anchor="middle" font-weight="normal">+</text>
<g>
<line x1="1260" y1="1053.4" x2="1260" y2="1084.2" stroke="#000" stroke-width="2.2" stroke-linecap="butt"/>
<line x1="1235.4" y1="1065.4" x2="1285" y2="1065.4" stroke="#000" stroke-width="2.2" stroke-linecap="butt"/>
<line x1="1247.6" y1="1053.4" x2="1272.4" y2="1053.4" stroke="#000" stroke-width="2.2" stroke-linecap="butt"/>
<line x1="1247.6" y1="1084.2" x2="1272.4" y2="1084.2" stroke="#000" stroke-width="2.2" stroke-linecap="butt"/>
<circle cx="1260" cy="1047.4" r="4.5" fill="#000"/>
<circle cx="1253.6" cy="1057.4" r="4.5" fill="#000"/>
<circle cx="1266.6" cy="1065.4" r="4.5" fill="#000"/>
<circle cx="1247" cy="1074.4" r="4.5" fill="#000"/>
<circle cx="1273" cy="1078.4" r="4.5" fill="#000"/>
<circle cx="1260" cy="1083" r="4.5" fill="#000"/>
</g>
<g>
<line x1="1334.6" y1="1175.6" x2="1334.6" y2="1235.6" stroke="#000" stroke-width="2.2" stroke-linecap="butt"/>
<line x1="1309.4" y1="1198" x2="1359.4" y2="1198" stroke="#000" stroke-width="2.2" stroke-linecap="butt"/>
<line x1="1322.4" y1="1175.6" x2="1347" y2="1175.6" stroke="#000" stroke-width="2.2" stroke-linecap="butt"/>
<rect x="1330.2" y="1157" width="8.8" height="8.8" fill="#000"/>
<rect x="1330.2" y="1186.2" width="8.8" height="8.8" fill="#000"/>
<rect x="1323.6" y="1203" width="8.8" height="8.8" fill="#000"/>
<rect x="1336.6" y="1212" width="8.8" height="8.8" fill="#000"/>
<rect x="1317.2" y="1217.2" width="8.8" height="8.8" fill="#000"/>
<rect x="1343.2" y="1228.2" width="8.8" height="8.8" fill="#000"/>
<rect x="1330.2" y="1230" width="8.8" height="8.8" fill="#000"/>
</g>
<g>
<line x1="1409" y1="1129.6" x2="1409" y2="1199.4" stroke="#000" stroke-width="2.2" stroke-linecap="butt"/>
<line x1="1384.4" y1="1148" x2="1434" y2="1148" stroke="#000" stroke-width="2.2" stroke-linecap="butt"/>
<line x1="1396.6" y1="1129.6" x2="1421.4" y2="1129.6" stroke="#000" stroke-width="2.2" stroke-linecap="butt"/>
<line x1="1396.6" y1="1199.4" x2="1421.4" y2="1199.4" stroke="#000" stroke-width="2.2" stroke-linecap="butt"/>
<polygon points="1402.6,1120.9 1398.1,1129.1 1407.1,1129.1" fill="#000"/>
<polygon points="1416,1120.9 1411.5,1129.1 1420.5,1129.1" fill="#000"/>
<polygon points="1409,1142.9 1404.5,1151.1 1413.5,1151.1" fill="#000"/>
<polygon points="1402.6,1158.9 1398.1,1167.1 1407.1,1167.1" fill="#000"/>
<polygon points="1422,1167.3 1417.5,1175.5 1426.5,1175.5" fill="#000"/>
<polygon points="1415.4,1176.9 1410.9,1185.1 1419.9,1185.1" fill="#000"/>
<polygon points="1402.6,1189.3 1398.1,1197.5 1407.1,1197.5" fill="#000"/>
</g>
<g>
<line x1="1483.6" y1="1197.4" x2="1483.6" y2="1233.6" stroke="#000" stroke-width="2.2" stroke-linecap="butt"/>
<line x1="1459" y1="1211" x2="1508.6" y2="1211" stroke="#000" stroke-width="2.2" stroke-linecap="butt"/>
<line x1="1471.4" y1="1197.4" x2="1496" y2="1197.4" stroke="#000" stroke-width="2.2" stroke-linecap="butt"/>
<line x1="1471.4" y1="1233.4" x2="1496" y2="1233.4" stroke="#000" stroke-width="2.2" stroke-linecap="butt"/>
<circle cx="1483.6" cy="1197" r="4.5" fill="#000"/>
<circle cx="1483.6" cy="1213.4" r="4.5" fill="#000"/>
<circle cx="1483.6" cy="1232.6" r="4.5" fill="#000"/>
</g>
<path d="M1257.4,1035.4 L1257.4,1016.4 L1394,1016.4 L1394,1051" fill="none" stroke="#000" stroke-width="2.4" stroke-linejoin="miter"/>
<path d="M1318.4,1052 L1518.6,1052" fill="none" stroke="#000" stroke-width="2.4" stroke-linejoin="miter"/>
<text x="1321.6" y="1021" font-size="25" text-anchor="middle" font-weight="normal">**</text>
</g>
<g>
<line x1="807.25" y1="1331.4" x2="807.25" y2="1548.05" stroke="#000" stroke-width="3.4" stroke-linecap="butt"/>
<line x1="800.95" y1="1546.6" x2="1117" y2="1546.6" stroke="#000" stroke-width="2.9" stroke-linecap="butt"/>
<line x1="800.95" y1="1333.05" x2="807.25" y2="1333.05" stroke="#000" stroke-width="3.3" stroke-linecap="butt"/>
<text x="792.4" y="1328.15" font-size="13" text-anchor="end" font-weight="normal">8</text>
<text x="785.5" y="1340.55" font-size="20.5" text-anchor="end" font-weight="normal">10</text>
<line x1="803.55" y1="1370.37" x2="807.25" y2="1370.37" stroke="#000" stroke-width="2.8" stroke-linecap="butt"/>
<line x1="803.55" y1="1360.97" x2="807.25" y2="1360.97" stroke="#000" stroke-width="2.8" stroke-linecap="butt"/>
<line x1="803.55" y1="1354.3" x2="807.25" y2="1354.3" stroke="#000" stroke-width="2.8" stroke-linecap="butt"/>
<line x1="803.55" y1="1349.12" x2="807.25" y2="1349.12" stroke="#000" stroke-width="2.8" stroke-linecap="butt"/>
<line x1="803.55" y1="1344.89" x2="807.25" y2="1344.89" stroke="#000" stroke-width="2.8" stroke-linecap="butt"/>
<line x1="803.55" y1="1341.32" x2="807.25" y2="1341.32" stroke="#000" stroke-width="2.8" stroke-linecap="butt"/>
<line x1="803.55" y1="1338.22" x2="807.25" y2="1338.22" stroke="#000" stroke-width="2.8" stroke-linecap="butt"/>
<line x1="803.55" y1="1335.49" x2="807.25" y2="1335.49" stroke="#000" stroke-width="2.8" stroke-linecap="butt"/>
<line x1="800.95" y1="1386.44" x2="807.25" y2="1386.44" stroke="#000" stroke-width="3.3" stroke-linecap="butt"/>
<text x="792.4" y="1382.02" font-size="13" text-anchor="end" font-weight="normal">7</text>
<text x="785.5" y="1394.42" font-size="20.5" text-anchor="end" font-weight="normal">10</text>
<line x1="803.55" y1="1423.75" x2="807.25" y2="1423.75" stroke="#000" stroke-width="2.8" stroke-linecap="butt"/>
<line x1="803.55" y1="1414.35" x2="807.25" y2="1414.35" stroke="#000" stroke-width="2.8" stroke-linecap="butt"/>
<line x1="803.55" y1="1407.68" x2="807.25" y2="1407.68" stroke="#000" stroke-width="2.8" stroke-linecap="butt"/>
<line x1="803.55" y1="1402.51" x2="807.25" y2="1402.51" stroke="#000" stroke-width="2.8" stroke-linecap="butt"/>
<line x1="803.55" y1="1398.28" x2="807.25" y2="1398.28" stroke="#000" stroke-width="2.8" stroke-linecap="butt"/>
<line x1="803.55" y1="1394.71" x2="807.25" y2="1394.71" stroke="#000" stroke-width="2.8" stroke-linecap="butt"/>
<line x1="803.55" y1="1391.61" x2="807.25" y2="1391.61" stroke="#000" stroke-width="2.8" stroke-linecap="butt"/>
<line x1="803.55" y1="1388.88" x2="807.25" y2="1388.88" stroke="#000" stroke-width="2.8" stroke-linecap="butt"/>
<line x1="800.95" y1="1439.82" x2="807.25" y2="1439.82" stroke="#000" stroke-width="3.3" stroke-linecap="butt"/>
<text x="792.4" y="1435.89" font-size="13" text-anchor="end" font-weight="normal">6</text>
<text x="785.5" y="1448.29" font-size="20.5" text-anchor="end" font-weight="normal">10</text>
<line x1="803.55" y1="1477.14" x2="807.25" y2="1477.14" stroke="#000" stroke-width="2.8" stroke-linecap="butt"/>
<line x1="803.55" y1="1467.74" x2="807.25" y2="1467.74" stroke="#000" stroke-width="2.8" stroke-linecap="butt"/>
<line x1="803.55" y1="1461.07" x2="807.25" y2="1461.07" stroke="#000" stroke-width="2.8" stroke-linecap="butt"/>
<line x1="803.55" y1="1455.9" x2="807.25" y2="1455.9" stroke="#000" stroke-width="2.8" stroke-linecap="butt"/>
<line x1="803.55" y1="1451.67" x2="807.25" y2="1451.67" stroke="#000" stroke-width="2.8" stroke-linecap="butt"/>
<line x1="803.55" y1="1448.09" x2="807.25" y2="1448.09" stroke="#000" stroke-width="2.8" stroke-linecap="butt"/>
<line x1="803.55" y1="1445" x2="807.25" y2="1445" stroke="#000" stroke-width="2.8" stroke-linecap="butt"/>
<line x1="803.55" y1="1442.27" x2="807.25" y2="1442.27" stroke="#000" stroke-width="2.8" stroke-linecap="butt"/>
<line x1="800.95" y1="1493.21" x2="807.25" y2="1493.21" stroke="#000" stroke-width="3.3" stroke-linecap="butt"/>
<text x="792.4" y="1489.75" font-size="13" text-anchor="end" font-weight="normal">5</text>
<text x="785.5" y="1502.15" font-size="20.5" text-anchor="end" font-weight="normal">10</text>
<line x1="803.55" y1="1530.53" x2="807.25" y2="1530.53" stroke="#000" stroke-width="2.8" stroke-linecap="butt"/>
<line x1="803.55" y1="1521.13" x2="807.25" y2="1521.13" stroke="#000" stroke-width="2.8" stroke-linecap="butt"/>
<line x1="803.55" y1="1514.46" x2="807.25" y2="1514.46" stroke="#000" stroke-width="2.8" stroke-linecap="butt"/>
<line x1="803.55" y1="1509.28" x2="807.25" y2="1509.28" stroke="#000" stroke-width="2.8" stroke-linecap="butt"/>
<line x1="803.55" y1="1505.06" x2="807.25" y2="1505.06" stroke="#000" stroke-width="2.8" stroke-linecap="butt"/>
<line x1="803.55" y1="1501.48" x2="807.25" y2="1501.48" stroke="#000" stroke-width="2.8" stroke-linecap="butt"/>
<line x1="803.55" y1="1498.39" x2="807.25" y2="1498.39" stroke="#000" stroke-width="2.8" stroke-linecap="butt"/>
<line x1="803.55" y1="1495.66" x2="807.25" y2="1495.66" stroke="#000" stroke-width="2.8" stroke-linecap="butt"/>
<line x1="800.95" y1="1546.6" x2="807.25" y2="1546.6" stroke="#000" stroke-width="3.3" stroke-linecap="butt"/>
<text x="792.4" y="1543.62" font-size="13" text-anchor="end" font-weight="normal">4</text>
<text x="785.5" y="1556.02" font-size="20.5" text-anchor="end" font-weight="normal">10</text>
<line x1="868.6" y1="1546.6" x2="868.6" y2="1553.1" stroke="#000" stroke-width="3" stroke-linecap="butt"/>
<line x1="961.4" y1="1546.6" x2="961.4" y2="1553.1" stroke="#000" stroke-width="3" stroke-linecap="butt"/>
<line x1="1053.6" y1="1546.6" x2="1053.6" y2="1553.1" stroke="#000" stroke-width="3" stroke-linecap="butt"/>
<text x="865.7" y="1576" font-size="20" text-anchor="middle" font-weight="normal">S47</text>
<text x="960" y="1576" font-size="20" text-anchor="middle" font-weight="normal">R72</text>
<text x="1050" y="1576" font-size="20" text-anchor="middle" font-weight="normal">P47</text>
<text x="738" y="1439.3" font-size="21" text-anchor="middle" font-weight="normal" transform="rotate(-90 738 1439.3)">CFU/gm at end point</text>
<text x="721.4" y="1307.9" font-size="20.5" text-anchor="start" font-weight="normal">Brain</text>
<g>
<line x1="868.6" y1="1381" x2="868.6" y2="1546.6" stroke="#000" stroke-width="2.2" stroke-linecap="butt"/>
<line x1="838" y1="1398.4" x2="900" y2="1398.4" stroke="#000" stroke-width="2.2" stroke-linecap="butt"/>
<line x1="857" y1="1381" x2="880" y2="1381" stroke="#000" stroke-width="2.2" stroke-linecap="butt"/>
<circle cx="869" cy="1369.6" r="4.5" fill="#000"/>
<circle cx="881.4" cy="1380" r="4.5" fill="#000"/>
<circle cx="856.4" cy="1383.6" r="4.5" fill="#000"/>
<circle cx="869" cy="1392" r="4.5" fill="#000"/>
<circle cx="875" cy="1405" r="4.5" fill="#000"/>
<circle cx="862.6" cy="1407.4" r="4.5" fill="#000"/>
<circle cx="862.6" cy="1422.6" r="4.5" fill="#000"/>
<circle cx="875" cy="1423" r="4.5" fill="#000"/>
<circle cx="856.4" cy="1499" r="4.5" fill="#000"/>
<circle cx="869" cy="1500" r="4.5" fill="#000"/>
<circle cx="881.4" cy="1499" r="4.5" fill="#000"/>
</g>
<g>
<line x1="961.4" y1="1487.6" x2="961.4" y2="1546.6" stroke="#000" stroke-width="2.2" stroke-linecap="butt"/>
<line x1="930" y1="1504.4" x2="992.4" y2="1504.4" stroke="#000" stroke-width="2.2" stroke-linecap="butt"/>
<line x1="946" y1="1487.6" x2="977" y2="1487.6" stroke="#000" stroke-width="2.2" stroke-linecap="butt"/>
<rect x="957" y="1472" width="8.8" height="8.8" fill="#000"/>
<rect x="951" y="1479.6" width="8.8" height="8.8" fill="#000"/>
<rect x="969.6" y="1490.6" width="8.8" height="8.8" fill="#000"/>
<rect x="963.2" y="1495.6" width="8.8" height="8.8" fill="#000"/>
<rect x="951" y="1505" width="8.8" height="8.8" fill="#000"/>
<rect x="969.6" y="1514.6" width="8.8" height="8.8" fill="#000"/>
<rect x="944.6" y="1520.6" width="8.8" height="8.8" fill="#000"/>
<rect x="957" y="1525.2" width="8.8" height="8.8" fill="#000"/>
<rect x="951" y="1538.6" width="8.8" height="8.8" fill="#000"/>
<rect x="963.2" y="1537" width="8.8" height="8.8" fill="#000"/>
</g>
<g>
<line x1="1053.6" y1="1482.4" x2="1053.6" y2="1546.6" stroke="#000" stroke-width="2.2" stroke-linecap="butt"/>
<line x1="1022.6" y1="1497.4" x2="1084.6" y2="1497.4" stroke="#000" stroke-width="2.2" stroke-linecap="butt"/>
<line x1="1038.6" y1="1482.4" x2="1069.4" y2="1482.4" stroke="#000" stroke-width="2.2" stroke-linecap="butt"/>
<polygon points="1047.4,1471.5 1042.9,1479.7 1051.9,1479.7" fill="#000"/>
<polygon points="1066,1473.9 1061.5,1482.1 1070.5,1482.1" fill="#000"/>
<polygon points="1060,1481.9 1055.5,1490.1 1064.5,1490.1" fill="#000"/>
<polygon points="1047.4,1487.3 1042.9,1495.5 1051.9,1495.5" fill="#000"/>
<polygon points="1066,1492.5 1061.5,1500.7 1070.5,1500.7" fill="#000"/>
<polygon points="1041.4,1502.5 1036.9,1510.7 1045.9,1510.7" fill="#000"/>
<polygon points="1053.6,1502.5 1049.1,1510.7 1058.1,1510.7" fill="#000"/>
<polygon points="1060,1517.3 1055.5,1525.5 1064.5,1525.5" fill="#000"/>
<polygon points="1047.4,1519.5 1042.9,1527.7 1051.9,1527.7" fill="#000"/>
</g>
<path d="M868.4,1342.4 L868.4,1325.6 L1054.4,1325.6 L1054.4,1463" fill="none" stroke="#000" stroke-width="2.4" stroke-linejoin="miter"/>
<path d="M961,1463 L961,1409.4 L1054.4,1409.4" fill="none" stroke="#000" stroke-width="2.4" stroke-linejoin="miter"/>
<text x="945" y="1331.5" font-size="25" text-anchor="middle" font-weight="normal">*</text>
<text x="1007.3" y="1396" font-size="27" text-anchor="middle" font-weight="normal">ns</text>
</g>
<g>
<line x1="1225.9" y1="1360.35" x2="1225.9" y2="1569.85" stroke="#000" stroke-width="3.4" stroke-linecap="butt"/>
<line x1="1219.6" y1="1568.4" x2="1550" y2="1568.4" stroke="#000" stroke-width="2.9" stroke-linecap="butt"/>
<line x1="1219.6" y1="1362" x2="1225.9" y2="1362" stroke="#000" stroke-width="3.3" stroke-linecap="butt"/>
<text x="1210.7" y="1355.6" font-size="13" text-anchor="end" font-weight="normal">9</text>
<text x="1203.8" y="1368" font-size="20.5" text-anchor="end" font-weight="normal">10</text>
<line x1="1222.2" y1="1398.07" x2="1225.9" y2="1398.07" stroke="#000" stroke-width="2.8" stroke-linecap="butt"/>
<line x1="1222.2" y1="1388.98" x2="1225.9" y2="1388.98" stroke="#000" stroke-width="2.8" stroke-linecap="butt"/>
<line x1="1222.2" y1="1382.53" x2="1225.9" y2="1382.53" stroke="#000" stroke-width="2.8" stroke-linecap="butt"/>
<line x1="1222.2" y1="1377.53" x2="1225.9" y2="1377.53" stroke="#000" stroke-width="2.8" stroke-linecap="butt"/>
<line x1="1222.2" y1="1373.45" x2="1225.9" y2="1373.45" stroke="#000" stroke-width="2.8" stroke-linecap="butt"/>
<line x1="1222.2" y1="1369.99" x2="1225.9" y2="1369.99" stroke="#000" stroke-width="2.8" stroke-linecap="butt"/>
<line x1="1222.2" y1="1367" x2="1225.9" y2="1367" stroke="#000" stroke-width="2.8" stroke-linecap="butt"/>
<line x1="1222.2" y1="1364.36" x2="1225.9" y2="1364.36" stroke="#000" stroke-width="2.8" stroke-linecap="butt"/>
<line x1="1219.6" y1="1413.6" x2="1225.9" y2="1413.6" stroke="#000" stroke-width="3.3" stroke-linecap="butt"/>
<text x="1210.7" y="1407.66" font-size="13" text-anchor="end" font-weight="normal">8</text>
<text x="1203.8" y="1420.06" font-size="20.5" text-anchor="end" font-weight="normal">10</text>
<line x1="1222.2" y1="1449.67" x2="1225.9" y2="1449.67" stroke="#000" stroke-width="2.8" stroke-linecap="butt"/>
<line x1="1222.2" y1="1440.58" x2="1225.9" y2="1440.58" stroke="#000" stroke-width="2.8" stroke-linecap="butt"/>
<line x1="1222.2" y1="1434.13" x2="1225.9" y2="1434.13" stroke="#000" stroke-width="2.8" stroke-linecap="butt"/>
<line x1="1222.2" y1="1429.13" x2="1225.9" y2="1429.13" stroke="#000" stroke-width="2.8" stroke-linecap="butt"/>
<line x1="1222.2" y1="1425.05" x2="1225.9" y2="1425.05" stroke="#000" stroke-width="2.8" stroke-linecap="butt"/>
<line x1="1222.2" y1="1421.59" x2="1225.9" y2="1421.59" stroke="#000" stroke-width="2.8" stroke-linecap="butt"/>
<line x1="1222.2" y1="1418.6" x2="1225.9" y2="1418.6" stroke="#000" stroke-width="2.8" stroke-linecap="butt"/>
<line x1="1222.2" y1="1415.96" x2="1225.9" y2="1415.96" stroke="#000" stroke-width="2.8" stroke-linecap="butt"/>
<line x1="1219.6" y1="1465.2" x2="1225.9" y2="1465.2" stroke="#000" stroke-width="3.3" stroke-linecap="butt"/>
<text x="1210.7" y="1459.73" font-size="13" text-anchor="end" font-weight="normal">7</text>
<text x="1203.8" y="1472.13" font-size="20.5" text-anchor="end" font-weight="normal">10</text>
<line x1="1222.2" y1="1501.27" x2="1225.9" y2="1501.27" stroke="#000" stroke-width="2.8" stroke-linecap="butt"/>
<line x1="1222.2" y1="1492.18" x2="1225.9" y2="1492.18" stroke="#000" stroke-width="2.8" stroke-linecap="butt"/>
<line x1="1222.2" y1="1485.73" x2="1225.9" y2="1485.73" stroke="#000" stroke-width="2.8" stroke-linecap="butt"/>
<line x1="1222.2" y1="1480.73" x2="1225.9" y2="1480.73" stroke="#000" stroke-width="2.8" stroke-linecap="butt"/>
<line x1="1222.2" y1="1476.65" x2="1225.9" y2="1476.65" stroke="#000" stroke-width="2.8" stroke-linecap="butt"/>
<line x1="1222.2" y1="1473.19" x2="1225.9" y2="1473.19" stroke="#000" stroke-width="2.8" stroke-linecap="butt"/>
<line x1="1222.2" y1="1470.2" x2="1225.9" y2="1470.2" stroke="#000" stroke-width="2.8" stroke-linecap="butt"/>
<line x1="1222.2" y1="1467.56" x2="1225.9" y2="1467.56" stroke="#000" stroke-width="2.8" stroke-linecap="butt"/>
<line x1="1219.6" y1="1516.8" x2="1225.9" y2="1516.8" stroke="#000" stroke-width="3.3" stroke-linecap="butt"/>
<text x="1210.7" y="1511.79" font-size="13" text-anchor="end" font-weight="normal">6</text>
<text x="1203.8" y="1524.19" font-size="20.5" text-anchor="end" font-weight="normal">10</text>
<line x1="1222.2" y1="1552.87" x2="1225.9" y2="1552.87" stroke="#000" stroke-width="2.8" stroke-linecap="butt"/>
<line x1="1222.2" y1="1543.78" x2="1225.9" y2="1543.78" stroke="#000" stroke-width="2.8" stroke-linecap="butt"/>
<line x1="1222.2" y1="1537.33" x2="1225.9" y2="1537.33" stroke="#000" stroke-width="2.8" stroke-linecap="butt"/>
<line x1="1222.2" y1="1532.33" x2="1225.9" y2="1532.33" stroke="#000" stroke-width="2.8" stroke-linecap="butt"/>
<line x1="1222.2" y1="1528.25" x2="1225.9" y2="1528.25" stroke="#000" stroke-width="2.8" stroke-linecap="butt"/>
<line x1="1222.2" y1="1524.79" x2="1225.9" y2="1524.79" stroke="#000" stroke-width="2.8" stroke-linecap="butt"/>
<line x1="1222.2" y1="1521.8" x2="1225.9" y2="1521.8" stroke="#000" stroke-width="2.8" stroke-linecap="butt"/>
<line x1="1222.2" y1="1519.16" x2="1225.9" y2="1519.16" stroke="#000" stroke-width="2.8" stroke-linecap="butt"/>
<line x1="1219.6" y1="1568.4" x2="1225.9" y2="1568.4" stroke="#000" stroke-width="3.3" stroke-linecap="butt"/>
<text x="1210.7" y="1563.86" font-size="13" text-anchor="end" font-weight="normal">5</text>
<text x="1203.8" y="1576.26" font-size="20.5" text-anchor="end" font-weight="normal">10</text>
<line x1="1275" y1="1568.4" x2="1275" y2="1574.9" stroke="#000" stroke-width="3" stroke-linecap="butt"/>
<line x1="1349.4" y1="1568.4" x2="1349.4" y2="1574.9" stroke="#000" stroke-width="3" stroke-linecap="butt"/>
<line x1="1424" y1="1568.4" x2="1424" y2="1574.9" stroke="#000" stroke-width="3" stroke-linecap="butt"/>
<line x1="1498.4" y1="1568.4" x2="1498.4" y2="1574.9" stroke="#000" stroke-width="3" stroke-linecap="butt"/>
<text x="1273.6" y="1597" font-size="20" text-anchor="middle" font-weight="normal">S47</text>
<text x="1348" y="1597" font-size="20" text-anchor="middle" font-weight="normal">P47</text>
<text x="1422.3" y="1597" font-size="20" text-anchor="middle" font-weight="normal">S47</text>
<text x="1497" y="1597" font-size="20" text-anchor="middle" font-weight="normal">P47</text>
<text x="1157.1" y="1464.7" font-size="21" text-anchor="middle" font-weight="normal" transform="rotate(-90 1157.1 1464.7)">CFU/gm at end point</text>
<text x="1185.9" y="1619.6" font-size="20.5" text-anchor="start" font-weight="normal">DFO</text>
<text x="1278" y="1620" font-size="22.5" text-anchor="middle" font-weight="normal">−</text>
<text x="1350" y="1620" font-size="22.5" text-anchor="middle" font-weight="normal">−</text>
<text x="1422" y="1620" font-size="22.5" text-anchor="middle" font-weight="normal">+</text>
<text x="1494.4" y="1620" font-size="22.5" text-anchor="middle" font-weight="normal">+</text>
<g>
<line x1="1275.6" y1="1404.4" x2="1275.6" y2="1436" stroke="#000" stroke-width="2.2" stroke-linecap="butt"/>
<line x1="1250.4" y1="1415" x2="1300.4" y2="1415" stroke="#000" stroke-width="2.2" stroke-linecap="butt"/>
<line x1="1263" y1="1404.4" x2="1288" y2="1404.4" stroke="#000" stroke-width="2.2" stroke-linecap="butt"/>
<line x1="1263" y1="1436" x2="1288" y2="1436" stroke="#000" stroke-width="2.2" stroke-linecap="butt"/>
<circle cx="1275.4" cy="1398" r="4.5" fill="#000"/>
<circle cx="1269" cy="1410.4" r="4.5" fill="#000"/>
<circle cx="1281.6" cy="1416.6" r="4.5" fill="#000"/>
<circle cx="1262.4" cy="1423.6" r="4.5" fill="#000"/>
<circle cx="1288.4" cy="1427" r="4.5" fill="#000"/>
<circle cx="1275.4" cy="1430.6" r="4.5" fill="#000"/>
</g>
<g>
<line x1="1349.6" y1="1488.6" x2="1349.6" y2="1527.6" stroke="#000" stroke-width="2.2" stroke-linecap="butt"/>
<line x1="1324.6" y1="1500.4" x2="1374.6" y2="1500.4" stroke="#000" stroke-width="2.2" stroke-linecap="butt"/>
<line x1="1337.4" y1="1488.6" x2="1362.4" y2="1488.6" stroke="#000" stroke-width="2.2" stroke-linecap="butt"/>
<line x1="1337.4" y1="1527.6" x2="1362.4" y2="1527.6" stroke="#000" stroke-width="2.2" stroke-linecap="butt"/>
<rect x="1339" y="1480.6" width="8.8" height="8.8" fill="#000"/>
<rect x="1358" y="1484" width="8.8" height="8.8" fill="#000"/>
<rect x="1351.6" y="1488.2" width="8.8" height="8.8" fill="#000"/>
<rect x="1332.6" y="1500.2" width="8.8" height="8.8" fill="#000"/>
<rect x="1339" y="1511.6" width="8.8" height="8.8" fill="#000"/>
<rect x="1351.6" y="1516.6" width="8.8" height="8.8" fill="#000"/>
<rect x="1345.2" y="1537" width="8.8" height="8.8" fill="#000"/>
</g>
<g>
<line x1="1424" y1="1457" x2="1424" y2="1488.6" stroke="#000" stroke-width="2.2" stroke-linecap="butt"/>
<line x1="1399" y1="1467.6" x2="1449" y2="1467.6" stroke="#000" stroke-width="2.2" stroke-linecap="butt"/>
<line x1="1411.4" y1="1457" x2="1436.6" y2="1457" stroke="#000" stroke-width="2.2" stroke-linecap="butt"/>
<line x1="1411.4" y1="1488.6" x2="1436.6" y2="1488.6" stroke="#000" stroke-width="2.2" stroke-linecap="butt"/>
<polygon points="1417.6,1449.9 1413.1,1458.1 1422.1,1458.1" fill="#000"/>
<polygon points="1430.4,1449.3 1425.9,1457.5 1434.9,1457.5" fill="#000"/>
<polygon points="1437,1460.9 1432.5,1469.1 1441.5,1469.1" fill="#000"/>
<polygon points="1411,1472.5 1406.5,1480.7 1415.5,1480.7" fill="#000"/>
<polygon points="1424,1472.9 1419.5,1481.1 1428.5,1481.1" fill="#000"/>
<polygon points="1430.4,1477.3 1425.9,1485.5 1434.9,1485.5" fill="#000"/>
<polygon points="1417.6,1486.5 1413.1,1494.7 1422.1,1494.7" fill="#000"/>
</g>
<g>
<line x1="1498.4" y1="1510" x2="1498.4" y2="1543.4" stroke="#000" stroke-width="2.2" stroke-linecap="butt"/>
<line x1="1473.4" y1="1521" x2="1523.4" y2="1521" stroke="#000" stroke-width="2.2" stroke-linecap="butt"/>
<line x1="1486" y1="1510" x2="1511" y2="1510" stroke="#000" stroke-width="2.2" stroke-linecap="butt"/>
<line x1="1486" y1="1543.4" x2="1511" y2="1543.4" stroke="#000" stroke-width="2.2" stroke-linecap="butt"/>
<circle cx="1492" cy="1510.6" r="4.5" fill="#000"/>
<circle cx="1505" cy="1518.6" r="4.5" fill="#000"/>
<circle cx="1498.4" cy="1546" r="4.5" fill="#000"/>
</g>
<path d="M1278.4,1380.6 L1278.4,1361 L1415,1361 L1415,1396" fill="none" stroke="#000" stroke-width="2.4" stroke-linejoin="miter"/>
<path d="M1339.4,1397 L1519.4,1397" fill="none" stroke="#000" stroke-width="2.4" stroke-linejoin="miter"/>
<text x="1342.4" y="1366" font-size="25" text-anchor="middle" font-weight="normal">*</text>
</g>
</g>
</svg>
</body>
</html>
